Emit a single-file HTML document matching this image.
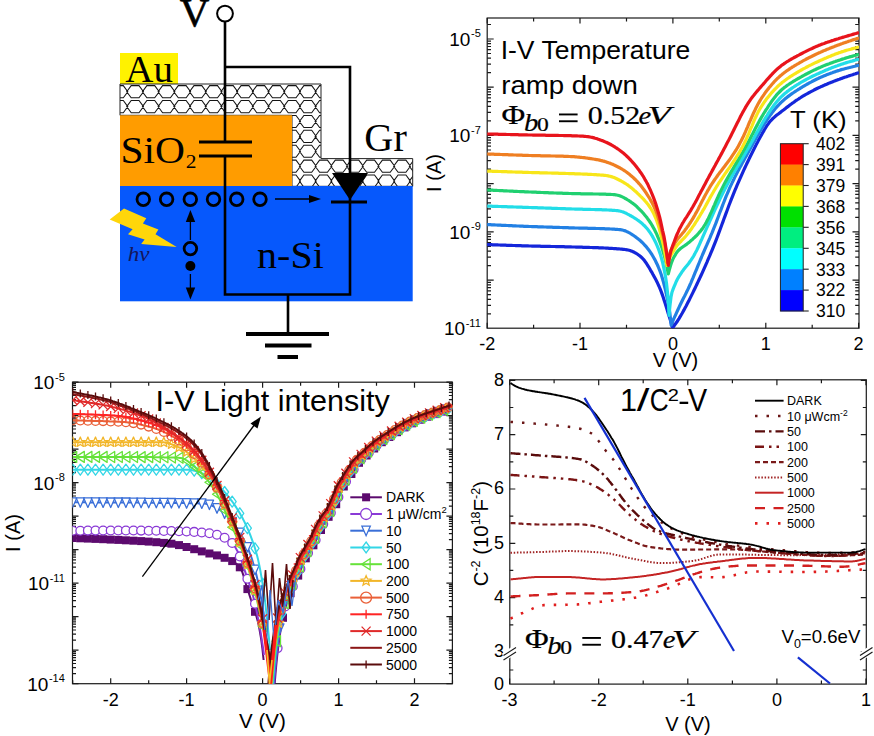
<!DOCTYPE html>
<html><head><meta charset="utf-8"><style>
html,body{margin:0;padding:0;background:#fff;}
svg{display:block;}
</style></head><body>
<svg width="874" height="736" viewBox="0 0 874 736">
<rect width="874" height="736" fill="#fff"/>
<rect x="120" y="53" width="58" height="31" fill="#fff200"/>
<text transform="translate(125.32,82.00) scale(0.9993,1)" font-family="Liberation Serif" font-size="38.93" fill="#000">Au</text>
<polygon points="120,84 321,84 321,158.6 412.7,158.6 412.7,186.3 292,186.3 292,115.3 120,115.3" fill="#fff"/>
<defs><clipPath id="gclip"><polygon points="120,84 321,84 321,158.6 412.7,158.6 412.7,186.3 292,186.3 292,115.3 120,115.3"/></clipPath></defs>
<path d="M115.5,85.6 L123.3,85.6 L127.8,91.7 L123.3,97.8 L115.5,97.8 L111.0,91.7 Z M131.2,85.6 L139.0,85.6 L143.5,91.7 L139.0,97.8 L131.2,97.8 L126.7,91.7 Z M146.9,85.6 L154.7,85.6 L159.2,91.7 L154.7,97.8 L146.9,97.8 L142.4,91.7 Z M162.6,85.6 L170.4,85.6 L174.9,91.7 L170.4,97.8 L162.6,97.8 L158.1,91.7 Z M178.3,85.6 L186.1,85.6 L190.6,91.7 L186.1,97.8 L178.3,97.8 L173.8,91.7 Z M194.0,85.6 L201.8,85.6 L206.3,91.7 L201.8,97.8 L194.0,97.8 L189.5,91.7 Z M209.7,85.6 L217.5,85.6 L222.0,91.7 L217.5,97.8 L209.7,97.8 L205.2,91.7 Z M225.4,85.6 L233.2,85.6 L237.7,91.7 L233.2,97.8 L225.4,97.8 L220.9,91.7 Z M241.1,85.6 L248.9,85.6 L253.4,91.7 L248.9,97.8 L241.1,97.8 L236.6,91.7 Z M256.8,85.6 L264.6,85.6 L269.1,91.7 L264.6,97.8 L256.8,97.8 L252.3,91.7 Z M272.5,85.6 L280.3,85.6 L284.8,91.7 L280.3,97.8 L272.5,97.8 L268.0,91.7 Z M288.2,85.6 L296.0,85.6 L300.5,91.7 L296.0,97.8 L288.2,97.8 L283.7,91.7 Z M303.9,85.6 L311.7,85.6 L316.2,91.7 L311.7,97.8 L303.9,97.8 L299.4,91.7 Z M319.6,85.6 L327.4,85.6 L331.9,91.7 L327.4,97.8 L319.6,97.8 L315.1,91.7 Z M335.3,85.6 L343.1,85.6 L347.6,91.7 L343.1,97.8 L335.3,97.8 L330.8,91.7 Z M351.0,85.6 L358.8,85.6 L363.3,91.7 L358.8,97.8 L351.0,97.8 L346.5,91.7 Z M366.7,85.6 L374.5,85.6 L379.0,91.7 L374.5,97.8 L366.7,97.8 L362.2,91.7 Z M382.4,85.6 L390.2,85.6 L394.7,91.7 L390.2,97.8 L382.4,97.8 L377.9,91.7 Z M398.1,85.6 L405.9,85.6 L410.4,91.7 L405.9,97.8 L398.1,97.8 L393.6,91.7 Z M413.8,85.6 L421.6,85.6 L426.1,91.7 L421.6,97.8 L413.8,97.8 L409.3,91.7 Z M115.5,100.5 L123.3,100.5 L127.8,106.6 L123.3,112.7 L115.5,112.7 L111.0,106.6 Z M131.2,100.5 L139.0,100.5 L143.5,106.6 L139.0,112.7 L131.2,112.7 L126.7,106.6 Z M146.9,100.5 L154.7,100.5 L159.2,106.6 L154.7,112.7 L146.9,112.7 L142.4,106.6 Z M162.6,100.5 L170.4,100.5 L174.9,106.6 L170.4,112.7 L162.6,112.7 L158.1,106.6 Z M178.3,100.5 L186.1,100.5 L190.6,106.6 L186.1,112.7 L178.3,112.7 L173.8,106.6 Z M194.0,100.5 L201.8,100.5 L206.3,106.6 L201.8,112.7 L194.0,112.7 L189.5,106.6 Z M209.7,100.5 L217.5,100.5 L222.0,106.6 L217.5,112.7 L209.7,112.7 L205.2,106.6 Z M225.4,100.5 L233.2,100.5 L237.7,106.6 L233.2,112.7 L225.4,112.7 L220.9,106.6 Z M241.1,100.5 L248.9,100.5 L253.4,106.6 L248.9,112.7 L241.1,112.7 L236.6,106.6 Z M256.8,100.5 L264.6,100.5 L269.1,106.6 L264.6,112.7 L256.8,112.7 L252.3,106.6 Z M272.5,100.5 L280.3,100.5 L284.8,106.6 L280.3,112.7 L272.5,112.7 L268.0,106.6 Z M288.2,100.5 L296.0,100.5 L300.5,106.6 L296.0,112.7 L288.2,112.7 L283.7,106.6 Z M303.9,100.5 L311.7,100.5 L316.2,106.6 L311.7,112.7 L303.9,112.7 L299.4,106.6 Z M319.6,100.5 L327.4,100.5 L331.9,106.6 L327.4,112.7 L319.6,112.7 L315.1,106.6 Z M335.3,100.5 L343.1,100.5 L347.6,106.6 L343.1,112.7 L335.3,112.7 L330.8,106.6 Z M351.0,100.5 L358.8,100.5 L363.3,106.6 L358.8,112.7 L351.0,112.7 L346.5,106.6 Z M366.7,100.5 L374.5,100.5 L379.0,106.6 L374.5,112.7 L366.7,112.7 L362.2,106.6 Z M382.4,100.5 L390.2,100.5 L394.7,106.6 L390.2,112.7 L382.4,112.7 L377.9,106.6 Z M398.1,100.5 L405.9,100.5 L410.4,106.6 L405.9,112.7 L398.1,112.7 L393.6,106.6 Z M413.8,100.5 L421.6,100.5 L426.1,106.6 L421.6,112.7 L413.8,112.7 L409.3,106.6 Z M115.5,115.4 L123.3,115.4 L127.8,121.5 L123.3,127.5 L115.5,127.5 L111.0,121.5 Z M131.2,115.4 L139.0,115.4 L143.5,121.5 L139.0,127.5 L131.2,127.5 L126.7,121.5 Z M146.9,115.4 L154.7,115.4 L159.2,121.5 L154.7,127.5 L146.9,127.5 L142.4,121.5 Z M162.6,115.4 L170.4,115.4 L174.9,121.5 L170.4,127.5 L162.6,127.5 L158.1,121.5 Z M178.3,115.4 L186.1,115.4 L190.6,121.5 L186.1,127.5 L178.3,127.5 L173.8,121.5 Z M194.0,115.4 L201.8,115.4 L206.3,121.5 L201.8,127.5 L194.0,127.5 L189.5,121.5 Z M209.7,115.4 L217.5,115.4 L222.0,121.5 L217.5,127.5 L209.7,127.5 L205.2,121.5 Z M225.4,115.4 L233.2,115.4 L237.7,121.5 L233.2,127.5 L225.4,127.5 L220.9,121.5 Z M241.1,115.4 L248.9,115.4 L253.4,121.5 L248.9,127.5 L241.1,127.5 L236.6,121.5 Z M256.8,115.4 L264.6,115.4 L269.1,121.5 L264.6,127.5 L256.8,127.5 L252.3,121.5 Z M272.5,115.4 L280.3,115.4 L284.8,121.5 L280.3,127.5 L272.5,127.5 L268.0,121.5 Z M288.2,115.4 L296.0,115.4 L300.5,121.5 L296.0,127.5 L288.2,127.5 L283.7,121.5 Z M303.9,115.4 L311.7,115.4 L316.2,121.5 L311.7,127.5 L303.9,127.5 L299.4,121.5 Z M319.6,115.4 L327.4,115.4 L331.9,121.5 L327.4,127.5 L319.6,127.5 L315.1,121.5 Z M335.3,115.4 L343.1,115.4 L347.6,121.5 L343.1,127.5 L335.3,127.5 L330.8,121.5 Z M351.0,115.4 L358.8,115.4 L363.3,121.5 L358.8,127.5 L351.0,127.5 L346.5,121.5 Z M366.7,115.4 L374.5,115.4 L379.0,121.5 L374.5,127.5 L366.7,127.5 L362.2,121.5 Z M382.4,115.4 L390.2,115.4 L394.7,121.5 L390.2,127.5 L382.4,127.5 L377.9,121.5 Z M398.1,115.4 L405.9,115.4 L410.4,121.5 L405.9,127.5 L398.1,127.5 L393.6,121.5 Z M413.8,115.4 L421.6,115.4 L426.1,121.5 L421.6,127.5 L413.8,127.5 L409.3,121.5 Z M115.5,130.3 L123.3,130.3 L127.8,136.4 L123.3,142.5 L115.5,142.5 L111.0,136.4 Z M131.2,130.3 L139.0,130.3 L143.5,136.4 L139.0,142.5 L131.2,142.5 L126.7,136.4 Z M146.9,130.3 L154.7,130.3 L159.2,136.4 L154.7,142.5 L146.9,142.5 L142.4,136.4 Z M162.6,130.3 L170.4,130.3 L174.9,136.4 L170.4,142.5 L162.6,142.5 L158.1,136.4 Z M178.3,130.3 L186.1,130.3 L190.6,136.4 L186.1,142.5 L178.3,142.5 L173.8,136.4 Z M194.0,130.3 L201.8,130.3 L206.3,136.4 L201.8,142.5 L194.0,142.5 L189.5,136.4 Z M209.7,130.3 L217.5,130.3 L222.0,136.4 L217.5,142.5 L209.7,142.5 L205.2,136.4 Z M225.4,130.3 L233.2,130.3 L237.7,136.4 L233.2,142.5 L225.4,142.5 L220.9,136.4 Z M241.1,130.3 L248.9,130.3 L253.4,136.4 L248.9,142.5 L241.1,142.5 L236.6,136.4 Z M256.8,130.3 L264.6,130.3 L269.1,136.4 L264.6,142.5 L256.8,142.5 L252.3,136.4 Z M272.5,130.3 L280.3,130.3 L284.8,136.4 L280.3,142.5 L272.5,142.5 L268.0,136.4 Z M288.2,130.3 L296.0,130.3 L300.5,136.4 L296.0,142.5 L288.2,142.5 L283.7,136.4 Z M303.9,130.3 L311.7,130.3 L316.2,136.4 L311.7,142.5 L303.9,142.5 L299.4,136.4 Z M319.6,130.3 L327.4,130.3 L331.9,136.4 L327.4,142.5 L319.6,142.5 L315.1,136.4 Z M335.3,130.3 L343.1,130.3 L347.6,136.4 L343.1,142.5 L335.3,142.5 L330.8,136.4 Z M351.0,130.3 L358.8,130.3 L363.3,136.4 L358.8,142.5 L351.0,142.5 L346.5,136.4 Z M366.7,130.3 L374.5,130.3 L379.0,136.4 L374.5,142.5 L366.7,142.5 L362.2,136.4 Z M382.4,130.3 L390.2,130.3 L394.7,136.4 L390.2,142.5 L382.4,142.5 L377.9,136.4 Z M398.1,130.3 L405.9,130.3 L410.4,136.4 L405.9,142.5 L398.1,142.5 L393.6,136.4 Z M413.8,130.3 L421.6,130.3 L426.1,136.4 L421.6,142.5 L413.8,142.5 L409.3,136.4 Z M115.5,145.2 L123.3,145.2 L127.8,151.2 L123.3,157.3 L115.5,157.3 L111.0,151.2 Z M131.2,145.2 L139.0,145.2 L143.5,151.2 L139.0,157.3 L131.2,157.3 L126.7,151.2 Z M146.9,145.2 L154.7,145.2 L159.2,151.2 L154.7,157.3 L146.9,157.3 L142.4,151.2 Z M162.6,145.2 L170.4,145.2 L174.9,151.2 L170.4,157.3 L162.6,157.3 L158.1,151.2 Z M178.3,145.2 L186.1,145.2 L190.6,151.2 L186.1,157.3 L178.3,157.3 L173.8,151.2 Z M194.0,145.2 L201.8,145.2 L206.3,151.2 L201.8,157.3 L194.0,157.3 L189.5,151.2 Z M209.7,145.2 L217.5,145.2 L222.0,151.2 L217.5,157.3 L209.7,157.3 L205.2,151.2 Z M225.4,145.2 L233.2,145.2 L237.7,151.2 L233.2,157.3 L225.4,157.3 L220.9,151.2 Z M241.1,145.2 L248.9,145.2 L253.4,151.2 L248.9,157.3 L241.1,157.3 L236.6,151.2 Z M256.8,145.2 L264.6,145.2 L269.1,151.2 L264.6,157.3 L256.8,157.3 L252.3,151.2 Z M272.5,145.2 L280.3,145.2 L284.8,151.2 L280.3,157.3 L272.5,157.3 L268.0,151.2 Z M288.2,145.2 L296.0,145.2 L300.5,151.2 L296.0,157.3 L288.2,157.3 L283.7,151.2 Z M303.9,145.2 L311.7,145.2 L316.2,151.2 L311.7,157.3 L303.9,157.3 L299.4,151.2 Z M319.6,145.2 L327.4,145.2 L331.9,151.2 L327.4,157.3 L319.6,157.3 L315.1,151.2 Z M335.3,145.2 L343.1,145.2 L347.6,151.2 L343.1,157.3 L335.3,157.3 L330.8,151.2 Z M351.0,145.2 L358.8,145.2 L363.3,151.2 L358.8,157.3 L351.0,157.3 L346.5,151.2 Z M366.7,145.2 L374.5,145.2 L379.0,151.2 L374.5,157.3 L366.7,157.3 L362.2,151.2 Z M382.4,145.2 L390.2,145.2 L394.7,151.2 L390.2,157.3 L382.4,157.3 L377.9,151.2 Z M398.1,145.2 L405.9,145.2 L410.4,151.2 L405.9,157.3 L398.1,157.3 L393.6,151.2 Z M413.8,145.2 L421.6,145.2 L426.1,151.2 L421.6,157.3 L413.8,157.3 L409.3,151.2 Z M115.5,160.1 L123.3,160.1 L127.8,166.2 L123.3,172.2 L115.5,172.2 L111.0,166.2 Z M131.2,160.1 L139.0,160.1 L143.5,166.2 L139.0,172.2 L131.2,172.2 L126.7,166.2 Z M146.9,160.1 L154.7,160.1 L159.2,166.2 L154.7,172.2 L146.9,172.2 L142.4,166.2 Z M162.6,160.1 L170.4,160.1 L174.9,166.2 L170.4,172.2 L162.6,172.2 L158.1,166.2 Z M178.3,160.1 L186.1,160.1 L190.6,166.2 L186.1,172.2 L178.3,172.2 L173.8,166.2 Z M194.0,160.1 L201.8,160.1 L206.3,166.2 L201.8,172.2 L194.0,172.2 L189.5,166.2 Z M209.7,160.1 L217.5,160.1 L222.0,166.2 L217.5,172.2 L209.7,172.2 L205.2,166.2 Z M225.4,160.1 L233.2,160.1 L237.7,166.2 L233.2,172.2 L225.4,172.2 L220.9,166.2 Z M241.1,160.1 L248.9,160.1 L253.4,166.2 L248.9,172.2 L241.1,172.2 L236.6,166.2 Z M256.8,160.1 L264.6,160.1 L269.1,166.2 L264.6,172.2 L256.8,172.2 L252.3,166.2 Z M272.5,160.1 L280.3,160.1 L284.8,166.2 L280.3,172.2 L272.5,172.2 L268.0,166.2 Z M288.2,160.1 L296.0,160.1 L300.5,166.2 L296.0,172.2 L288.2,172.2 L283.7,166.2 Z M303.9,160.1 L311.7,160.1 L316.2,166.2 L311.7,172.2 L303.9,172.2 L299.4,166.2 Z M319.6,160.1 L327.4,160.1 L331.9,166.2 L327.4,172.2 L319.6,172.2 L315.1,166.2 Z M335.3,160.1 L343.1,160.1 L347.6,166.2 L343.1,172.2 L335.3,172.2 L330.8,166.2 Z M351.0,160.1 L358.8,160.1 L363.3,166.2 L358.8,172.2 L351.0,172.2 L346.5,166.2 Z M366.7,160.1 L374.5,160.1 L379.0,166.2 L374.5,172.2 L366.7,172.2 L362.2,166.2 Z M382.4,160.1 L390.2,160.1 L394.7,166.2 L390.2,172.2 L382.4,172.2 L377.9,166.2 Z M398.1,160.1 L405.9,160.1 L410.4,166.2 L405.9,172.2 L398.1,172.2 L393.6,166.2 Z M413.8,160.1 L421.6,160.1 L426.1,166.2 L421.6,172.2 L413.8,172.2 L409.3,166.2 Z M115.5,175.0 L123.3,175.0 L127.8,181.1 L123.3,187.2 L115.5,187.2 L111.0,181.1 Z M131.2,175.0 L139.0,175.0 L143.5,181.1 L139.0,187.2 L131.2,187.2 L126.7,181.1 Z M146.9,175.0 L154.7,175.0 L159.2,181.1 L154.7,187.2 L146.9,187.2 L142.4,181.1 Z M162.6,175.0 L170.4,175.0 L174.9,181.1 L170.4,187.2 L162.6,187.2 L158.1,181.1 Z M178.3,175.0 L186.1,175.0 L190.6,181.1 L186.1,187.2 L178.3,187.2 L173.8,181.1 Z M194.0,175.0 L201.8,175.0 L206.3,181.1 L201.8,187.2 L194.0,187.2 L189.5,181.1 Z M209.7,175.0 L217.5,175.0 L222.0,181.1 L217.5,187.2 L209.7,187.2 L205.2,181.1 Z M225.4,175.0 L233.2,175.0 L237.7,181.1 L233.2,187.2 L225.4,187.2 L220.9,181.1 Z M241.1,175.0 L248.9,175.0 L253.4,181.1 L248.9,187.2 L241.1,187.2 L236.6,181.1 Z M256.8,175.0 L264.6,175.0 L269.1,181.1 L264.6,187.2 L256.8,187.2 L252.3,181.1 Z M272.5,175.0 L280.3,175.0 L284.8,181.1 L280.3,187.2 L272.5,187.2 L268.0,181.1 Z M288.2,175.0 L296.0,175.0 L300.5,181.1 L296.0,187.2 L288.2,187.2 L283.7,181.1 Z M303.9,175.0 L311.7,175.0 L316.2,181.1 L311.7,187.2 L303.9,187.2 L299.4,181.1 Z M319.6,175.0 L327.4,175.0 L331.9,181.1 L327.4,187.2 L319.6,187.2 L315.1,181.1 Z M335.3,175.0 L343.1,175.0 L347.6,181.1 L343.1,187.2 L335.3,187.2 L330.8,181.1 Z M351.0,175.0 L358.8,175.0 L363.3,181.1 L358.8,187.2 L351.0,187.2 L346.5,181.1 Z M366.7,175.0 L374.5,175.0 L379.0,181.1 L374.5,187.2 L366.7,187.2 L362.2,181.1 Z M382.4,175.0 L390.2,175.0 L394.7,181.1 L390.2,187.2 L382.4,187.2 L377.9,181.1 Z M398.1,175.0 L405.9,175.0 L410.4,181.1 L405.9,187.2 L398.1,187.2 L393.6,181.1 Z M413.8,175.0 L421.6,175.0 L426.1,181.1 L421.6,187.2 L413.8,187.2 L409.3,181.1 Z " fill="none" stroke="#151515" stroke-width="1.05" clip-path="url(#gclip)"/>
<polygon points="120,84 321,84 321,158.6 412.7,158.6 412.7,186.3 292,186.3 292,115.3 120,115.3" fill="none" stroke="#222" stroke-width="1"/>
<rect x="120" y="115.3" width="172" height="71" fill="#ff9c00"/>
<text transform="translate(120.43,162.70) scale(1.1048,1)" font-family="Liberation Serif" font-size="37.50" fill="#000">SiO</text>
<text transform="translate(185.86,167.60) scale(1.0843,1)" font-family="Liberation Serif" font-size="19.79" fill="#000">2</text>
<rect x="120" y="186" width="292.7" height="115.3" fill="#0658fc"/>
<text transform="translate(257.08,268.00) scale(1.0667,1)" font-family="Liberation Serif" font-size="37.50" fill="#000">n-Si</text>
<text transform="translate(364.35,151.00) scale(1.0027,1)" font-family="Liberation Serif" font-size="40.17" fill="#000">Gr</text>
<text transform="translate(179.84,26.40) scale(1.0251,1)" font-family="Liberation Serif" font-size="40.01" fill="#000" stroke="#000" stroke-width="0.6">V</text>
<circle cx="225" cy="13.6" r="7.9" fill="#fff" stroke="#000" stroke-width="2"/>
<g stroke="#000" stroke-width="2.6" fill="none">
<path d="M225,21 V142 M225,156 V294.5 H350 V67 H225"/>
<path d="M288,294.5 V334"/>
</g>
<rect x="199" y="140.5" width="53" height="3" fill="#000"/>
<rect x="199" y="154.5" width="53" height="3" fill="#000"/>
<polygon points="332,173 368,173 350,200" fill="#000"/>
<rect x="331" y="200.5" width="36" height="3" fill="#000"/>
<rect x="246" y="332" width="83" height="4" fill="#000"/>
<rect x="265" y="343.5" width="46.5" height="4" fill="#000"/>
<rect x="277.5" y="355" width="20.5" height="4" fill="#000"/>
<circle cx="143.3" cy="199.3" r="6.3" fill="none" stroke="#000" stroke-width="2.8"/>
<circle cx="166.6" cy="199.3" r="6.3" fill="none" stroke="#000" stroke-width="2.8"/>
<circle cx="190.3" cy="199.3" r="6.3" fill="none" stroke="#000" stroke-width="2.8"/>
<circle cx="213.5" cy="199.3" r="6.3" fill="none" stroke="#000" stroke-width="2.8"/>
<circle cx="236.7" cy="199.3" r="6.3" fill="none" stroke="#000" stroke-width="2.8"/>
<circle cx="260.0" cy="199.3" r="6.3" fill="none" stroke="#000" stroke-width="2.8"/>
<path d="M275,199 H313" stroke="#000" stroke-width="1.3"/>
<polygon points="321,199 309,195 309,203" fill="#000"/>
<path d="M190.4,220 V240 M190.4,274 V289" stroke="#000" stroke-width="1.3"/>
<polygon points="190.4,210 185.8,222 195.2,222" fill="#000"/>
<polygon points="190.4,299.5 185.8,287.5 195.2,287.5" fill="#000"/>
<circle cx="190.4" cy="248.6" r="6.3" fill="none" stroke="#000" stroke-width="2.8"/>
<circle cx="190.4" cy="266" r="5" fill="#000"/>
<polygon points="109.7,219.5 124,208.6 146.3,218.3 142.9,223.5 158.4,229.5 155.5,234.3 176.7,246.9 141.2,244 144.6,239.5 128,234.3 132.6,229.2" fill="#ffd60a"/>
<text transform="translate(127.77,260.60) scale(1.0942,1)" font-family="Liberation Serif" font-size="21.04" font-style="italic" fill="#15155a">hν</text>
<g stroke="#1a1a1a" stroke-width="1.2" fill="none">
<rect x="487.2" y="18.0" width="371.8" height="310.2"/>
<path d="M487.2,328.2 v-5.5 M487.2,18.0 v5.5 M533.6,328.2 v-3.5 M533.6,18.0 v3.5 M580.0,328.2 v-5.5 M580.0,18.0 v5.5 M626.5,328.2 v-3.5 M626.5,18.0 v3.5 M672.9,328.2 v-5.5 M672.9,18.0 v5.5 M719.3,328.2 v-3.5 M719.3,18.0 v3.5 M765.8,328.2 v-5.5 M765.8,18.0 v5.5 M812.2,328.2 v-3.5 M812.2,18.0 v3.5 M858.6,328.2 v-5.5 M858.6,18.0 v5.5 M487.2,313.8 h3.8 M859.0,313.8 h-3.8 M487.2,305.3 h3.8 M859.0,305.3 h-3.8 M487.2,299.3 h3.8 M859.0,299.3 h-3.8 M487.2,294.6 h3.8 M859.0,294.6 h-3.8 M487.2,290.8 h3.8 M859.0,290.8 h-3.8 M487.2,287.6 h3.8 M859.0,287.6 h-3.8 M487.2,284.8 h3.8 M859.0,284.8 h-3.8 M487.2,282.3 h3.8 M859.0,282.3 h-3.8 M487.2,280.1 h6.5 M859.0,280.1 h-6.5 M487.2,265.6 h3.8 M859.0,265.6 h-3.8 M487.2,257.1 h3.8 M859.0,257.1 h-3.8 M487.2,251.1 h3.8 M859.0,251.1 h-3.8 M487.2,246.4 h3.8 M859.0,246.4 h-3.8 M487.2,242.6 h3.8 M859.0,242.6 h-3.8 M487.2,239.3 h3.8 M859.0,239.3 h-3.8 M487.2,236.6 h3.8 M859.0,236.6 h-3.8 M487.2,234.1 h3.8 M859.0,234.1 h-3.8 M487.2,231.9 h6.5 M859.0,231.9 h-6.5 M487.2,217.4 h3.8 M859.0,217.4 h-3.8 M487.2,208.9 h3.8 M859.0,208.9 h-3.8 M487.2,202.8 h3.8 M859.0,202.8 h-3.8 M487.2,198.2 h3.8 M859.0,198.2 h-3.8 M487.2,194.4 h3.8 M859.0,194.4 h-3.8 M487.2,191.1 h3.8 M859.0,191.1 h-3.8 M487.2,188.3 h3.8 M859.0,188.3 h-3.8 M487.2,185.9 h3.8 M859.0,185.9 h-3.8 M487.2,183.7 h6.5 M859.0,183.7 h-6.5 M487.2,169.1 h3.8 M859.0,169.1 h-3.8 M487.2,160.7 h3.8 M859.0,160.7 h-3.8 M487.2,154.6 h3.8 M859.0,154.6 h-3.8 M487.2,150.0 h3.8 M859.0,150.0 h-3.8 M487.2,146.1 h3.8 M859.0,146.1 h-3.8 M487.2,142.9 h3.8 M859.0,142.9 h-3.8 M487.2,140.1 h3.8 M859.0,140.1 h-3.8 M487.2,137.6 h3.8 M859.0,137.6 h-3.8 M487.2,135.4 h6.5 M859.0,135.4 h-6.5 M487.2,120.9 h3.8 M859.0,120.9 h-3.8 M487.2,112.4 h3.8 M859.0,112.4 h-3.8 M487.2,106.4 h3.8 M859.0,106.4 h-3.8 M487.2,101.7 h3.8 M859.0,101.7 h-3.8 M487.2,97.9 h3.8 M859.0,97.9 h-3.8 M487.2,94.7 h3.8 M859.0,94.7 h-3.8 M487.2,91.9 h3.8 M859.0,91.9 h-3.8 M487.2,89.4 h3.8 M859.0,89.4 h-3.8 M487.2,87.2 h6.5 M859.0,87.2 h-6.5 M487.2,72.7 h3.8 M859.0,72.7 h-3.8 M487.2,64.2 h3.8 M859.0,64.2 h-3.8 M487.2,58.2 h3.8 M859.0,58.2 h-3.8 M487.2,53.5 h3.8 M859.0,53.5 h-3.8 M487.2,49.7 h3.8 M859.0,49.7 h-3.8 M487.2,46.5 h3.8 M859.0,46.5 h-3.8 M487.2,43.7 h3.8 M859.0,43.7 h-3.8 M487.2,41.2 h3.8 M859.0,41.2 h-3.8 M487.2,39.0 h6.5 M859.0,39.0 h-6.5 M487.2,24.5 h3.8 M859.0,24.5 h-3.8 "/>
</g>
<text x="487.2" y="349.5" font-family="Liberation Sans, sans-serif" font-size="18" text-anchor="middle" fill="#000">-2</text>
<text x="580.0" y="349.5" font-family="Liberation Sans, sans-serif" font-size="18" text-anchor="middle" fill="#000">-1</text>
<text x="672.9" y="349.5" font-family="Liberation Sans, sans-serif" font-size="18" text-anchor="middle" fill="#000">0</text>
<text x="765.8" y="349.5" font-family="Liberation Sans, sans-serif" font-size="18" text-anchor="middle" fill="#000">1</text>
<text x="858.6" y="349.5" font-family="Liberation Sans, sans-serif" font-size="18" text-anchor="middle" fill="#000">2</text>
<text x="675.5" y="366.5" font-family="Liberation Sans, sans-serif" font-size="20" text-anchor="middle" fill="#000">V (V)</text>
<text x="480.8" y="45.9" font-family="Liberation Sans, sans-serif" font-size="19" text-anchor="end" fill="#000">10<tspan font-size="11" dy="-8.6" dx="0.6">-5</tspan></text>
<text x="480.8" y="142.3" font-family="Liberation Sans, sans-serif" font-size="19" text-anchor="end" fill="#000">10<tspan font-size="11" dy="-8.6" dx="0.6">-7</tspan></text>
<text x="480.8" y="238.8" font-family="Liberation Sans, sans-serif" font-size="19" text-anchor="end" fill="#000">10<tspan font-size="11" dy="-8.6" dx="0.6">-9</tspan></text>
<text x="480.8" y="335.2" font-family="Liberation Sans, sans-serif" font-size="19" text-anchor="end" fill="#000">10<tspan font-size="11" dy="-8.6" dx="0.6">-11</tspan></text>
<text transform="translate(440.6,173) rotate(-90)" font-family="Liberation Sans, sans-serif" font-size="20" text-anchor="middle" fill="#000">I (A)</text>
<defs><clipPath id="aclip"><rect x="487.2" y="18.0" width="371.8" height="310.2"/></clipPath></defs>
<g fill="none" stroke-width="3.2" stroke-linejoin="round" stroke-linecap="round" clip-path="url(#aclip)">
<path d="M487.5,244.6 L488.5,244.6 L489.5,244.7 L490.5,244.7 L491.5,244.7 L492.6,244.8 L493.6,244.8 L494.6,244.8 L495.6,244.9 L496.6,244.9 L497.6,244.9 L498.6,245.0 L499.6,245.0 L500.7,245.1 L501.7,245.1 L502.7,245.1 L503.7,245.2 L504.7,245.2 L505.7,245.2 L506.7,245.3 L507.7,245.3 L508.8,245.3 L509.8,245.4 L510.8,245.4 L511.8,245.4 L512.8,245.5 L513.8,245.5 L514.8,245.5 L515.8,245.6 L516.8,245.6 L517.9,245.6 L518.9,245.7 L519.9,245.7 L520.9,245.7 L521.9,245.8 L522.9,245.8 L523.9,245.8 L524.9,245.9 L526.0,245.9 L527.0,245.9 L528.0,245.9 L529.0,246.0 L530.0,246.0 L531.0,246.0 L532.0,246.1 L533.0,246.1 L534.0,246.1 L535.0,246.1 L536.0,246.1 L537.0,246.2 L538.0,246.2 L539.0,246.2 L540.0,246.2 L541.0,246.3 L542.0,246.3 L543.0,246.3 L544.0,246.3 L545.0,246.3 L546.0,246.4 L547.0,246.4 L548.0,246.4 L549.0,246.4 L550.0,246.4 L551.0,246.5 L552.0,246.5 L553.0,246.5 L554.0,246.5 L555.0,246.5 L556.0,246.6 L557.0,246.6 L558.0,246.6 L559.0,246.6 L560.0,246.6 L561.0,246.7 L562.0,246.7 L563.0,246.7 L564.0,246.7 L565.0,246.8 L566.0,246.8 L567.0,246.8 L568.0,246.8 L569.0,246.9 L570.0,246.9 L571.0,246.9 L572.0,247.0 L573.0,247.0 L574.0,247.0 L575.0,247.0 L576.0,247.1 L577.0,247.1 L578.0,247.1 L579.0,247.2 L580.0,247.2 L581.0,247.2 L582.0,247.2 L583.0,247.3 L584.0,247.3 L585.0,247.3 L586.0,247.3 L587.0,247.4 L588.0,247.4 L589.0,247.4 L590.0,247.5 L591.0,247.5 L592.0,247.5 L593.0,247.6 L594.0,247.6 L595.0,247.6 L596.0,247.7 L597.0,247.7 L598.0,247.7 L599.0,247.8 L600.0,247.8 L601.0,247.9 L602.0,247.9 L603.0,247.9 L604.0,248.0 L605.0,248.0 L606.0,248.1 L607.0,248.1 L608.0,248.2 L609.0,248.3 L610.0,248.3 L611.0,248.4 L612.0,248.4 L613.0,248.5 L614.0,248.6 L615.0,248.6 L616.0,248.7 L617.0,248.8 L618.0,248.9 L619.0,248.9 L620.0,249.0 L621.0,249.1 L622.0,249.2 L623.0,249.3 L624.0,249.4 L625.0,249.5 L626.0,249.7 L627.0,249.8 L628.0,250.0 L629.0,250.2 L630.1,250.5 L631.1,250.9 L632.1,251.3 L633.1,251.7 L634.1,252.2 L635.2,252.8 L636.2,253.4 L637.2,254.0 L638.2,254.7 L639.3,255.5 L640.3,256.3 L641.3,257.2 L642.3,258.2 L643.4,259.3 L644.4,260.6 L645.4,261.9 L646.5,263.5 L647.5,265.1 L648.6,266.8 L649.6,268.5 L650.6,270.3 L651.7,272.1 L652.7,274.0 L653.8,275.9 L654.8,277.8 L655.9,279.8 L657.0,281.9 L658.0,284.1 L659.1,286.5 L660.1,288.9 L661.2,291.6 L662.2,294.4 L663.2,297.3 L664.2,300.4 L665.3,303.7 L666.3,307.0 L667.3,310.4 L668.3,313.7 L669.4,317.1 L670.5,320.5 L671.5,324.1 L672.6,328.1 L672.6,328.1 L673.7,326.4 L674.8,324.8 L675.9,323.3 L677.0,321.8 L678.0,320.2 L679.0,318.6 L680.0,316.9 L681.0,315.2 L682.0,313.5 L683.0,311.7 L684.0,309.9 L685.0,308.0 L686.0,306.2 L687.0,304.3 L688.0,302.3 L689.0,300.4 L690.0,298.4 L691.0,296.4 L692.0,294.4 L693.0,292.4 L694.0,290.3 L695.0,288.2 L696.0,286.1 L697.0,284.0 L698.0,281.9 L699.0,279.8 L700.0,277.6 L701.0,275.5 L702.0,273.3 L703.0,271.1 L704.0,268.9 L705.0,266.6 L706.0,264.3 L707.0,262.1 L708.0,259.7 L709.0,257.4 L710.0,255.1 L711.0,252.7 L712.0,250.3 L713.0,247.8 L714.0,245.3 L715.0,242.8 L716.0,240.3 L717.0,237.7 L718.0,235.1 L719.0,232.4 L720.0,229.7 L721.0,227.0 L722.0,224.3 L723.0,221.6 L724.0,218.8 L725.0,216.1 L726.0,213.4 L727.0,210.7 L728.0,208.0 L729.0,205.3 L730.0,202.7 L731.0,200.1 L732.0,197.6 L733.0,195.1 L734.0,192.6 L735.0,190.2 L736.0,187.8 L737.0,185.4 L738.0,183.1 L739.0,180.8 L740.0,178.6 L741.0,176.3 L742.0,174.1 L743.0,171.9 L744.0,169.7 L745.0,167.5 L746.0,165.4 L747.0,163.3 L748.0,161.2 L749.0,159.1 L750.0,157.0 L751.0,155.0 L752.0,153.0 L753.0,151.0 L754.0,149.0 L755.0,147.1 L756.0,145.1 L757.1,143.1 L758.1,141.1 L759.2,139.1 L760.3,137.1 L761.3,135.2 L762.4,133.2 L763.5,131.4 L764.5,129.5 L765.6,127.8 L766.6,126.1 L767.7,124.6 L768.8,123.1 L769.8,121.8 L770.9,120.5 L772.0,119.4 L773.0,118.3 L774.1,117.4 L775.1,116.5 L776.2,115.6 L777.2,114.8 L778.3,114.0 L779.3,113.2 L780.4,112.4 L781.4,111.6 L782.4,110.8 L783.5,110.0 L784.5,109.2 L785.5,108.4 L786.5,107.6 L787.5,106.9 L788.6,106.1 L789.6,105.3 L790.6,104.5 L791.6,103.8 L792.6,103.0 L793.7,102.3 L794.7,101.6 L795.7,100.8 L796.7,100.1 L797.7,99.5 L798.8,98.8 L799.8,98.1 L800.8,97.5 L801.8,96.8 L802.8,96.2 L803.8,95.6 L804.9,95.0 L805.9,94.4 L806.9,93.9 L807.9,93.3 L808.9,92.7 L809.9,92.2 L811.0,91.6 L812.0,91.1 L813.0,90.6 L814.0,90.0 L815.0,89.5 L816.0,89.0 L817.0,88.5 L818.1,88.0 L819.1,87.6 L820.1,87.1 L821.1,86.6 L822.1,86.2 L823.1,85.7 L824.2,85.3 L825.2,84.8 L826.2,84.4 L827.2,84.0 L828.2,83.5 L829.3,83.1 L830.3,82.7 L831.3,82.3 L832.3,81.9 L833.3,81.5 L834.4,81.1 L835.4,80.7 L836.4,80.3 L837.4,79.9 L838.4,79.5 L839.5,79.2 L840.5,78.8 L841.5,78.4 L842.5,78.1 L843.5,77.7 L844.6,77.3 L845.6,77.0 L846.6,76.7 L847.6,76.3 L848.6,76.0 L849.6,75.6 L850.7,75.3 L851.7,75.0 L852.7,74.7 L853.7,74.3 L854.7,74.0 L855.8,73.7 L856.8,73.3 L857.8,73.0" stroke="#1426da"/>
<path d="M487.5,224.6 L488.5,224.6 L489.5,224.7 L490.5,224.7 L491.5,224.8 L492.6,224.8 L493.6,224.9 L494.6,224.9 L495.6,225.0 L496.6,225.0 L497.6,225.1 L498.6,225.1 L499.6,225.2 L500.7,225.2 L501.7,225.3 L502.7,225.3 L503.7,225.4 L504.7,225.4 L505.7,225.4 L506.7,225.5 L507.7,225.5 L508.8,225.6 L509.8,225.6 L510.8,225.7 L511.8,225.7 L512.8,225.8 L513.8,225.8 L514.8,225.9 L515.8,225.9 L516.8,226.0 L517.9,226.0 L518.9,226.0 L519.9,226.1 L520.9,226.1 L521.9,226.2 L522.9,226.2 L523.9,226.3 L524.9,226.3 L526.0,226.3 L527.0,226.4 L528.0,226.4 L529.0,226.5 L530.0,226.5 L531.0,226.5 L532.0,226.6 L533.0,226.6 L534.0,226.6 L535.0,226.7 L536.0,226.7 L537.0,226.7 L538.0,226.8 L539.0,226.8 L540.0,226.8 L541.0,226.9 L542.0,226.9 L543.0,226.9 L544.0,227.0 L545.0,227.0 L546.0,227.0 L547.0,227.1 L548.0,227.1 L549.0,227.1 L550.0,227.2 L551.0,227.2 L552.0,227.2 L553.0,227.3 L554.0,227.3 L555.0,227.3 L556.0,227.3 L557.0,227.4 L558.0,227.4 L559.0,227.4 L560.0,227.5 L561.0,227.5 L562.0,227.5 L563.0,227.6 L564.0,227.6 L565.0,227.6 L566.0,227.7 L567.0,227.7 L568.0,227.7 L569.0,227.8 L570.0,227.8 L571.0,227.8 L572.0,227.9 L573.0,227.9 L574.0,227.9 L575.0,228.0 L576.0,228.0 L577.0,228.0 L578.0,228.0 L579.1,228.1 L580.1,228.1 L581.1,228.1 L582.1,228.1 L583.1,228.2 L584.1,228.2 L585.1,228.2 L586.1,228.2 L587.1,228.2 L588.1,228.3 L589.1,228.3 L590.1,228.3 L591.1,228.3 L592.1,228.4 L593.1,228.4 L594.1,228.4 L595.1,228.4 L596.2,228.5 L597.2,228.5 L598.2,228.5 L599.2,228.5 L600.2,228.6 L601.2,228.6 L602.2,228.6 L603.2,228.7 L604.2,228.7 L605.2,228.8 L606.2,228.8 L607.2,228.8 L608.2,228.9 L609.2,228.9 L610.2,229.0 L611.2,229.0 L612.2,229.1 L613.3,229.1 L614.3,229.2 L615.3,229.3 L616.3,229.3 L617.3,229.4 L618.3,229.5 L619.3,229.6 L620.3,229.7 L621.3,229.8 L622.3,230.0 L623.3,230.3 L624.4,230.6 L625.4,230.9 L626.4,231.4 L627.4,231.8 L628.5,232.4 L629.5,232.9 L630.5,233.5 L631.5,234.2 L632.5,234.8 L633.6,235.5 L634.6,236.2 L635.6,236.9 L636.6,237.7 L637.6,238.5 L638.6,239.3 L639.7,240.1 L640.7,241.0 L641.7,242.0 L642.7,242.9 L643.7,244.0 L644.7,245.1 L645.7,246.2 L646.8,247.4 L647.8,248.7 L648.8,250.0 L649.8,251.4 L650.8,252.9 L651.9,254.5 L652.9,256.2 L653.9,258.0 L655.0,259.9 L656.0,262.0 L657.1,264.2 L658.1,266.5 L659.1,269.0 L660.2,271.7 L661.2,274.6 L662.2,277.7 L663.2,281.2 L664.2,285.1 L665.3,289.4 L666.3,293.9 L667.3,298.6 L668.3,303.6 L669.8,312.6 L671.2,325.2 L671.2,325.2 L672.3,322.4 L673.4,319.7 L674.5,317.2 L675.6,314.8 L676.7,312.4 L677.8,310.0 L678.9,307.6 L680.0,305.3 L681.1,303.0 L682.2,300.7 L683.3,298.5 L684.5,296.3 L685.6,294.1 L686.7,291.8 L687.8,289.6 L688.9,287.3 L689.9,285.0 L691.0,282.6 L692.0,280.2 L693.1,277.7 L694.1,275.2 L695.1,272.7 L696.2,270.2 L697.2,267.6 L698.2,265.1 L699.3,262.5 L700.3,260.0 L701.4,257.5 L702.4,255.0 L703.5,252.5 L704.5,250.1 L705.6,247.6 L706.7,245.2 L707.7,242.8 L708.8,240.3 L709.9,237.9 L710.9,235.4 L712.0,232.9 L713.0,230.4 L714.0,227.8 L715.1,225.2 L716.1,222.6 L717.1,219.9 L718.1,217.2 L719.1,214.5 L720.1,211.8 L721.2,209.1 L722.2,206.4 L723.2,203.8 L724.2,201.2 L725.2,198.6 L726.2,196.1 L727.3,193.7 L728.3,191.3 L729.3,188.9 L730.3,186.6 L731.4,184.4 L732.4,182.2 L733.5,180.1 L734.5,177.9 L735.5,175.9 L736.6,173.8 L737.6,171.8 L738.7,169.8 L739.7,167.8 L740.8,165.9 L741.8,164.0 L742.8,162.1 L743.9,160.2 L744.9,158.3 L746.0,156.4 L747.0,154.5 L748.0,152.7 L749.1,150.8 L750.1,148.9 L751.2,147.0 L752.2,145.2 L753.2,143.3 L754.3,141.4 L755.3,139.5 L756.4,137.6 L757.4,135.8 L758.5,133.9 L759.5,132.1 L760.5,130.3 L761.6,128.5 L762.6,126.7 L763.7,125.0 L764.7,123.4 L765.8,121.8 L766.8,120.2 L767.8,118.6 L768.9,117.1 L769.9,115.6 L771.0,114.2 L772.0,112.8 L773.1,111.4 L774.1,110.1 L775.2,108.8 L776.2,107.6 L777.3,106.4 L778.3,105.3 L779.4,104.2 L780.4,103.1 L781.4,102.1 L782.4,101.2 L783.5,100.3 L784.5,99.4 L785.5,98.5 L786.5,97.7 L787.5,96.9 L788.6,96.1 L789.6,95.4 L790.6,94.6 L791.6,93.9 L792.6,93.2 L793.7,92.5 L794.7,91.8 L795.7,91.2 L796.7,90.5 L797.7,89.9 L798.8,89.2 L799.8,88.6 L800.8,87.9 L801.8,87.3 L802.8,86.7 L803.8,86.1 L804.9,85.5 L805.9,84.9 L806.9,84.3 L807.9,83.8 L808.9,83.2 L809.9,82.6 L811.0,82.1 L812.0,81.5 L813.0,81.0 L814.0,80.5 L815.0,80.0 L816.0,79.5 L817.0,79.0 L818.1,78.5 L819.1,78.0 L820.1,77.6 L821.1,77.1 L822.1,76.7 L823.1,76.3 L824.2,75.8 L825.2,75.4 L826.2,75.0 L827.2,74.6 L828.2,74.2 L829.3,73.8 L830.3,73.4 L831.3,73.0 L832.3,72.7 L833.3,72.3 L834.4,71.9 L835.4,71.6 L836.4,71.2 L837.4,70.9 L838.4,70.6 L839.5,70.3 L840.5,69.9 L841.5,69.6 L842.5,69.3 L843.5,69.1 L844.6,68.8 L845.6,68.5 L846.6,68.2 L847.6,68.0 L848.6,67.7 L849.6,67.5 L850.7,67.2 L851.7,67.0 L852.7,66.7 L853.7,66.5 L854.7,66.3 L855.8,66.0 L856.8,65.8 L857.8,65.5" stroke="#2280e4"/>
<path d="M487.5,206.1 L488.5,206.1 L489.5,206.2 L490.5,206.2 L491.5,206.2 L492.6,206.3 L493.6,206.3 L494.6,206.3 L495.6,206.4 L496.6,206.4 L497.6,206.4 L498.6,206.5 L499.6,206.5 L500.7,206.5 L501.7,206.6 L502.7,206.6 L503.7,206.6 L504.7,206.7 L505.7,206.7 L506.7,206.7 L507.7,206.8 L508.8,206.8 L509.8,206.8 L510.8,206.9 L511.8,206.9 L512.8,206.9 L513.8,207.0 L514.8,207.0 L515.8,207.0 L516.8,207.1 L517.9,207.1 L518.9,207.1 L519.9,207.2 L520.9,207.2 L521.9,207.2 L522.9,207.3 L523.9,207.3 L524.9,207.3 L526.0,207.4 L527.0,207.4 L528.0,207.4 L529.0,207.5 L530.0,207.5 L531.0,207.5 L532.0,207.6 L533.0,207.6 L534.0,207.6 L535.0,207.7 L536.0,207.7 L537.0,207.7 L538.0,207.8 L539.0,207.8 L540.0,207.8 L541.0,207.9 L542.0,207.9 L543.0,207.9 L544.0,208.0 L545.0,208.0 L546.0,208.1 L547.0,208.1 L548.0,208.1 L549.0,208.2 L550.0,208.2 L551.0,208.2 L552.0,208.3 L553.0,208.3 L554.0,208.3 L555.0,208.4 L556.0,208.4 L557.0,208.4 L558.0,208.5 L559.0,208.5 L560.0,208.5 L561.0,208.6 L562.0,208.6 L563.0,208.6 L564.0,208.7 L565.0,208.7 L566.0,208.8 L567.0,208.8 L568.0,208.8 L569.0,208.9 L570.0,208.9 L571.0,208.9 L572.0,209.0 L573.0,209.0 L574.0,209.0 L575.1,209.1 L576.1,209.1 L577.1,209.1 L578.1,209.1 L579.1,209.2 L580.1,209.2 L581.1,209.2 L582.1,209.2 L583.1,209.3 L584.1,209.3 L585.2,209.3 L586.2,209.3 L587.2,209.4 L588.2,209.4 L589.2,209.4 L590.2,209.4 L591.2,209.5 L592.2,209.5 L593.2,209.5 L594.2,209.5 L595.3,209.6 L596.3,209.6 L597.3,209.6 L598.3,209.6 L599.3,209.7 L600.3,209.7 L601.3,209.7 L602.3,209.8 L603.3,209.8 L604.4,209.9 L605.4,209.9 L606.4,209.9 L607.4,210.0 L608.4,210.0 L609.4,210.1 L610.4,210.2 L611.4,210.2 L612.4,210.3 L613.4,210.3 L614.5,210.4 L615.5,210.5 L616.5,210.6 L617.5,210.7 L618.5,210.8 L619.5,211.0 L620.5,211.2 L621.5,211.5 L622.6,211.8 L623.6,212.2 L624.6,212.6 L625.6,213.1 L626.6,213.5 L627.6,214.1 L628.6,214.6 L629.7,215.2 L630.7,215.7 L631.7,216.3 L632.7,216.9 L633.7,217.5 L634.7,218.2 L635.8,218.8 L636.8,219.5 L637.8,220.2 L638.8,220.9 L639.9,221.7 L640.9,222.5 L641.9,223.4 L642.9,224.3 L643.9,225.3 L645.0,226.3 L646.0,227.4 L647.0,228.6 L648.0,229.8 L649.1,231.2 L650.1,232.6 L651.1,234.2 L652.2,235.9 L653.2,237.7 L654.3,239.7 L655.3,241.7 L656.3,243.9 L657.4,246.3 L658.4,248.8 L659.4,251.6 L660.4,254.6 L661.4,258.0 L662.5,262.0 L663.5,266.6 L664.5,271.3 L665.5,276.4 L666.5,283.2 L667.6,293.5 L668.6,306.0 L669.0,315.3 L670.0,305.3 L671.0,297.0 L672.0,292.2 L673.1,289.1 L674.2,286.4 L675.3,283.8 L676.4,281.2 L677.5,279.0 L678.6,277.1 L679.7,275.4 L680.7,273.8 L681.7,272.3 L682.7,270.9 L683.7,269.6 L684.7,268.3 L685.7,267.0 L686.8,265.7 L687.8,264.5 L688.8,263.2 L689.8,261.8 L690.8,260.4 L691.8,258.9 L692.8,257.4 L693.8,255.7 L694.8,253.9 L695.8,251.9 L696.9,249.9 L697.9,247.8 L698.9,245.6 L699.9,243.3 L700.9,241.0 L702.0,238.7 L703.0,236.4 L704.0,234.2 L705.0,231.9 L706.0,229.6 L707.0,227.4 L708.0,225.2 L709.0,223.0 L710.0,220.7 L711.0,218.5 L712.0,216.3 L713.0,214.1 L714.0,211.9 L715.0,209.7 L716.0,207.5 L717.0,205.3 L718.0,203.2 L719.0,201.0 L720.0,198.9 L721.0,196.9 L722.0,194.8 L723.0,192.8 L724.0,190.8 L725.0,188.8 L726.0,186.9 L727.0,185.0 L728.0,183.2 L729.0,181.3 L730.0,179.5 L731.0,177.7 L732.0,175.9 L733.0,174.2 L734.0,172.5 L735.0,170.7 L736.0,169.0 L737.0,167.3 L738.0,165.6 L739.0,163.9 L740.0,162.2 L741.0,160.6 L742.0,158.9 L743.0,157.2 L744.0,155.5 L745.0,153.8 L746.0,152.1 L747.0,150.3 L748.0,148.6 L749.0,146.9 L750.0,145.1 L751.0,143.3 L752.0,141.5 L753.0,139.7 L754.0,137.8 L755.0,136.0 L756.0,134.1 L757.0,132.3 L758.1,130.5 L759.1,128.7 L760.1,126.9 L761.1,125.2 L762.1,123.5 L763.1,121.8 L764.1,120.1 L765.1,118.5 L766.1,116.9 L767.2,115.3 L768.2,113.7 L769.2,112.1 L770.2,110.6 L771.2,109.1 L772.2,107.7 L773.3,106.2 L774.3,104.8 L775.3,103.5 L776.3,102.2 L777.3,101.0 L778.4,99.8 L779.4,98.7 L780.4,97.6 L781.4,96.6 L782.4,95.7 L783.5,94.7 L784.5,93.8 L785.5,93.0 L786.5,92.2 L787.5,91.3 L788.6,90.6 L789.6,89.8 L790.6,89.1 L791.6,88.4 L792.6,87.7 L793.7,87.0 L794.7,86.3 L795.7,85.7 L796.7,85.0 L797.7,84.4 L798.8,83.8 L799.8,83.1 L800.8,82.5 L801.8,81.9 L802.8,81.4 L803.8,80.8 L804.9,80.2 L805.9,79.7 L806.9,79.1 L807.9,78.6 L808.9,78.1 L809.9,77.5 L811.0,77.0 L812.0,76.5 L813.0,76.0 L814.0,75.6 L815.0,75.1 L816.0,74.6 L817.0,74.1 L818.1,73.7 L819.1,73.2 L820.1,72.8 L821.1,72.3 L822.1,71.9 L823.1,71.4 L824.2,71.0 L825.2,70.5 L826.2,70.1 L827.2,69.7 L828.2,69.3 L829.3,68.8 L830.3,68.4 L831.3,68.0 L832.3,67.6 L833.3,67.2 L834.4,66.8 L835.4,66.4 L836.4,66.0 L837.4,65.7 L838.4,65.3 L839.5,64.9 L840.5,64.6 L841.5,64.2 L842.5,63.9 L843.5,63.6 L844.6,63.2 L845.6,62.9 L846.6,62.6 L847.6,62.3 L848.6,62.0 L849.6,61.7 L850.7,61.4 L851.7,61.2 L852.7,60.9 L853.7,60.6 L854.7,60.3 L855.8,60.0 L856.8,59.7 L857.8,59.4" stroke="#22dde8"/>
<path d="M487.5,190.0 L488.5,190.0 L489.5,190.1 L490.5,190.1 L491.5,190.2 L492.6,190.2 L493.6,190.3 L494.6,190.3 L495.6,190.4 L496.6,190.4 L497.6,190.5 L498.6,190.5 L499.6,190.6 L500.7,190.6 L501.7,190.7 L502.7,190.7 L503.7,190.8 L504.7,190.8 L505.7,190.9 L506.7,190.9 L507.7,191.0 L508.8,191.0 L509.8,191.1 L510.8,191.1 L511.8,191.2 L512.8,191.2 L513.8,191.3 L514.8,191.3 L515.8,191.4 L516.8,191.4 L517.9,191.5 L518.9,191.5 L519.9,191.6 L520.9,191.6 L521.9,191.6 L522.9,191.7 L523.9,191.7 L524.9,191.8 L526.0,191.8 L527.0,191.9 L528.0,191.9 L529.0,192.0 L530.0,192.0 L531.0,192.0 L532.0,192.1 L533.0,192.1 L534.0,192.2 L535.0,192.2 L536.0,192.2 L537.0,192.3 L538.0,192.3 L539.0,192.4 L540.0,192.4 L541.0,192.5 L542.0,192.5 L543.0,192.5 L544.0,192.6 L545.0,192.6 L546.0,192.6 L547.0,192.7 L548.0,192.7 L549.0,192.8 L550.0,192.8 L551.0,192.8 L552.0,192.9 L553.0,192.9 L554.0,193.0 L555.0,193.0 L556.0,193.0 L557.0,193.1 L558.0,193.1 L559.0,193.1 L560.0,193.2 L561.0,193.2 L562.0,193.2 L563.0,193.3 L564.0,193.3 L565.0,193.3 L566.0,193.4 L567.0,193.4 L568.0,193.4 L569.0,193.5 L570.0,193.5 L571.0,193.5 L572.0,193.6 L573.0,193.6 L574.1,193.6 L575.1,193.6 L576.1,193.7 L577.1,193.7 L578.1,193.7 L579.1,193.7 L580.1,193.7 L581.1,193.8 L582.2,193.8 L583.2,193.8 L584.2,193.8 L585.2,193.8 L586.2,193.8 L587.2,193.9 L588.2,193.9 L589.3,193.9 L590.3,193.9 L591.3,193.9 L592.3,193.9 L593.3,194.0 L594.3,194.0 L595.3,194.0 L596.3,194.0 L597.4,194.0 L598.4,194.0 L599.4,194.1 L600.4,194.1 L601.4,194.1 L602.4,194.1 L603.4,194.2 L604.5,194.2 L605.5,194.2 L606.5,194.3 L607.5,194.3 L608.5,194.4 L609.5,194.4 L610.5,194.4 L611.5,194.5 L612.6,194.5 L613.6,194.6 L614.6,194.7 L615.6,194.8 L616.6,195.0 L617.6,195.2 L618.7,195.5 L619.7,195.8 L620.7,196.2 L621.7,196.6 L622.8,197.1 L623.8,197.6 L624.8,198.2 L625.8,198.7 L626.8,199.3 L627.9,200.0 L628.9,200.6 L629.9,201.3 L630.9,201.9 L631.9,202.7 L632.9,203.4 L634.0,204.2 L635.0,205.0 L636.0,205.9 L637.0,206.8 L638.0,207.8 L639.0,208.8 L640.0,209.8 L641.1,210.9 L642.1,211.9 L643.1,213.1 L644.1,214.3 L645.1,215.5 L646.2,216.8 L647.2,218.1 L648.2,219.5 L649.3,221.0 L650.3,222.5 L651.4,224.2 L652.4,225.9 L653.4,227.7 L654.5,229.6 L655.5,231.7 L656.6,233.9 L657.6,236.3 L658.7,238.8 L659.8,241.6 L660.9,244.6 L662.0,247.9 L663.0,251.4 L664.1,254.9 L665.1,258.7 L666.2,263.1 L667.2,268.2 L668.3,273.9 L668.3,273.9 L669.4,269.7 L670.5,265.8 L671.6,262.3 L672.8,259.4 L673.9,257.1 L675.0,255.4 L676.0,253.5 L677.1,252.0 L678.1,250.7 L679.2,249.7 L680.2,248.8 L681.2,248.0 L682.3,247.2 L683.3,246.5 L684.4,245.8 L685.4,245.1 L686.5,244.4 L687.5,243.6 L688.5,242.8 L689.6,241.9 L690.6,241.0 L691.7,240.1 L692.7,239.2 L693.7,238.2 L694.8,237.3 L695.8,236.2 L696.9,235.2 L697.9,234.1 L698.9,232.9 L700.0,231.7 L701.0,230.4 L702.1,229.1 L703.1,227.6 L704.1,226.0 L705.2,224.3 L706.2,222.5 L707.2,220.6 L708.3,218.5 L709.3,216.4 L710.3,214.2 L711.4,211.9 L712.4,209.6 L713.4,207.2 L714.5,204.8 L715.5,202.4 L716.5,200.1 L717.6,197.8 L718.6,195.5 L719.6,193.3 L720.7,191.1 L721.7,189.1 L722.7,187.1 L723.7,185.1 L724.7,183.2 L725.7,181.4 L726.7,179.6 L727.7,177.8 L728.7,176.0 L729.7,174.3 L730.7,172.6 L731.7,170.9 L732.7,169.2 L733.7,167.5 L734.7,165.8 L735.7,164.1 L736.7,162.4 L737.7,160.7 L738.7,159.1 L739.7,157.4 L740.7,155.7 L741.7,153.9 L742.7,152.2 L743.7,150.5 L744.7,148.7 L745.7,146.9 L746.7,145.1 L747.7,143.2 L748.7,141.4 L749.7,139.5 L750.7,137.5 L751.7,135.6 L752.7,133.7 L753.7,131.7 L754.7,129.8 L755.7,127.8 L756.7,125.9 L757.7,124.1 L758.7,122.2 L759.7,120.4 L760.7,118.6 L761.7,116.9 L762.7,115.2 L763.7,113.5 L764.8,111.8 L765.8,110.2 L766.9,108.6 L767.9,107.0 L768.9,105.4 L770.0,103.8 L771.0,102.3 L772.1,100.8 L773.1,99.4 L774.2,98.0 L775.2,96.7 L776.2,95.4 L777.3,94.2 L778.3,93.1 L779.4,92.0 L780.4,91.0 L781.4,90.0 L782.4,89.1 L783.5,88.3 L784.5,87.4 L785.5,86.7 L786.5,85.9 L787.5,85.2 L788.6,84.5 L789.6,83.8 L790.6,83.1 L791.6,82.5 L792.6,81.9 L793.7,81.2 L794.7,80.6 L795.7,80.0 L796.7,79.4 L797.7,78.8 L798.8,78.3 L799.8,77.7 L800.8,77.1 L801.8,76.5 L802.8,76.0 L803.8,75.4 L804.9,74.8 L805.9,74.3 L806.9,73.8 L807.9,73.2 L808.9,72.7 L809.9,72.2 L811.0,71.6 L812.0,71.1 L813.0,70.6 L814.0,70.1 L815.0,69.7 L816.0,69.2 L817.0,68.7 L818.1,68.3 L819.1,67.8 L820.1,67.4 L821.1,66.9 L822.1,66.5 L823.1,66.1 L824.2,65.6 L825.2,65.2 L826.2,64.8 L827.2,64.4 L828.2,64.1 L829.3,63.7 L830.3,63.3 L831.3,62.9 L832.3,62.6 L833.3,62.2 L834.4,61.8 L835.4,61.5 L836.4,61.1 L837.4,60.8 L838.4,60.4 L839.5,60.1 L840.5,59.8 L841.5,59.4 L842.5,59.1 L843.5,58.8 L844.6,58.5 L845.6,58.1 L846.6,57.8 L847.6,57.5 L848.6,57.2 L849.6,56.9 L850.7,56.6 L851.7,56.4 L852.7,56.1 L853.7,55.8 L854.7,55.5 L855.8,55.2 L856.8,54.9 L857.8,54.6" stroke="#20d070"/>
<path d="M487.5,171.1 L488.5,171.1 L489.5,171.2 L490.5,171.2 L491.5,171.2 L492.6,171.3 L493.6,171.3 L494.6,171.3 L495.6,171.4 L496.6,171.4 L497.6,171.4 L498.6,171.5 L499.6,171.5 L500.7,171.5 L501.7,171.6 L502.7,171.6 L503.7,171.6 L504.7,171.7 L505.7,171.7 L506.7,171.7 L507.7,171.8 L508.8,171.8 L509.8,171.8 L510.8,171.9 L511.8,171.9 L512.8,172.0 L513.8,172.0 L514.8,172.0 L515.8,172.1 L516.8,172.1 L517.9,172.1 L518.9,172.2 L519.9,172.2 L520.9,172.2 L521.9,172.2 L522.9,172.3 L523.9,172.3 L524.9,172.3 L526.0,172.4 L527.0,172.4 L528.0,172.4 L529.0,172.5 L530.0,172.5 L531.0,172.5 L532.0,172.6 L533.0,172.6 L534.0,172.6 L535.0,172.6 L536.0,172.7 L537.0,172.7 L538.0,172.7 L539.0,172.7 L540.0,172.8 L541.0,172.8 L542.0,172.8 L543.0,172.8 L544.0,172.9 L545.0,172.9 L546.0,172.9 L547.0,172.9 L548.0,173.0 L549.0,173.0 L550.0,173.0 L551.0,173.0 L552.0,173.1 L553.0,173.1 L554.0,173.1 L555.0,173.1 L556.0,173.2 L557.0,173.2 L558.0,173.2 L559.0,173.3 L560.0,173.3 L561.0,173.3 L562.0,173.3 L563.0,173.4 L564.0,173.4 L565.0,173.4 L566.0,173.5 L567.0,173.5 L568.0,173.5 L569.0,173.6 L570.0,173.6 L571.0,173.6 L572.0,173.7 L573.0,173.7 L574.0,173.7 L575.0,173.8 L576.0,173.8 L577.0,173.8 L578.0,173.9 L579.0,173.9 L580.0,173.9 L581.0,174.0 L582.0,174.0 L583.0,174.1 L584.0,174.1 L585.0,174.1 L586.0,174.2 L587.0,174.2 L588.0,174.3 L589.1,174.3 L590.1,174.4 L591.1,174.4 L592.1,174.5 L593.1,174.5 L594.1,174.6 L595.1,174.6 L596.1,174.7 L597.1,174.8 L598.1,174.8 L599.1,174.9 L600.1,175.0 L601.1,175.1 L602.1,175.1 L603.1,175.2 L604.1,175.3 L605.1,175.4 L606.1,175.5 L607.1,175.7 L608.1,175.8 L609.1,176.1 L610.1,176.3 L611.1,176.6 L612.1,176.9 L613.1,177.2 L614.1,177.6 L615.1,178.0 L616.2,178.5 L617.2,179.0 L618.2,179.5 L619.2,180.0 L620.2,180.5 L621.2,181.0 L622.2,181.6 L623.2,182.2 L624.2,182.8 L625.2,183.4 L626.2,184.0 L627.2,184.7 L628.3,185.4 L629.3,186.2 L630.3,187.0 L631.3,187.8 L632.3,188.6 L633.3,189.5 L634.3,190.4 L635.4,191.3 L636.4,192.2 L637.4,193.2 L638.4,194.1 L639.4,195.1 L640.4,196.1 L641.5,197.1 L642.5,198.2 L643.5,199.2 L644.5,200.3 L645.5,201.5 L646.6,202.7 L647.6,203.9 L648.6,205.3 L649.6,206.7 L650.7,208.3 L651.7,210.0 L652.7,211.8 L653.8,213.8 L654.8,216.1 L655.9,218.6 L657.0,221.4 L658.0,224.5 L659.1,227.9 L660.1,231.8 L661.2,236.2 L662.3,240.5 L663.5,245.6 L664.6,251.4 L665.8,258.1 L666.9,265.4 L666.9,265.4 L668.0,262.4 L669.1,259.6 L670.1,257.1 L671.2,254.8 L672.3,252.9 L673.4,251.2 L674.4,249.4 L675.4,247.8 L676.4,246.4 L677.4,245.1 L678.4,243.9 L679.4,242.8 L680.5,241.8 L681.5,240.7 L682.5,239.7 L683.5,238.7 L684.5,237.6 L685.5,236.5 L686.5,235.3 L687.5,234.0 L688.5,232.7 L689.6,231.4 L690.6,229.9 L691.7,228.5 L692.7,226.9 L693.8,225.4 L694.8,223.8 L695.8,222.2 L696.9,220.6 L697.9,218.9 L699.0,217.2 L700.0,215.5 L701.0,213.8 L702.0,212.1 L703.0,210.3 L704.1,208.6 L705.1,206.8 L706.1,204.9 L707.1,203.1 L708.1,201.3 L709.1,199.5 L710.1,197.6 L711.1,195.8 L712.2,194.0 L713.2,192.3 L714.2,190.5 L715.2,188.9 L716.2,187.2 L717.2,185.6 L718.2,184.0 L719.2,182.4 L720.3,180.9 L721.3,179.4 L722.3,177.9 L723.3,176.4 L724.3,174.9 L725.3,173.4 L726.3,172.0 L727.3,170.5 L728.3,169.1 L729.4,167.6 L730.4,166.1 L731.4,164.7 L732.4,163.2 L733.4,161.7 L734.4,160.2 L735.4,158.6 L736.4,157.0 L737.4,155.4 L738.4,153.8 L739.5,152.1 L740.5,150.3 L741.5,148.5 L742.5,146.7 L743.5,144.7 L744.5,142.7 L745.6,140.5 L746.6,138.3 L747.6,136.0 L748.7,133.6 L749.7,131.2 L750.7,128.7 L751.8,126.3 L752.8,123.8 L753.8,121.4 L754.8,119.0 L755.9,116.8 L756.9,114.6 L757.9,112.6 L759.0,110.6 L760.0,108.8 L761.0,107.1 L762.0,105.5 L763.1,103.9 L764.1,102.4 L765.1,101.0 L766.1,99.6 L767.1,98.3 L768.2,96.9 L769.2,95.7 L770.2,94.4 L771.2,93.2 L772.2,92.1 L773.3,91.0 L774.3,89.9 L775.3,88.8 L776.3,87.8 L777.3,86.8 L778.4,85.8 L779.4,84.9 L780.4,84.0 L781.4,83.2 L782.4,82.3 L783.5,81.5 L784.5,80.7 L785.5,80.0 L786.5,79.2 L787.5,78.5 L788.6,77.8 L789.6,77.1 L790.6,76.4 L791.6,75.8 L792.6,75.2 L793.7,74.5 L794.7,73.9 L795.7,73.3 L796.7,72.7 L797.7,72.1 L798.8,71.5 L799.8,70.9 L800.8,70.3 L801.8,69.8 L802.8,69.2 L803.8,68.6 L804.9,68.1 L805.9,67.5 L806.9,67.0 L807.9,66.5 L808.9,65.9 L809.9,65.4 L811.0,64.9 L812.0,64.4 L813.0,63.9 L814.0,63.4 L815.0,62.9 L816.0,62.4 L817.0,62.0 L818.1,61.5 L819.1,61.0 L820.1,60.6 L821.1,60.1 L822.1,59.7 L823.1,59.2 L824.2,58.8 L825.2,58.3 L826.2,57.9 L827.2,57.4 L828.2,57.0 L829.3,56.6 L830.3,56.2 L831.3,55.7 L832.3,55.3 L833.3,54.9 L834.4,54.5 L835.4,54.1 L836.4,53.7 L837.4,53.4 L838.4,53.0 L839.5,52.6 L840.5,52.3 L841.5,51.9 L842.5,51.6 L843.5,51.3 L844.6,50.9 L845.6,50.6 L846.6,50.3 L847.6,50.0 L848.6,49.8 L849.6,49.5 L850.7,49.2 L851.7,48.9 L852.7,48.6 L853.7,48.3 L854.7,48.1 L855.8,47.8 L856.8,47.5 L857.8,47.2" stroke="#f8e61a"/>
<path d="M487.5,154.0 L488.5,154.0 L489.5,154.1 L490.5,154.1 L491.5,154.1 L492.6,154.2 L493.6,154.2 L494.6,154.3 L495.6,154.3 L496.6,154.3 L497.6,154.4 L498.6,154.4 L499.6,154.4 L500.7,154.5 L501.7,154.5 L502.7,154.6 L503.7,154.6 L504.7,154.6 L505.7,154.7 L506.7,154.7 L507.7,154.7 L508.8,154.8 L509.8,154.8 L510.8,154.9 L511.8,154.9 L512.8,154.9 L513.8,155.0 L514.8,155.0 L515.8,155.0 L516.8,155.1 L517.9,155.1 L518.9,155.1 L519.9,155.2 L520.9,155.2 L521.9,155.2 L522.9,155.3 L523.9,155.3 L524.9,155.3 L526.0,155.4 L527.0,155.4 L528.0,155.4 L529.0,155.5 L530.0,155.5 L531.0,155.5 L532.0,155.6 L533.0,155.6 L534.0,155.6 L535.0,155.6 L536.0,155.7 L537.0,155.7 L538.0,155.7 L539.0,155.7 L540.0,155.7 L541.0,155.8 L542.0,155.8 L543.0,155.8 L544.0,155.8 L545.0,155.8 L546.0,155.9 L547.0,155.9 L548.0,155.9 L549.0,155.9 L550.0,155.9 L551.0,156.0 L552.0,156.0 L553.0,156.0 L554.0,156.0 L555.0,156.0 L556.0,156.1 L557.0,156.1 L558.0,156.1 L559.0,156.1 L560.0,156.2 L561.0,156.2 L562.0,156.2 L563.0,156.2 L564.0,156.3 L565.0,156.3 L566.0,156.3 L567.0,156.4 L568.0,156.4 L569.0,156.5 L570.0,156.5 L571.0,156.6 L572.0,156.6 L573.1,156.7 L574.1,156.7 L575.1,156.8 L576.1,156.9 L577.1,157.0 L578.1,157.1 L579.2,157.2 L580.2,157.3 L581.2,157.4 L582.2,157.5 L583.2,157.6 L584.2,157.7 L585.3,157.8 L586.3,158.0 L587.3,158.1 L588.3,158.3 L589.3,158.4 L590.4,158.6 L591.4,158.7 L592.4,158.9 L593.4,159.0 L594.4,159.2 L595.4,159.4 L596.5,159.6 L597.5,159.7 L598.5,159.9 L599.5,160.1 L600.5,160.4 L601.5,160.6 L602.5,160.9 L603.5,161.1 L604.5,161.4 L605.5,161.7 L606.5,162.1 L607.6,162.4 L608.6,162.8 L609.6,163.1 L610.6,163.5 L611.6,163.9 L612.6,164.3 L613.6,164.8 L614.6,165.2 L615.6,165.7 L616.6,166.2 L617.6,166.7 L618.6,167.2 L619.6,167.7 L620.6,168.3 L621.6,168.9 L622.6,169.5 L623.6,170.1 L624.7,170.8 L625.7,171.5 L626.7,172.2 L627.7,173.0 L628.7,173.8 L629.7,174.6 L630.7,175.4 L631.7,176.2 L632.7,177.1 L633.7,178.0 L634.7,179.0 L635.8,180.0 L636.8,181.1 L637.8,182.2 L638.8,183.3 L639.9,184.5 L640.9,185.8 L641.9,187.1 L642.9,188.4 L643.9,189.8 L645.0,191.3 L646.0,192.7 L647.0,194.3 L648.0,195.9 L649.1,197.5 L650.1,199.3 L651.1,201.1 L652.2,203.0 L653.2,205.1 L654.3,207.3 L655.3,209.7 L656.3,212.3 L657.4,215.2 L658.4,218.4 L659.5,222.0 L660.7,226.2 L661.8,230.8 L663.0,235.5 L664.1,240.5 L665.3,246.5 L666.6,253.9 L667.8,262.5 L667.2,262.5 L668.4,257.9 L669.5,253.8 L670.7,250.6 L671.9,248.2 L672.9,246.4 L674.0,244.6 L675.0,242.8 L676.1,241.2 L677.1,239.7 L678.1,238.4 L679.2,237.2 L680.2,236.0 L681.3,234.8 L682.3,233.6 L683.4,232.3 L684.4,231.0 L685.4,229.6 L686.5,228.2 L687.5,226.7 L688.6,225.2 L689.6,223.6 L690.7,222.0 L691.7,220.4 L692.8,218.6 L693.8,216.9 L694.9,215.0 L695.9,213.1 L697.0,211.2 L698.1,209.2 L699.1,207.1 L700.2,205.0 L701.2,202.9 L702.3,200.8 L703.4,198.8 L704.4,196.7 L705.5,194.7 L706.6,192.8 L707.6,190.9 L708.7,189.1 L709.7,187.3 L710.7,185.7 L711.7,184.1 L712.8,182.5 L713.8,181.0 L714.8,179.5 L715.8,178.1 L716.8,176.7 L717.8,175.3 L718.8,173.9 L719.8,172.6 L720.9,171.2 L721.9,169.9 L722.9,168.6 L723.9,167.2 L724.9,165.9 L725.9,164.6 L726.9,163.2 L728.0,161.9 L729.0,160.5 L730.0,159.1 L731.0,157.7 L732.0,156.2 L733.0,154.7 L734.0,153.2 L735.0,151.6 L736.1,150.0 L737.1,148.3 L738.1,146.6 L739.1,144.7 L740.1,142.8 L741.2,140.8 L742.2,138.7 L743.3,136.5 L744.3,134.3 L745.4,131.9 L746.4,129.5 L747.5,127.1 L748.5,124.7 L749.5,122.2 L750.6,119.8 L751.6,117.4 L752.7,115.0 L753.7,112.7 L754.8,110.5 L755.8,108.3 L756.9,106.2 L757.9,104.3 L759.0,102.4 L760.0,100.6 L761.0,99.0 L762.0,97.4 L763.1,95.8 L764.1,94.4 L765.1,92.9 L766.1,91.5 L767.1,90.2 L768.2,88.9 L769.2,87.6 L770.2,86.4 L771.2,85.2 L772.2,84.0 L773.3,82.8 L774.3,81.7 L775.3,80.7 L776.3,79.6 L777.3,78.6 L778.4,77.7 L779.4,76.7 L780.4,75.8 L781.4,75.0 L782.4,74.1 L783.5,73.3 L784.5,72.5 L785.5,71.8 L786.5,71.0 L787.5,70.3 L788.6,69.6 L789.6,68.9 L790.6,68.2 L791.6,67.6 L792.6,66.9 L793.7,66.3 L794.7,65.7 L795.7,65.1 L796.7,64.5 L797.7,63.9 L798.8,63.3 L799.8,62.7 L800.8,62.1 L801.8,61.6 L802.8,61.0 L803.8,60.4 L804.9,59.9 L805.9,59.3 L806.9,58.8 L807.9,58.3 L808.9,57.7 L809.9,57.2 L811.0,56.7 L812.0,56.2 L813.0,55.7 L814.0,55.2 L815.0,54.7 L816.0,54.2 L817.0,53.8 L818.1,53.3 L819.1,52.8 L820.1,52.4 L821.1,51.9 L822.1,51.5 L823.1,51.0 L824.2,50.6 L825.2,50.2 L826.2,49.7 L827.2,49.3 L828.2,48.9 L829.3,48.5 L830.3,48.1 L831.3,47.7 L832.3,47.3 L833.3,46.9 L834.4,46.5 L835.4,46.1 L836.4,45.7 L837.4,45.3 L838.4,44.9 L839.5,44.6 L840.5,44.2 L841.5,43.8 L842.5,43.5 L843.5,43.1 L844.6,42.7 L845.6,42.4 L846.6,42.0 L847.6,41.7 L848.6,41.3 L849.6,41.0 L850.7,40.7 L851.7,40.3 L852.7,40.0 L853.7,39.7 L854.7,39.3 L855.8,39.0 L856.8,38.6 L857.8,38.3" stroke="#ef7f22"/>
<path d="M487.5,134.0 L488.5,134.0 L489.5,134.0 L490.5,134.1 L491.5,134.1 L492.6,134.1 L493.6,134.1 L494.6,134.2 L495.6,134.2 L496.6,134.2 L497.6,134.2 L498.6,134.3 L499.6,134.3 L500.7,134.3 L501.7,134.3 L502.7,134.4 L503.7,134.4 L504.7,134.4 L505.7,134.4 L506.7,134.5 L507.7,134.5 L508.8,134.5 L509.8,134.5 L510.8,134.6 L511.8,134.6 L512.8,134.6 L513.8,134.6 L514.8,134.7 L515.8,134.7 L516.8,134.7 L517.9,134.7 L518.9,134.8 L519.9,134.8 L520.9,134.8 L521.9,134.8 L522.9,134.9 L523.9,134.9 L524.9,134.9 L526.0,134.9 L527.0,134.9 L528.0,135.0 L529.0,135.0 L530.0,135.0 L531.0,135.0 L532.0,135.0 L533.0,135.1 L534.0,135.1 L535.0,135.1 L536.0,135.1 L537.0,135.1 L538.0,135.1 L539.0,135.2 L540.0,135.2 L541.0,135.2 L542.0,135.2 L543.0,135.2 L544.0,135.2 L545.0,135.2 L546.0,135.3 L547.0,135.3 L548.0,135.3 L549.0,135.3 L550.0,135.3 L551.0,135.3 L552.0,135.3 L553.0,135.4 L554.0,135.4 L555.0,135.4 L556.0,135.4 L557.0,135.4 L558.0,135.4 L559.0,135.5 L560.0,135.5 L561.0,135.5 L562.0,135.5 L563.0,135.5 L564.0,135.6 L565.0,135.6 L566.0,135.6 L567.0,135.6 L568.0,135.6 L569.0,135.7 L570.0,135.7 L571.0,135.7 L572.0,135.8 L573.0,135.8 L574.0,135.8 L575.0,135.9 L576.0,135.9 L577.0,135.9 L578.0,136.0 L579.1,136.0 L580.1,136.1 L581.1,136.1 L582.1,136.2 L583.1,136.2 L584.1,136.3 L585.1,136.4 L586.1,136.5 L587.1,136.6 L588.1,136.7 L589.1,136.8 L590.1,137.0 L591.1,137.2 L592.1,137.4 L593.1,137.6 L594.1,137.9 L595.1,138.2 L596.2,138.5 L597.2,138.8 L598.2,139.2 L599.2,139.5 L600.2,139.9 L601.2,140.3 L602.2,140.6 L603.2,141.0 L604.2,141.4 L605.2,141.9 L606.2,142.3 L607.2,142.8 L608.2,143.3 L609.2,143.8 L610.2,144.3 L611.2,144.8 L612.2,145.4 L613.3,146.0 L614.3,146.6 L615.3,147.3 L616.3,147.9 L617.3,148.6 L618.3,149.3 L619.3,150.0 L620.3,150.7 L621.3,151.5 L622.3,152.3 L623.3,153.1 L624.4,154.0 L625.4,154.9 L626.4,155.8 L627.4,156.8 L628.5,157.8 L629.5,158.8 L630.5,159.9 L631.5,161.0 L632.5,162.1 L633.6,163.3 L634.6,164.5 L635.6,165.7 L636.6,167.0 L637.7,168.4 L638.7,169.7 L639.7,171.2 L640.8,172.7 L641.8,174.2 L642.9,175.8 L643.9,177.5 L644.9,179.3 L646.0,181.1 L647.0,183.1 L648.1,185.1 L649.1,187.3 L650.2,189.6 L651.2,192.0 L652.3,194.6 L653.4,197.3 L654.4,200.1 L655.5,203.1 L656.5,206.2 L657.5,209.5 L658.5,213.0 L659.6,216.9 L660.6,221.2 L661.6,225.9 L662.6,230.6 L663.9,236.1 L665.1,242.8 L666.3,250.7 L667.6,259.7 L668.3,265.4 L669.6,256.8 L671.0,250.7 L672.0,247.7 L673.0,244.9 L674.0,242.2 L675.0,239.5 L676.1,236.7 L677.1,234.2 L678.2,231.9 L679.2,229.6 L680.3,227.6 L681.3,225.6 L682.3,223.7 L683.4,222.0 L684.4,220.3 L685.4,218.6 L686.5,217.1 L687.5,215.5 L688.5,213.9 L689.6,212.2 L690.6,210.6 L691.6,208.8 L692.7,207.0 L693.7,205.2 L694.8,203.3 L695.8,201.4 L696.9,199.4 L697.9,197.5 L698.9,195.5 L700.0,193.5 L701.0,191.5 L702.1,189.6 L703.1,187.7 L704.1,185.8 L705.1,183.9 L706.1,182.0 L707.1,180.1 L708.1,178.3 L709.1,176.4 L710.1,174.6 L711.1,172.8 L712.1,170.9 L713.1,169.1 L714.1,167.3 L715.1,165.5 L716.1,163.6 L717.1,161.8 L718.1,160.0 L719.1,158.1 L720.1,156.3 L721.1,154.4 L722.1,152.6 L723.1,150.7 L724.1,148.8 L725.1,146.9 L726.1,145.0 L727.1,143.1 L728.2,141.1 L729.2,139.1 L730.3,137.0 L731.3,135.0 L732.3,132.9 L733.4,130.8 L734.4,128.7 L735.5,126.6 L736.5,124.5 L737.5,122.5 L738.6,120.4 L739.6,118.4 L740.6,116.3 L741.7,114.4 L742.7,112.4 L743.8,110.5 L744.8,108.7 L745.8,106.9 L746.9,105.1 L747.9,103.5 L749.0,101.9 L750.0,100.4 L751.0,98.9 L752.0,97.5 L753.0,96.2 L754.0,95.0 L755.0,93.7 L756.0,92.5 L757.0,91.3 L758.0,90.2 L759.0,89.0 L760.0,87.8 L761.0,86.7 L762.0,85.5 L763.1,84.3 L764.1,83.2 L765.1,82.0 L766.1,80.8 L767.1,79.6 L768.2,78.5 L769.2,77.3 L770.2,76.2 L771.2,75.1 L772.2,74.0 L773.3,72.9 L774.3,71.9 L775.3,70.9 L776.3,69.9 L777.3,69.0 L778.4,68.1 L779.4,67.2 L780.4,66.4 L781.4,65.6 L782.4,64.8 L783.5,64.1 L784.5,63.4 L785.5,62.7 L786.5,62.0 L787.5,61.4 L788.6,60.8 L789.6,60.1 L790.6,59.5 L791.6,59.0 L792.6,58.4 L793.7,57.8 L794.7,57.3 L795.7,56.7 L796.7,56.2 L797.7,55.6 L798.8,55.1 L799.8,54.5 L800.8,54.0 L801.8,53.5 L802.8,53.0 L803.8,52.4 L804.9,51.9 L805.9,51.4 L806.9,50.9 L807.9,50.4 L808.9,49.9 L809.9,49.4 L811.0,48.9 L812.0,48.5 L813.0,48.0 L814.0,47.5 L815.0,47.1 L816.0,46.6 L817.0,46.2 L818.1,45.8 L819.1,45.3 L820.1,44.9 L821.1,44.5 L822.1,44.1 L823.1,43.8 L824.2,43.4 L825.2,43.0 L826.2,42.6 L827.2,42.3 L828.2,41.9 L829.3,41.6 L830.3,41.3 L831.3,40.9 L832.3,40.6 L833.3,40.3 L834.4,39.9 L835.4,39.6 L836.4,39.3 L837.4,39.0 L838.4,38.7 L839.5,38.3 L840.5,38.0 L841.5,37.7 L842.5,37.4 L843.5,37.1 L844.6,36.8 L845.6,36.5 L846.6,36.2 L847.6,35.9 L848.6,35.6 L849.6,35.3 L850.7,35.0 L851.7,34.7 L852.7,34.4 L853.7,34.1 L854.7,33.8 L855.8,33.5 L856.8,33.2 L857.8,32.9" stroke="#e8141c"/>
</g>
<text transform="translate(500.65,59.00) scale(1.0370,1)" font-family="Liberation Sans" font-size="25.58" fill="#000">I-V Temperature</text>
<text transform="translate(501.27,93.50) scale(1.0781,1)" font-family="Liberation Sans" font-size="25.60" fill="#000">ramp down</text>
<text transform="translate(501.62,124.30) scale(1.2251,1)" font-family="Liberation Serif" font-size="26.42" fill="#000" stroke="#000" stroke-width="0.2">Φ</text><text transform="translate(523.94,130.90) scale(1.1838,1)" font-family="Liberation Serif" font-size="24.21" font-style="italic" fill="#000" stroke="#000" stroke-width="0.2">b</text><text transform="translate(536.90,130.90) scale(1.1978,1)" font-family="Liberation Serif" font-size="19.70" fill="#000" stroke="#000" stroke-width="0.2">0</text><rect x="559.0" y="113.5" width="18.6" height="1.9" fill="#000"/><rect x="559.0" y="120.3" width="18.6" height="1.9" fill="#000"/><text transform="translate(587.76,124.30) scale(1.2215,1)" font-family="Liberation Serif" font-size="24.51" fill="#000" stroke="#000" stroke-width="0.2">0.52</text><text transform="translate(638.42,124.30) scale(1.1258,1)" font-family="Liberation Serif" font-size="25.47" font-style="italic" fill="#000" stroke="#000" stroke-width="0.2">e</text><text transform="translate(647.51,124.30) scale(1.5337,1)" font-family="Liberation Serif" font-size="24.89" font-style="italic" fill="#000" stroke="#000" stroke-width="0.2">V</text>
<rect x="780.4" y="143.70" width="22.8" height="21.21" fill="#ff0000"/>
<rect x="780.4" y="164.61" width="22.8" height="21.21" fill="#ff8000"/>
<rect x="780.4" y="185.52" width="22.8" height="21.21" fill="#ffff00"/>
<rect x="780.4" y="206.44" width="22.8" height="21.21" fill="#00e000"/>
<rect x="780.4" y="227.35" width="22.8" height="21.21" fill="#00ee80"/>
<rect x="780.4" y="248.26" width="22.8" height="21.21" fill="#00ffff"/>
<rect x="780.4" y="269.18" width="22.8" height="21.21" fill="#0080ff"/>
<rect x="780.4" y="290.09" width="22.8" height="21.21" fill="#0000ff"/>
<rect x="780.4" y="143.7" width="22.8" height="167.3" fill="none" stroke="#222" stroke-width="1"/>
<path d="M803.2,143.7 h5.5" stroke="#222" stroke-width="1.1"/>
<text x="816" y="150.0" font-family="Liberation Sans, sans-serif" font-size="17.5" fill="#000">402</text>
<path d="M803.2,164.6 h5.5" stroke="#222" stroke-width="1.1"/>
<text x="816" y="170.9" font-family="Liberation Sans, sans-serif" font-size="17.5" fill="#000">391</text>
<path d="M803.2,185.5 h5.5" stroke="#222" stroke-width="1.1"/>
<text x="816" y="191.8" font-family="Liberation Sans, sans-serif" font-size="17.5" fill="#000">379</text>
<path d="M803.2,206.4 h5.5" stroke="#222" stroke-width="1.1"/>
<text x="816" y="212.7" font-family="Liberation Sans, sans-serif" font-size="17.5" fill="#000">368</text>
<path d="M803.2,227.3 h5.5" stroke="#222" stroke-width="1.1"/>
<text x="816" y="233.7" font-family="Liberation Sans, sans-serif" font-size="17.5" fill="#000">356</text>
<path d="M803.2,248.3 h5.5" stroke="#222" stroke-width="1.1"/>
<text x="816" y="254.6" font-family="Liberation Sans, sans-serif" font-size="17.5" fill="#000">345</text>
<path d="M803.2,269.2 h5.5" stroke="#222" stroke-width="1.1"/>
<text x="816" y="275.5" font-family="Liberation Sans, sans-serif" font-size="17.5" fill="#000">333</text>
<path d="M803.2,290.1 h5.5" stroke="#222" stroke-width="1.1"/>
<text x="816" y="296.4" font-family="Liberation Sans, sans-serif" font-size="17.5" fill="#000">322</text>
<path d="M803.2,311.0 h5.5" stroke="#222" stroke-width="1.1"/>
<text x="816" y="317.3" font-family="Liberation Sans, sans-serif" font-size="17.5" fill="#000">310</text>
<text transform="translate(789.92,127.50) scale(1.0504,1)" font-family="Liberation Sans" font-size="24.50" fill="#000">T (K)</text>
<g stroke="#1a1a1a" stroke-width="1.2" fill="none">
<rect x="72.5" y="382.2" width="379.9" height="301.5"/>
<path d="M72.7,683.7 v-3.5 M72.7,382.2 v3.5 M110.7,683.7 v-5.5 M110.7,382.2 v5.5 M148.7,683.7 v-3.5 M148.7,382.2 v3.5 M186.6,683.7 v-5.5 M186.6,382.2 v5.5 M224.6,683.7 v-3.5 M224.6,382.2 v3.5 M262.6,683.7 v-5.5 M262.6,382.2 v5.5 M300.6,683.7 v-3.5 M300.6,382.2 v3.5 M338.6,683.7 v-5.5 M338.6,382.2 v5.5 M376.5,683.7 v-3.5 M376.5,382.2 v3.5 M414.5,683.7 v-5.5 M414.5,382.2 v5.5 M452.5,683.7 v-3.5 M452.5,382.2 v3.5 M72.5,683.7 h6.0 M452.4,683.7 h-6.0 M72.5,673.6 h3.5 M452.4,673.6 h-3.5 M72.5,667.7 h3.5 M452.4,667.7 h-3.5 M72.5,663.5 h3.5 M452.4,663.5 h-3.5 M72.5,660.3 h3.5 M452.4,660.3 h-3.5 M72.5,657.6 h3.5 M452.4,657.6 h-3.5 M72.5,655.4 h3.5 M452.4,655.4 h-3.5 M72.5,653.4 h3.5 M452.4,653.4 h-3.5 M72.5,651.7 h3.5 M452.4,651.7 h-3.5 M72.5,650.2 h6.0 M452.4,650.2 h-6.0 M72.5,640.1 h3.5 M452.4,640.1 h-3.5 M72.5,634.2 h3.5 M452.4,634.2 h-3.5 M72.5,630.0 h3.5 M452.4,630.0 h-3.5 M72.5,626.8 h3.5 M452.4,626.8 h-3.5 M72.5,624.1 h3.5 M452.4,624.1 h-3.5 M72.5,621.9 h3.5 M452.4,621.9 h-3.5 M72.5,619.9 h3.5 M452.4,619.9 h-3.5 M72.5,618.2 h3.5 M452.4,618.2 h-3.5 M72.5,616.7 h6.0 M452.4,616.7 h-6.0 M72.5,606.6 h3.5 M452.4,606.6 h-3.5 M72.5,600.7 h3.5 M452.4,600.7 h-3.5 M72.5,596.5 h3.5 M452.4,596.5 h-3.5 M72.5,593.3 h3.5 M452.4,593.3 h-3.5 M72.5,590.6 h3.5 M452.4,590.6 h-3.5 M72.5,588.4 h3.5 M452.4,588.4 h-3.5 M72.5,586.4 h3.5 M452.4,586.4 h-3.5 M72.5,584.7 h3.5 M452.4,584.7 h-3.5 M72.5,583.2 h6.0 M452.4,583.2 h-6.0 M72.5,573.1 h3.5 M452.4,573.1 h-3.5 M72.5,567.2 h3.5 M452.4,567.2 h-3.5 M72.5,563.0 h3.5 M452.4,563.0 h-3.5 M72.5,559.8 h3.5 M452.4,559.8 h-3.5 M72.5,557.1 h3.5 M452.4,557.1 h-3.5 M72.5,554.9 h3.5 M452.4,554.9 h-3.5 M72.5,552.9 h3.5 M452.4,552.9 h-3.5 M72.5,551.2 h3.5 M452.4,551.2 h-3.5 M72.5,549.7 h6.0 M452.4,549.7 h-6.0 M72.5,539.6 h3.5 M452.4,539.6 h-3.5 M72.5,533.7 h3.5 M452.4,533.7 h-3.5 M72.5,529.5 h3.5 M452.4,529.5 h-3.5 M72.5,526.3 h3.5 M452.4,526.3 h-3.5 M72.5,523.6 h3.5 M452.4,523.6 h-3.5 M72.5,521.4 h3.5 M452.4,521.4 h-3.5 M72.5,519.4 h3.5 M452.4,519.4 h-3.5 M72.5,517.7 h3.5 M452.4,517.7 h-3.5 M72.5,516.2 h6.0 M452.4,516.2 h-6.0 M72.5,506.1 h3.5 M452.4,506.1 h-3.5 M72.5,500.2 h3.5 M452.4,500.2 h-3.5 M72.5,496.0 h3.5 M452.4,496.0 h-3.5 M72.5,492.8 h3.5 M452.4,492.8 h-3.5 M72.5,490.1 h3.5 M452.4,490.1 h-3.5 M72.5,487.9 h3.5 M452.4,487.9 h-3.5 M72.5,485.9 h3.5 M452.4,485.9 h-3.5 M72.5,484.2 h3.5 M452.4,484.2 h-3.5 M72.5,482.7 h6.0 M452.4,482.7 h-6.0 M72.5,472.6 h3.5 M452.4,472.6 h-3.5 M72.5,466.7 h3.5 M452.4,466.7 h-3.5 M72.5,462.5 h3.5 M452.4,462.5 h-3.5 M72.5,459.3 h3.5 M452.4,459.3 h-3.5 M72.5,456.6 h3.5 M452.4,456.6 h-3.5 M72.5,454.4 h3.5 M452.4,454.4 h-3.5 M72.5,452.4 h3.5 M452.4,452.4 h-3.5 M72.5,450.7 h3.5 M452.4,450.7 h-3.5 M72.5,449.2 h6.0 M452.4,449.2 h-6.0 M72.5,439.1 h3.5 M452.4,439.1 h-3.5 M72.5,433.2 h3.5 M452.4,433.2 h-3.5 M72.5,429.0 h3.5 M452.4,429.0 h-3.5 M72.5,425.8 h3.5 M452.4,425.8 h-3.5 M72.5,423.1 h3.5 M452.4,423.1 h-3.5 M72.5,420.9 h3.5 M452.4,420.9 h-3.5 M72.5,418.9 h3.5 M452.4,418.9 h-3.5 M72.5,417.2 h3.5 M452.4,417.2 h-3.5 M72.5,415.7 h6.0 M452.4,415.7 h-6.0 M72.5,405.6 h3.5 M452.4,405.6 h-3.5 M72.5,399.7 h3.5 M452.4,399.7 h-3.5 M72.5,395.5 h3.5 M452.4,395.5 h-3.5 M72.5,392.3 h3.5 M452.4,392.3 h-3.5 M72.5,389.6 h3.5 M452.4,389.6 h-3.5 M72.5,387.4 h3.5 M452.4,387.4 h-3.5 M72.5,385.4 h3.5 M452.4,385.4 h-3.5 M72.5,383.7 h3.5 M452.4,383.7 h-3.5 M72.5,382.2 h6.0 M452.4,382.2 h-6.0 "/>
</g>
<text x="110.7" y="706" font-family="Liberation Sans, sans-serif" font-size="18" text-anchor="middle" fill="#000">-2</text>
<text x="186.6" y="706" font-family="Liberation Sans, sans-serif" font-size="18" text-anchor="middle" fill="#000">-1</text>
<text x="262.6" y="706" font-family="Liberation Sans, sans-serif" font-size="18" text-anchor="middle" fill="#000">0</text>
<text x="338.6" y="706" font-family="Liberation Sans, sans-serif" font-size="18" text-anchor="middle" fill="#000">1</text>
<text x="414.5" y="706" font-family="Liberation Sans, sans-serif" font-size="18" text-anchor="middle" fill="#000">2</text>
<text x="262.4" y="728.3" font-family="Liberation Sans, sans-serif" font-size="20.5" text-anchor="middle" fill="#000">V (V)</text>
<text x="64.8" y="389.4" font-family="Liberation Sans, sans-serif" font-size="19" text-anchor="end" fill="#000">10<tspan font-size="11" dy="-8.6" dx="0.6">-5</tspan></text>
<text x="64.8" y="489.9" font-family="Liberation Sans, sans-serif" font-size="19" text-anchor="end" fill="#000">10<tspan font-size="11" dy="-8.6" dx="0.6">-8</tspan></text>
<text x="64.8" y="590.4" font-family="Liberation Sans, sans-serif" font-size="19" text-anchor="end" fill="#000">10<tspan font-size="11" dy="-8.6" dx="0.6">-11</tspan></text>
<text x="64.8" y="690.9" font-family="Liberation Sans, sans-serif" font-size="19" text-anchor="end" fill="#000">10<tspan font-size="11" dy="-8.6" dx="0.6">-14</tspan></text>
<text transform="translate(19.5,533) rotate(-90)" font-family="Liberation Sans, sans-serif" font-size="20" text-anchor="middle" fill="#000">I (A)</text>
<defs><clipPath id="cclip"><rect x="72.5" y="382.2" width="379.9" height="301.5"/></clipPath></defs>
<g fill="none" stroke-linejoin="round" clip-path="url(#cclip)">
<path d="M72.7,538.0 L73.7,538.0 L74.7,538.1 L75.7,538.1 L76.7,538.2 L77.7,538.2 L78.7,538.2 L79.7,538.3 L80.8,538.3 L81.8,538.4 L82.8,538.4 L83.8,538.4 L84.8,538.5 L85.8,538.5 L86.8,538.6 L87.8,538.6 L88.8,538.6 L89.8,538.7 L90.8,538.7 L91.8,538.8 L92.8,538.8 L93.8,538.8 L94.8,538.9 L95.8,538.9 L96.9,539.0 L97.9,539.0 L98.9,539.0 L99.9,539.1 L100.9,539.1 L101.9,539.2 L102.9,539.2 L103.9,539.2 L104.9,539.3 L105.9,539.3 L106.9,539.4 L107.9,539.4 L108.9,539.5 L109.9,539.5 L110.9,539.6 L111.9,539.6 L113.0,539.6 L114.0,539.7 L115.0,539.7 L116.0,539.8 L117.0,539.8 L118.0,539.9 L119.0,539.9 L120.0,540.0 L121.0,540.1 L122.0,540.1 L123.0,540.2 L124.0,540.2 L125.0,540.3 L126.0,540.3 L127.0,540.4 L128.0,540.4 L129.0,540.5 L130.0,540.5 L131.0,540.6 L132.0,540.6 L133.0,540.7 L134.0,540.7 L135.0,540.8 L136.0,540.8 L137.0,540.9 L138.0,541.0 L139.0,541.0 L140.0,541.1 L141.0,541.1 L142.0,541.2 L143.0,541.2 L144.0,541.3 L145.0,541.4 L146.0,541.4 L147.0,541.5 L148.0,541.6 L149.0,541.6 L150.0,541.7 L151.0,541.8 L152.0,541.8 L153.0,541.9 L154.0,542.0 L155.0,542.1 L156.0,542.2 L157.0,542.2 L158.0,542.3 L159.0,542.4 L160.0,542.5 L161.0,542.6 L162.0,542.7 L163.0,542.8 L164.0,542.9 L165.0,543.0 L166.0,543.1 L167.0,543.2 L168.0,543.3 L169.0,543.4 L170.0,543.5 L171.0,543.6 L172.1,543.8 L173.1,543.9 L174.1,544.1 L175.1,544.3 L176.2,544.5 L177.2,544.7 L178.2,544.9 L179.2,545.1 L180.3,545.3 L181.3,545.6 L182.3,545.8 L183.4,546.1 L184.4,546.4 L185.4,546.6 L186.4,546.9 L187.5,547.2 L188.5,547.5 L189.5,547.8 L190.5,548.1 L191.6,548.4 L192.6,548.7 L193.6,549.0 L194.7,549.3 L195.7,549.6 L196.7,549.9 L197.7,550.2 L198.8,550.5 L199.8,550.8 L200.8,551.1 L201.8,551.4 L202.9,551.7 L203.9,552.0 L204.9,552.3 L205.9,552.5 L206.9,552.8 L207.9,553.1 L208.9,553.3 L209.9,553.6 L211.0,553.8 L212.0,554.1 L213.0,554.3 L214.0,554.6 L215.0,554.9 L216.0,555.1 L217.0,555.4 L218.0,555.7 L219.0,556.0 L220.0,556.3 L221.0,556.6 L222.0,556.9 L223.0,557.2 L224.0,557.6 L225.1,557.9 L226.1,558.3 L227.1,558.7 L228.1,559.1 L229.1,559.6 L230.1,560.0 L231.1,560.5 L232.1,561.1 L233.1,561.6 L234.2,562.2 L235.2,562.9 L236.2,563.7 L237.2,564.5 L238.2,565.5 L239.3,566.6 L240.3,568.0 L241.3,569.8 L242.3,572.1 L243.3,575.1 L244.4,578.6 L245.4,582.2 L246.4,585.8 L247.5,589.3 L248.7,592.8 L249.8,596.1 L250.9,599.5 L252.1,602.9 L253.2,606.3 L254.3,609.7 L255.5,613.2 L256.6,616.9 L257.7,621.1 L258.9,626.1 L260.0,632.4 L261.2,639.3 L262.4,648.6 L263.6,660.0" stroke="#5c0a6e" stroke-width="2.0"/>
<path d="M269.5,683.7 L270.5,671.2 L271.5,660.4 L272.5,650.9 L273.7,641.7 L274.8,633.4 L276.0,626.2 L277.1,619.9 L278.2,614.5 L279.4,609.8 L280.5,605.7 L281.6,602.0 L282.7,598.8 L283.8,595.9 L284.8,593.2 L285.9,590.6 L287.0,588.1 L288.0,585.7 L289.0,583.3 L290.0,581.0 L291.0,578.8 L292.0,576.5 L293.0,574.2 L294.0,572.0 L295.0,569.6 L296.0,567.3 L297.0,564.9 L298.0,562.6 L299.0,560.3 L300.0,558.2 L301.0,556.1 L302.1,554.1 L303.1,552.3 L304.2,550.5 L305.2,548.8 L306.3,547.1 L307.3,545.4 L308.4,543.6 L309.4,541.8 L310.5,539.8 L311.6,537.7 L312.6,535.5 L313.7,533.2 L314.8,530.9 L315.8,528.6 L316.9,526.3 L317.9,524.2 L319.0,522.2 L320.1,520.4 L321.1,518.7 L322.1,517.2 L323.2,515.7 L324.2,514.3 L325.3,512.8 L326.4,511.3 L327.4,509.7 L328.4,508.0 L329.5,506.0 L330.6,503.7 L331.6,501.3 L332.7,498.6 L333.8,495.9 L334.9,493.2 L335.9,490.6 L337.0,488.3 L338.0,486.2 L339.1,484.3 L340.1,482.5 L341.1,480.7 L342.2,479.1 L343.2,477.4 L344.2,475.8 L345.3,474.2 L346.3,472.5 L347.4,470.8 L348.5,469.0 L349.6,467.3 L350.7,465.6 L351.8,464.0 L352.9,462.6 L354.0,461.2 L355.0,460.0 L356.0,458.9 L357.1,457.9 L358.1,456.9 L359.1,456.0 L360.1,455.2 L361.2,454.3 L362.2,453.4 L363.2,452.4 L364.3,451.5 L365.3,450.5 L366.4,449.5 L367.5,448.5 L368.6,447.5 L369.6,446.6 L370.7,445.6 L371.8,444.7 L372.9,443.7 L373.9,442.9 L375.0,442.0 L376.0,441.2 L377.1,440.5 L378.1,439.7 L379.1,439.0 L380.2,438.3 L381.2,437.6 L382.2,437.0 L383.2,436.3 L384.3,435.6 L385.3,435.0 L386.3,434.3 L387.4,433.7 L388.4,433.0 L389.4,432.3 L390.5,431.7 L391.5,431.0 L392.6,430.3 L393.6,429.6 L394.7,429.0 L395.7,428.3 L396.7,427.7 L397.8,427.0 L398.8,426.4 L399.9,425.8 L400.9,425.2 L402.0,424.6 L403.0,424.0 L404.1,423.4 L405.1,422.9 L406.2,422.3 L407.3,421.8 L408.3,421.3 L409.4,420.8 L410.4,420.3 L411.5,419.8 L412.6,419.3 L413.6,418.8 L414.7,418.3 L415.8,417.9 L416.8,417.4 L417.9,417.0 L418.9,416.6 L419.9,416.2 L420.9,415.8 L421.9,415.5 L422.9,415.1 L423.9,414.7 L424.9,414.4 L425.9,414.0 L427.0,413.7 L428.0,413.4 L429.0,413.0 L430.0,412.7 L431.0,412.4 L432.0,412.0 L433.0,411.7 L434.0,411.3 L435.0,411.0 L436.0,410.6 L437.1,410.3 L438.1,409.9 L439.1,409.6 L440.2,409.3 L441.2,408.9 L442.3,408.6 L443.3,408.2 L444.3,407.9 L445.4,407.5 L446.4,407.2 L447.5,406.9 L448.5,406.5 L449.5,406.2 L450.6,405.8 L451.6,405.5" stroke="#5c0a6e" stroke-width="1.8" transform="translate(5.2,1.3)"/>
<rect x="68.7" y="534.0" width="8" height="8" fill="#5c0a6e"/><rect x="76.3" y="534.3" width="8" height="8" fill="#5c0a6e"/><rect x="83.9" y="534.6" width="8" height="8" fill="#5c0a6e"/><rect x="91.5" y="534.9" width="8" height="8" fill="#5c0a6e"/><rect x="99.1" y="535.2" width="8" height="8" fill="#5c0a6e"/><rect x="106.7" y="535.6" width="8" height="8" fill="#5c0a6e"/><rect x="114.3" y="535.9" width="8" height="8" fill="#5c0a6e"/><rect x="121.9" y="536.3" width="8" height="8" fill="#5c0a6e"/><rect x="129.5" y="536.7" width="8" height="8" fill="#5c0a6e"/><rect x="137.1" y="537.1" width="8" height="8" fill="#5c0a6e"/><rect x="144.7" y="537.6" width="8" height="8" fill="#5c0a6e"/><rect x="152.3" y="538.2" width="8" height="8" fill="#5c0a6e"/><rect x="159.9" y="538.9" width="8" height="8" fill="#5c0a6e"/><rect x="167.4" y="539.7" width="8" height="8" fill="#5c0a6e"/><rect x="175.0" y="541.1" width="8" height="8" fill="#5c0a6e"/><rect x="182.6" y="543.0" width="8" height="8" fill="#5c0a6e"/><rect x="190.2" y="545.2" width="8" height="8" fill="#5c0a6e"/><rect x="197.8" y="547.4" width="8" height="8" fill="#5c0a6e"/><rect x="205.4" y="549.5" width="8" height="8" fill="#5c0a6e"/><rect x="213.0" y="551.4" width="8" height="8" fill="#5c0a6e"/><rect x="220.6" y="553.8" width="8" height="8" fill="#5c0a6e"/><rect x="228.2" y="557.1" width="8" height="8" fill="#5c0a6e"/><rect x="235.8" y="563.3" width="8" height="8" fill="#5c0a6e"/><rect x="243.4" y="585.1" width="8" height="8" fill="#5c0a6e"/><rect x="251.0" y="607.8" width="8" height="8" fill="#5c0a6e"/><rect x="279.0" y="613.8" width="8" height="8" fill="#5c0a6e"/><rect x="286.6" y="589.2" width="8" height="8" fill="#5c0a6e"/><rect x="294.2" y="571.6" width="8" height="8" fill="#5c0a6e"/><rect x="301.8" y="554.3" width="8" height="8" fill="#5c0a6e"/><rect x="309.4" y="541.3" width="8" height="8" fill="#5c0a6e"/><rect x="317.0" y="526.0" width="8" height="8" fill="#5c0a6e"/><rect x="324.6" y="512.8" width="8" height="8" fill="#5c0a6e"/><rect x="332.2" y="500.2" width="8" height="8" fill="#5c0a6e"/><rect x="339.8" y="482.5" width="8" height="8" fill="#5c0a6e"/><rect x="347.4" y="470.0" width="8" height="8" fill="#5c0a6e"/><rect x="355.0" y="458.8" width="8" height="8" fill="#5c0a6e"/><rect x="362.6" y="451.5" width="8" height="8" fill="#5c0a6e"/><rect x="370.2" y="444.5" width="8" height="8" fill="#5c0a6e"/><rect x="377.8" y="438.2" width="8" height="8" fill="#5c0a6e"/><rect x="385.4" y="433.0" width="8" height="8" fill="#5c0a6e"/><rect x="393.0" y="428.2" width="8" height="8" fill="#5c0a6e"/><rect x="400.6" y="423.4" width="8" height="8" fill="#5c0a6e"/><rect x="408.2" y="419.3" width="8" height="8" fill="#5c0a6e"/><rect x="415.8" y="415.7" width="8" height="8" fill="#5c0a6e"/><rect x="423.4" y="412.7" width="8" height="8" fill="#5c0a6e"/><rect x="431.0" y="410.1" width="8" height="8" fill="#5c0a6e"/><rect x="438.6" y="407.5" width="8" height="8" fill="#5c0a6e"/>
<path d="M72.7,530.7 L73.7,530.7 L74.7,530.7 L75.7,530.7 L76.7,530.7 L77.7,530.7 L78.7,530.7 L79.7,530.7 L80.8,530.7 L81.8,530.7 L82.8,530.7 L83.8,530.6 L84.8,530.6 L85.8,530.6 L86.8,530.6 L87.8,530.6 L88.8,530.6 L89.8,530.6 L90.8,530.6 L91.8,530.6 L92.8,530.6 L93.8,530.6 L94.8,530.6 L95.8,530.6 L96.9,530.6 L97.9,530.6 L98.9,530.6 L99.9,530.6 L100.9,530.6 L101.9,530.5 L102.9,530.5 L103.9,530.5 L104.9,530.5 L105.9,530.5 L106.9,530.5 L107.9,530.5 L108.9,530.5 L109.9,530.5 L110.9,530.5 L111.9,530.5 L113.0,530.5 L114.0,530.5 L115.0,530.5 L116.0,530.5 L117.0,530.5 L118.0,530.5 L119.0,530.5 L120.0,530.5 L121.0,530.5 L122.0,530.5 L123.0,530.5 L124.0,530.5 L125.0,530.5 L126.0,530.5 L127.0,530.5 L128.0,530.5 L129.0,530.5 L130.0,530.5 L131.0,530.5 L132.0,530.5 L133.0,530.5 L134.0,530.5 L135.0,530.6 L136.0,530.6 L137.0,530.6 L138.0,530.6 L139.0,530.6 L140.0,530.6 L141.0,530.6 L142.0,530.6 L143.0,530.6 L144.0,530.6 L145.0,530.6 L146.0,530.7 L147.0,530.7 L148.0,530.7 L149.0,530.7 L150.0,530.7 L151.0,530.7 L152.0,530.7 L153.0,530.7 L154.0,530.8 L155.0,530.8 L156.0,530.8 L157.0,530.8 L158.0,530.8 L159.0,530.8 L160.0,530.8 L161.0,530.9 L162.0,530.9 L163.0,530.9 L164.0,530.9 L165.0,530.9 L166.0,530.9 L167.0,530.9 L168.0,531.0 L169.0,531.0 L170.0,531.0 L171.0,531.0 L172.0,531.0 L173.1,531.1 L174.1,531.1 L175.1,531.1 L176.1,531.1 L177.1,531.2 L178.1,531.2 L179.2,531.2 L180.2,531.3 L181.2,531.3 L182.2,531.3 L183.2,531.4 L184.2,531.4 L185.3,531.4 L186.3,531.5 L187.3,531.5 L188.3,531.6 L189.3,531.6 L190.3,531.7 L191.4,531.7 L192.4,531.8 L193.4,531.9 L194.4,531.9 L195.4,532.0 L196.5,532.1 L197.5,532.1 L198.5,532.2 L199.5,532.3 L200.5,532.4 L201.5,532.4 L202.6,532.5 L203.6,532.6 L204.6,532.7 L205.6,532.8 L206.6,532.9 L207.6,533.0 L208.7,533.1 L209.7,533.2 L210.7,533.3 L211.7,533.5 L212.7,533.6 L213.8,533.8 L214.8,534.0 L215.8,534.3 L216.8,534.6 L217.8,534.9 L218.9,535.2 L219.9,535.6 L220.9,536.0 L221.9,536.5 L222.9,536.9 L224.0,537.4 L225.0,538.0 L226.0,538.5 L227.0,539.1 L228.0,539.8 L229.1,540.4 L230.1,541.2 L231.1,542.0 L232.2,543.0 L233.2,544.2 L234.3,545.6 L235.3,547.3 L236.4,549.2 L237.5,551.2 L238.5,553.4 L239.6,555.8 L240.7,558.6 L241.9,561.7 L243.0,565.1 L244.1,568.6 L245.3,572.1 L246.4,575.6 L247.5,579.0 L248.7,582.2 L249.8,585.5 L250.9,589.0 L252.1,592.6 L253.2,596.6 L254.3,601.0 L255.5,605.8 L256.6,611.0 L257.7,616.6 L258.9,622.4 L260.0,628.5 L261.0,634.8 L262.0,641.1 L263.0,647.7 L264.0,655.0" stroke="#8a3ad6" stroke-width="2.0"/>
<path d="M269.5,683.7 L270.5,671.2 L271.5,660.4 L272.5,650.9 L273.7,641.7 L274.8,633.4 L276.0,626.2 L277.1,619.9 L278.2,614.5 L279.4,609.8 L280.5,605.7 L281.6,602.0 L282.7,598.8 L283.8,595.9 L284.8,593.2 L285.9,590.6 L287.0,588.1 L288.0,585.7 L289.0,583.3 L290.0,581.0 L291.0,578.8 L292.0,576.5 L293.0,574.2 L294.0,572.0 L295.0,569.6 L296.0,567.3 L297.0,564.9 L298.0,562.6 L299.0,560.3 L300.0,558.2 L301.0,556.1 L302.1,554.1 L303.1,552.3 L304.2,550.5 L305.2,548.8 L306.3,547.1 L307.3,545.4 L308.4,543.6 L309.4,541.8 L310.5,539.8 L311.6,537.7 L312.6,535.5 L313.7,533.2 L314.8,530.9 L315.8,528.6 L316.9,526.3 L317.9,524.2 L319.0,522.2 L320.1,520.4 L321.1,518.7 L322.1,517.2 L323.2,515.7 L324.2,514.3 L325.3,512.8 L326.4,511.3 L327.4,509.7 L328.4,508.0 L329.5,506.0 L330.6,503.7 L331.6,501.3 L332.7,498.6 L333.8,495.9 L334.9,493.2 L335.9,490.6 L337.0,488.3 L338.0,486.2 L339.1,484.3 L340.1,482.5 L341.1,480.7 L342.2,479.1 L343.2,477.4 L344.2,475.8 L345.3,474.2 L346.3,472.5 L347.4,470.8 L348.5,469.0 L349.6,467.3 L350.7,465.6 L351.8,464.0 L352.9,462.6 L354.0,461.2 L355.0,460.0 L356.0,458.9 L357.1,457.9 L358.1,456.9 L359.1,456.0 L360.1,455.2 L361.2,454.3 L362.2,453.4 L363.2,452.4 L364.3,451.5 L365.3,450.5 L366.4,449.5 L367.5,448.5 L368.6,447.5 L369.6,446.6 L370.7,445.6 L371.8,444.7 L372.9,443.7 L373.9,442.9 L375.0,442.0 L376.0,441.2 L377.1,440.5 L378.1,439.7 L379.1,439.0 L380.2,438.3 L381.2,437.6 L382.2,437.0 L383.2,436.3 L384.3,435.6 L385.3,435.0 L386.3,434.3 L387.4,433.7 L388.4,433.0 L389.4,432.3 L390.5,431.7 L391.5,431.0 L392.6,430.3 L393.6,429.6 L394.7,429.0 L395.7,428.3 L396.7,427.7 L397.8,427.0 L398.8,426.4 L399.9,425.8 L400.9,425.2 L402.0,424.6 L403.0,424.0 L404.1,423.4 L405.1,422.9 L406.2,422.3 L407.3,421.8 L408.3,421.3 L409.4,420.8 L410.4,420.3 L411.5,419.8 L412.6,419.3 L413.6,418.8 L414.7,418.3 L415.8,417.9 L416.8,417.4 L417.9,417.0 L418.9,416.6 L419.9,416.2 L420.9,415.8 L421.9,415.5 L422.9,415.1 L423.9,414.7 L424.9,414.4 L425.9,414.0 L427.0,413.7 L428.0,413.4 L429.0,413.0 L430.0,412.7 L431.0,412.4 L432.0,412.0 L433.0,411.7 L434.0,411.3 L435.0,411.0 L436.0,410.6 L437.1,410.3 L438.1,409.9 L439.1,409.6 L440.2,409.3 L441.2,408.9 L442.3,408.6 L443.3,408.2 L444.3,407.9 L445.4,407.5 L446.4,407.2 L447.5,406.9 L448.5,406.5 L449.5,406.2 L450.6,405.8 L451.6,405.5" stroke="#8a3ad6" stroke-width="1.8" transform="translate(4.6,1.1)"/>
<circle cx="72.7" cy="530.7" r="4.4" fill="#fff" stroke="#8a3ad6" stroke-width="1.3"/><circle cx="80.3" cy="530.7" r="4.4" fill="#fff" stroke="#8a3ad6" stroke-width="1.3"/><circle cx="87.9" cy="530.6" r="4.4" fill="#fff" stroke="#8a3ad6" stroke-width="1.3"/><circle cx="95.5" cy="530.6" r="4.4" fill="#fff" stroke="#8a3ad6" stroke-width="1.3"/><circle cx="103.1" cy="530.5" r="4.4" fill="#fff" stroke="#8a3ad6" stroke-width="1.3"/><circle cx="110.7" cy="530.5" r="4.4" fill="#fff" stroke="#8a3ad6" stroke-width="1.3"/><circle cx="118.3" cy="530.5" r="4.4" fill="#fff" stroke="#8a3ad6" stroke-width="1.3"/><circle cx="125.9" cy="530.5" r="4.4" fill="#fff" stroke="#8a3ad6" stroke-width="1.3"/><circle cx="133.5" cy="530.5" r="4.4" fill="#fff" stroke="#8a3ad6" stroke-width="1.3"/><circle cx="141.1" cy="530.6" r="4.4" fill="#fff" stroke="#8a3ad6" stroke-width="1.3"/><circle cx="148.7" cy="530.7" r="4.4" fill="#fff" stroke="#8a3ad6" stroke-width="1.3"/><circle cx="156.3" cy="530.8" r="4.4" fill="#fff" stroke="#8a3ad6" stroke-width="1.3"/><circle cx="163.9" cy="530.9" r="4.4" fill="#fff" stroke="#8a3ad6" stroke-width="1.3"/><circle cx="171.4" cy="531.0" r="4.4" fill="#fff" stroke="#8a3ad6" stroke-width="1.3"/><circle cx="179.0" cy="531.2" r="4.4" fill="#fff" stroke="#8a3ad6" stroke-width="1.3"/><circle cx="186.6" cy="531.5" r="4.4" fill="#fff" stroke="#8a3ad6" stroke-width="1.3"/><circle cx="194.2" cy="531.9" r="4.4" fill="#fff" stroke="#8a3ad6" stroke-width="1.3"/><circle cx="201.8" cy="532.5" r="4.4" fill="#fff" stroke="#8a3ad6" stroke-width="1.3"/><circle cx="209.4" cy="533.2" r="4.4" fill="#fff" stroke="#8a3ad6" stroke-width="1.3"/><circle cx="217.0" cy="534.7" r="4.4" fill="#fff" stroke="#8a3ad6" stroke-width="1.3"/><circle cx="224.6" cy="537.8" r="4.4" fill="#fff" stroke="#8a3ad6" stroke-width="1.3"/><circle cx="232.2" cy="543.0" r="4.4" fill="#fff" stroke="#8a3ad6" stroke-width="1.3"/><circle cx="239.8" cy="556.4" r="4.4" fill="#fff" stroke="#8a3ad6" stroke-width="1.3"/><circle cx="247.4" cy="578.7" r="4.4" fill="#fff" stroke="#8a3ad6" stroke-width="1.3"/><circle cx="255.0" cy="603.8" r="4.4" fill="#fff" stroke="#8a3ad6" stroke-width="1.3"/><circle cx="277.6" cy="648.1" r="4.4" fill="none" stroke="#8a3ad6" stroke-width="1.3"/><circle cx="285.2" cy="606.5" r="4.4" fill="none" stroke="#8a3ad6" stroke-width="1.3"/><circle cx="292.8" cy="586.4" r="4.4" fill="none" stroke="#8a3ad6" stroke-width="1.3"/><circle cx="300.4" cy="568.9" r="4.4" fill="none" stroke="#8a3ad6" stroke-width="1.3"/><circle cx="308.0" cy="552.9" r="4.4" fill="none" stroke="#8a3ad6" stroke-width="1.3"/><circle cx="315.6" cy="540.0" r="4.4" fill="none" stroke="#8a3ad6" stroke-width="1.3"/><circle cx="323.2" cy="524.1" r="4.4" fill="none" stroke="#8a3ad6" stroke-width="1.3"/><circle cx="330.8" cy="512.8" r="4.4" fill="none" stroke="#8a3ad6" stroke-width="1.3"/><circle cx="338.4" cy="497.1" r="4.4" fill="none" stroke="#8a3ad6" stroke-width="1.3"/><circle cx="346.0" cy="481.5" r="4.4" fill="none" stroke="#8a3ad6" stroke-width="1.3"/><circle cx="353.6" cy="469.5" r="4.4" fill="none" stroke="#8a3ad6" stroke-width="1.3"/><circle cx="361.2" cy="459.5" r="4.4" fill="none" stroke="#8a3ad6" stroke-width="1.3"/><circle cx="368.8" cy="452.8" r="4.4" fill="none" stroke="#8a3ad6" stroke-width="1.3"/><circle cx="376.4" cy="445.8" r="4.4" fill="none" stroke="#8a3ad6" stroke-width="1.3"/><circle cx="384.0" cy="440.0" r="4.4" fill="none" stroke="#8a3ad6" stroke-width="1.3"/><circle cx="391.5" cy="435.1" r="4.4" fill="none" stroke="#8a3ad6" stroke-width="1.3"/><circle cx="399.1" cy="430.2" r="4.4" fill="none" stroke="#8a3ad6" stroke-width="1.3"/><circle cx="406.7" cy="425.7" r="4.4" fill="none" stroke="#8a3ad6" stroke-width="1.3"/><circle cx="414.3" cy="421.8" r="4.4" fill="none" stroke="#8a3ad6" stroke-width="1.3"/><circle cx="421.9" cy="418.4" r="4.4" fill="none" stroke="#8a3ad6" stroke-width="1.3"/><circle cx="429.5" cy="415.5" r="4.4" fill="none" stroke="#8a3ad6" stroke-width="1.3"/><circle cx="437.1" cy="413.0" r="4.4" fill="none" stroke="#8a3ad6" stroke-width="1.3"/><circle cx="444.7" cy="410.4" r="4.4" fill="none" stroke="#8a3ad6" stroke-width="1.3"/>
<path d="M72.7,502.3 L73.7,502.3 L74.7,502.3 L75.7,502.3 L76.7,502.3 L77.7,502.3 L78.7,502.3 L79.7,502.3 L80.8,502.3 L81.8,502.3 L82.8,502.3 L83.8,502.3 L84.8,502.3 L85.8,502.4 L86.8,502.4 L87.8,502.4 L88.8,502.4 L89.8,502.4 L90.8,502.4 L91.8,502.4 L92.8,502.4 L93.8,502.4 L94.8,502.4 L95.8,502.4 L96.9,502.4 L97.9,502.4 L98.9,502.4 L99.9,502.4 L100.9,502.4 L101.9,502.4 L102.9,502.4 L103.9,502.4 L104.9,502.4 L105.9,502.4 L106.9,502.4 L107.9,502.4 L108.9,502.4 L109.9,502.4 L110.9,502.5 L111.9,502.5 L113.0,502.5 L114.0,502.5 L115.0,502.5 L116.0,502.5 L117.0,502.5 L118.0,502.5 L119.0,502.5 L120.0,502.5 L121.0,502.5 L122.0,502.5 L123.0,502.5 L124.0,502.5 L125.0,502.5 L126.0,502.5 L127.0,502.5 L128.0,502.6 L129.0,502.6 L130.0,502.6 L131.0,502.6 L132.0,502.6 L133.0,502.6 L134.0,502.6 L135.0,502.6 L136.0,502.6 L137.0,502.6 L138.0,502.6 L139.0,502.7 L140.0,502.7 L141.0,502.7 L142.0,502.7 L143.0,502.7 L144.0,502.7 L145.0,502.7 L146.0,502.7 L147.0,502.7 L148.0,502.7 L149.0,502.8 L150.0,502.8 L151.0,502.8 L152.0,502.8 L153.0,502.8 L154.0,502.8 L155.0,502.8 L156.0,502.8 L157.0,502.8 L158.0,502.9 L159.0,502.9 L160.0,502.9 L161.0,502.9 L162.0,502.9 L163.0,502.9 L164.0,502.9 L165.0,502.9 L166.0,503.0 L167.0,503.0 L168.0,503.0 L169.0,503.0 L170.0,503.0 L171.0,503.0 L172.1,503.0 L173.1,503.0 L174.1,503.0 L175.1,503.1 L176.2,503.1 L177.2,503.1 L178.2,503.1 L179.2,503.1 L180.3,503.1 L181.3,503.1 L182.3,503.1 L183.4,503.1 L184.4,503.1 L185.4,503.2 L186.4,503.2 L187.5,503.2 L188.5,503.2 L189.5,503.2 L190.5,503.2 L191.6,503.2 L192.6,503.2 L193.6,503.3 L194.7,503.3 L195.7,503.3 L196.7,503.3 L197.7,503.3 L198.8,503.4 L199.8,503.4 L200.8,503.4 L201.8,503.4 L202.9,503.5 L203.9,503.5 L204.9,503.6 L205.9,503.8 L206.9,503.9 L207.9,504.2 L208.9,504.5 L209.9,504.8 L210.9,505.2 L211.9,505.6 L212.9,506.1 L213.9,506.5 L214.9,507.0 L215.9,507.6 L216.9,508.1 L217.9,508.7 L218.9,509.3 L219.9,509.9 L220.9,510.6 L221.9,511.3 L223.0,512.1 L224.0,512.9 L225.1,513.9 L226.1,514.9 L227.2,516.0 L228.2,517.1 L229.3,518.3 L230.3,519.6 L231.4,520.9 L232.4,522.2 L233.5,523.5 L234.5,524.9 L235.5,526.4 L236.6,527.8 L237.6,529.3 L238.7,530.9 L239.7,532.6 L240.8,534.3 L241.8,536.0 L242.9,537.9 L243.9,539.9 L245.0,541.9 L246.0,544.1 L247.1,546.4 L248.1,548.7 L249.1,551.3 L250.1,554.0 L251.2,556.8 L252.2,559.9 L253.2,563.2 L254.2,566.7 L255.2,570.4 L256.3,574.4 L257.3,578.7 L258.3,583.4 L259.4,588.8 L260.5,594.9 L261.6,601.5 L262.7,608.4 L263.8,615.4 L264.9,622.5 L266.0,630.0" stroke="#3a6fd8" stroke-width="2.0"/>
<path d="M269.5,683.7 L270.5,671.2 L271.5,660.4 L272.5,650.9 L273.7,641.7 L274.8,633.4 L276.0,626.2 L277.1,619.9 L278.2,614.5 L279.4,609.8 L280.5,605.7 L281.6,602.0 L282.7,598.8 L283.8,595.9 L284.8,593.2 L285.9,590.6 L287.0,588.1 L288.0,585.7 L289.0,583.3 L290.0,581.0 L291.0,578.8 L292.0,576.5 L293.0,574.2 L294.0,572.0 L295.0,569.6 L296.0,567.3 L297.0,564.9 L298.0,562.6 L299.0,560.3 L300.0,558.2 L301.0,556.1 L302.1,554.1 L303.1,552.3 L304.2,550.5 L305.2,548.8 L306.3,547.1 L307.3,545.4 L308.4,543.6 L309.4,541.8 L310.5,539.8 L311.6,537.7 L312.6,535.5 L313.7,533.2 L314.8,530.9 L315.8,528.6 L316.9,526.3 L317.9,524.2 L319.0,522.2 L320.1,520.4 L321.1,518.7 L322.1,517.2 L323.2,515.7 L324.2,514.3 L325.3,512.8 L326.4,511.3 L327.4,509.7 L328.4,508.0 L329.5,506.0 L330.6,503.7 L331.6,501.3 L332.7,498.6 L333.8,495.9 L334.9,493.2 L335.9,490.6 L337.0,488.3 L338.0,486.2 L339.1,484.3 L340.1,482.5 L341.1,480.7 L342.2,479.1 L343.2,477.4 L344.2,475.8 L345.3,474.2 L346.3,472.5 L347.4,470.8 L348.5,469.0 L349.6,467.3 L350.7,465.6 L351.8,464.0 L352.9,462.6 L354.0,461.2 L355.0,460.0 L356.0,458.9 L357.1,457.9 L358.1,456.9 L359.1,456.0 L360.1,455.2 L361.2,454.3 L362.2,453.4 L363.2,452.4 L364.3,451.5 L365.3,450.5 L366.4,449.5 L367.5,448.5 L368.6,447.5 L369.6,446.6 L370.7,445.6 L371.8,444.7 L372.9,443.7 L373.9,442.9 L375.0,442.0 L376.0,441.2 L377.1,440.5 L378.1,439.7 L379.1,439.0 L380.2,438.3 L381.2,437.6 L382.2,437.0 L383.2,436.3 L384.3,435.6 L385.3,435.0 L386.3,434.3 L387.4,433.7 L388.4,433.0 L389.4,432.3 L390.5,431.7 L391.5,431.0 L392.6,430.3 L393.6,429.6 L394.7,429.0 L395.7,428.3 L396.7,427.7 L397.8,427.0 L398.8,426.4 L399.9,425.8 L400.9,425.2 L402.0,424.6 L403.0,424.0 L404.1,423.4 L405.1,422.9 L406.2,422.3 L407.3,421.8 L408.3,421.3 L409.4,420.8 L410.4,420.3 L411.5,419.8 L412.6,419.3 L413.6,418.8 L414.7,418.3 L415.8,417.9 L416.8,417.4 L417.9,417.0 L418.9,416.6 L419.9,416.2 L420.9,415.8 L421.9,415.5 L422.9,415.1 L423.9,414.7 L424.9,414.4 L425.9,414.0 L427.0,413.7 L428.0,413.4 L429.0,413.0 L430.0,412.7 L431.0,412.4 L432.0,412.0 L433.0,411.7 L434.0,411.3 L435.0,411.0 L436.0,410.6 L437.1,410.3 L438.1,409.9 L439.1,409.6 L440.2,409.3 L441.2,408.9 L442.3,408.6 L443.3,408.2 L444.3,407.9 L445.4,407.5 L446.4,407.2 L447.5,406.9 L448.5,406.5 L449.5,406.2 L450.6,405.8 L451.6,405.5" stroke="#3a6fd8" stroke-width="1.8" transform="translate(4.0,1.0)"/>
<polygon points="68.5,497.8 76.9,497.8 72.7,507.3" fill="#fff" stroke="#3a6fd8" stroke-width="1.3"/><polygon points="76.1,497.8 84.5,497.8 80.3,507.3" fill="#fff" stroke="#3a6fd8" stroke-width="1.3"/><polygon points="83.7,497.9 92.1,497.9 87.9,507.4" fill="#fff" stroke="#3a6fd8" stroke-width="1.3"/><polygon points="91.3,497.9 99.7,497.9 95.5,507.4" fill="#fff" stroke="#3a6fd8" stroke-width="1.3"/><polygon points="98.9,497.9 107.3,497.9 103.1,507.4" fill="#fff" stroke="#3a6fd8" stroke-width="1.3"/><polygon points="106.5,498.0 114.9,498.0 110.7,507.5" fill="#fff" stroke="#3a6fd8" stroke-width="1.3"/><polygon points="114.1,498.0 122.5,498.0 118.3,507.5" fill="#fff" stroke="#3a6fd8" stroke-width="1.3"/><polygon points="121.7,498.0 130.1,498.0 125.9,507.5" fill="#fff" stroke="#3a6fd8" stroke-width="1.3"/><polygon points="129.3,498.1 137.7,498.1 133.5,507.6" fill="#fff" stroke="#3a6fd8" stroke-width="1.3"/><polygon points="136.9,498.2 145.3,498.2 141.1,507.7" fill="#fff" stroke="#3a6fd8" stroke-width="1.3"/><polygon points="144.5,498.3 152.9,498.3 148.7,507.8" fill="#fff" stroke="#3a6fd8" stroke-width="1.3"/><polygon points="152.1,498.3 160.5,498.3 156.3,507.8" fill="#fff" stroke="#3a6fd8" stroke-width="1.3"/><polygon points="159.7,498.4 168.1,498.4 163.9,507.9" fill="#fff" stroke="#3a6fd8" stroke-width="1.3"/><polygon points="167.2,498.5 175.6,498.5 171.4,508.0" fill="#fff" stroke="#3a6fd8" stroke-width="1.3"/><polygon points="174.8,498.6 183.2,498.6 179.0,508.1" fill="#fff" stroke="#3a6fd8" stroke-width="1.3"/><polygon points="182.4,498.7 190.8,498.7 186.6,508.2" fill="#fff" stroke="#3a6fd8" stroke-width="1.3"/><polygon points="190.0,498.8 198.4,498.8 194.2,508.3" fill="#fff" stroke="#3a6fd8" stroke-width="1.3"/><polygon points="197.6,498.9 206.0,498.9 201.8,508.4" fill="#fff" stroke="#3a6fd8" stroke-width="1.3"/><polygon points="205.2,500.1 213.6,500.1 209.4,509.6" fill="#fff" stroke="#3a6fd8" stroke-width="1.3"/><polygon points="212.8,503.7 221.2,503.7 217.0,513.2" fill="#fff" stroke="#3a6fd8" stroke-width="1.3"/><polygon points="220.4,509.0 228.8,509.0 224.6,518.5" fill="#fff" stroke="#3a6fd8" stroke-width="1.3"/><polygon points="228.0,517.4 236.4,517.4 232.2,526.9" fill="#fff" stroke="#3a6fd8" stroke-width="1.3"/><polygon points="235.6,528.2 244.0,528.2 239.8,537.7" fill="#fff" stroke="#3a6fd8" stroke-width="1.3"/><polygon points="243.2,542.6 251.6,542.6 247.4,552.1" fill="#fff" stroke="#3a6fd8" stroke-width="1.3"/><polygon points="250.8,565.2 259.2,565.2 255.0,574.7" fill="#fff" stroke="#3a6fd8" stroke-width="1.3"/><polygon points="275.6,623.8 284.0,623.8 279.8,633.3" fill="none" stroke="#3a6fd8" stroke-width="1.3"/><polygon points="283.2,593.5 291.6,593.5 287.4,603.0" fill="none" stroke="#3a6fd8" stroke-width="1.3"/><polygon points="290.8,575.2 299.2,575.2 295.0,584.7" fill="none" stroke="#3a6fd8" stroke-width="1.3"/><polygon points="298.4,557.7 306.8,557.7 302.6,567.2" fill="none" stroke="#3a6fd8" stroke-width="1.3"/><polygon points="306.0,543.7 314.4,543.7 310.2,553.2" fill="none" stroke="#3a6fd8" stroke-width="1.3"/><polygon points="313.5,529.5 321.9,529.5 317.7,539.0" fill="none" stroke="#3a6fd8" stroke-width="1.3"/><polygon points="321.1,514.8 329.5,514.8 325.3,524.3" fill="none" stroke="#3a6fd8" stroke-width="1.3"/><polygon points="328.7,503.4 337.1,503.4 332.9,512.9" fill="none" stroke="#3a6fd8" stroke-width="1.3"/><polygon points="336.3,485.7 344.7,485.7 340.5,495.2" fill="none" stroke="#3a6fd8" stroke-width="1.3"/><polygon points="343.9,472.3 352.3,472.3 348.1,481.8" fill="none" stroke="#3a6fd8" stroke-width="1.3"/><polygon points="351.5,460.6 359.9,460.6 355.7,470.1" fill="none" stroke="#3a6fd8" stroke-width="1.3"/><polygon points="359.1,452.3 367.5,452.3 363.3,461.8" fill="none" stroke="#3a6fd8" stroke-width="1.3"/><polygon points="366.7,445.5 375.1,445.5 370.9,455.0" fill="none" stroke="#3a6fd8" stroke-width="1.3"/><polygon points="374.3,438.9 382.7,438.9 378.5,448.4" fill="none" stroke="#3a6fd8" stroke-width="1.3"/><polygon points="381.9,433.5 390.3,433.5 386.1,443.0" fill="none" stroke="#3a6fd8" stroke-width="1.3"/><polygon points="389.5,428.6 397.9,428.6 393.7,438.1" fill="none" stroke="#3a6fd8" stroke-width="1.3"/><polygon points="397.1,423.8 405.5,423.8 401.3,433.3" fill="none" stroke="#3a6fd8" stroke-width="1.3"/><polygon points="404.7,419.5 413.1,419.5 408.9,429.0" fill="none" stroke="#3a6fd8" stroke-width="1.3"/><polygon points="412.3,415.8 420.7,415.8 416.5,425.3" fill="none" stroke="#3a6fd8" stroke-width="1.3"/><polygon points="419.9,412.6 428.3,412.6 424.1,422.1" fill="none" stroke="#3a6fd8" stroke-width="1.3"/><polygon points="427.5,409.9 435.9,409.9 431.7,419.4" fill="none" stroke="#3a6fd8" stroke-width="1.3"/><polygon points="435.1,407.3 443.5,407.3 439.3,416.8" fill="none" stroke="#3a6fd8" stroke-width="1.3"/><polygon points="442.7,404.8 451.1,404.8 446.9,414.3" fill="none" stroke="#3a6fd8" stroke-width="1.3"/>
<path d="M72.7,469.7 L73.7,469.7 L74.7,469.7 L75.7,469.7 L76.7,469.7 L77.7,469.7 L78.7,469.7 L79.7,469.7 L80.7,469.7 L81.7,469.7 L82.8,469.7 L83.8,469.7 L84.8,469.7 L85.8,469.7 L86.8,469.7 L87.8,469.7 L88.8,469.7 L89.8,469.7 L90.8,469.7 L91.8,469.7 L92.8,469.7 L93.8,469.7 L94.8,469.7 L95.8,469.7 L96.8,469.7 L97.8,469.7 L98.8,469.7 L99.8,469.7 L100.8,469.7 L101.9,469.7 L102.9,469.7 L103.9,469.7 L104.9,469.7 L105.9,469.7 L106.9,469.7 L107.9,469.7 L108.9,469.7 L109.9,469.7 L110.9,469.7 L111.9,469.7 L112.9,469.7 L113.9,469.7 L114.9,469.7 L115.9,469.7 L116.9,469.7 L117.9,469.7 L118.9,469.7 L119.9,469.7 L121.0,469.7 L122.0,469.7 L123.0,469.7 L124.0,469.7 L125.0,469.7 L126.0,469.7 L127.0,469.7 L128.0,469.7 L129.0,469.7 L130.0,469.7 L131.0,469.7 L132.0,469.7 L133.0,469.7 L134.0,469.7 L135.0,469.7 L136.0,469.7 L137.0,469.7 L138.0,469.7 L139.0,469.7 L140.0,469.7 L141.0,469.7 L142.0,469.7 L143.0,469.7 L144.0,469.7 L145.1,469.7 L146.1,469.7 L147.1,469.7 L148.1,469.7 L149.1,469.7 L150.1,469.7 L151.1,469.7 L152.1,469.7 L153.1,469.7 L154.1,469.7 L155.1,469.7 L156.1,469.7 L157.1,469.7 L158.1,469.7 L159.1,469.7 L160.1,469.7 L161.1,469.7 L162.1,469.7 L163.1,469.7 L164.1,469.7 L165.1,469.7 L166.1,469.7 L167.1,469.7 L168.1,469.7 L169.1,469.7 L170.1,469.7 L171.1,469.7 L172.1,469.7 L173.2,469.7 L174.2,469.7 L175.2,469.7 L176.2,469.7 L177.2,469.7 L178.2,469.7 L179.2,469.7 L180.2,469.7 L181.2,469.7 L182.2,469.7 L183.2,469.7 L184.2,469.7 L185.2,469.7 L186.2,469.7 L187.2,469.7 L188.2,469.8 L189.3,469.8 L190.3,470.0 L191.4,470.1 L192.4,470.3 L193.5,470.5 L194.5,470.8 L195.6,471.0 L196.6,471.3 L197.6,471.7 L198.7,472.0 L199.7,472.4 L200.8,472.8 L201.8,473.2 L202.9,473.6 L203.9,474.0 L204.9,474.5 L205.9,475.0 L206.9,475.6 L207.9,476.2 L208.9,476.9 L209.9,477.7 L210.9,478.5 L211.9,479.3 L212.9,480.2 L213.9,481.1 L214.9,482.0 L215.9,483.0 L216.9,484.0 L217.9,485.0 L218.9,486.0 L219.9,487.0 L220.9,488.0 L221.9,489.1 L222.9,490.1 L223.9,491.2 L224.9,492.3 L225.9,493.5 L226.9,494.6 L227.9,495.9 L228.9,497.1 L229.9,498.4 L230.9,499.8 L231.9,501.1 L232.9,502.5 L233.9,504.0 L234.9,505.4 L235.9,506.9 L236.9,508.5 L237.9,510.1 L238.9,511.8 L240.0,513.6 L241.0,515.4 L242.1,517.3 L243.1,519.3 L244.2,521.4 L245.2,523.5 L246.3,525.7 L247.3,528.0 L248.4,530.4 L249.4,532.9 L250.5,535.5 L251.5,538.3 L252.6,541.3 L253.8,544.5 L254.9,548.0 L256.0,551.8 L257.2,556.0 L258.3,560.6 L259.4,565.8 L260.5,571.5 L261.6,577.9 L262.8,584.9 L263.9,592.4 L265.0,600.6 L266.0,609.4 L267.0,618.9 L268.0,628.6 L269.0,638.8 L270.0,650.0" stroke="#33d6e6" stroke-width="2.0"/>
<path d="M269.5,683.7 L270.5,671.2 L271.5,660.4 L272.5,650.9 L273.7,641.7 L274.8,633.4 L276.0,626.2 L277.1,619.9 L278.2,614.5 L279.4,609.8 L280.5,605.7 L281.6,602.0 L282.7,598.8 L283.8,595.9 L284.8,593.2 L285.9,590.6 L287.0,588.1 L288.0,585.7 L289.0,583.3 L290.0,581.0 L291.0,578.8 L292.0,576.5 L293.0,574.2 L294.0,572.0 L295.0,569.6 L296.0,567.3 L297.0,564.9 L298.0,562.6 L299.0,560.3 L300.0,558.2 L301.0,556.1 L302.1,554.1 L303.1,552.3 L304.2,550.5 L305.2,548.8 L306.3,547.1 L307.3,545.4 L308.4,543.6 L309.4,541.8 L310.5,539.8 L311.6,537.7 L312.6,535.5 L313.7,533.2 L314.8,530.9 L315.8,528.6 L316.9,526.3 L317.9,524.2 L319.0,522.2 L320.1,520.4 L321.1,518.7 L322.1,517.2 L323.2,515.7 L324.2,514.3 L325.3,512.8 L326.4,511.3 L327.4,509.7 L328.4,508.0 L329.5,506.0 L330.6,503.7 L331.6,501.3 L332.7,498.6 L333.8,495.9 L334.9,493.2 L335.9,490.6 L337.0,488.3 L338.0,486.2 L339.1,484.3 L340.1,482.5 L341.1,480.7 L342.2,479.1 L343.2,477.4 L344.2,475.8 L345.3,474.2 L346.3,472.5 L347.4,470.8 L348.5,469.0 L349.6,467.3 L350.7,465.6 L351.8,464.0 L352.9,462.6 L354.0,461.2 L355.0,460.0 L356.0,458.9 L357.1,457.9 L358.1,456.9 L359.1,456.0 L360.1,455.2 L361.2,454.3 L362.2,453.4 L363.2,452.4 L364.3,451.5 L365.3,450.5 L366.4,449.5 L367.5,448.5 L368.6,447.5 L369.6,446.6 L370.7,445.6 L371.8,444.7 L372.9,443.7 L373.9,442.9 L375.0,442.0 L376.0,441.2 L377.1,440.5 L378.1,439.7 L379.1,439.0 L380.2,438.3 L381.2,437.6 L382.2,437.0 L383.2,436.3 L384.3,435.6 L385.3,435.0 L386.3,434.3 L387.4,433.7 L388.4,433.0 L389.4,432.3 L390.5,431.7 L391.5,431.0 L392.6,430.3 L393.6,429.6 L394.7,429.0 L395.7,428.3 L396.7,427.7 L397.8,427.0 L398.8,426.4 L399.9,425.8 L400.9,425.2 L402.0,424.6 L403.0,424.0 L404.1,423.4 L405.1,422.9 L406.2,422.3 L407.3,421.8 L408.3,421.3 L409.4,420.8 L410.4,420.3 L411.5,419.8 L412.6,419.3 L413.6,418.8 L414.7,418.3 L415.8,417.9 L416.8,417.4 L417.9,417.0 L418.9,416.6 L419.9,416.2 L420.9,415.8 L421.9,415.5 L422.9,415.1 L423.9,414.7 L424.9,414.4 L425.9,414.0 L427.0,413.7 L428.0,413.4 L429.0,413.0 L430.0,412.7 L431.0,412.4 L432.0,412.0 L433.0,411.7 L434.0,411.3 L435.0,411.0 L436.0,410.6 L437.1,410.3 L438.1,409.9 L439.1,409.6 L440.2,409.3 L441.2,408.9 L442.3,408.6 L443.3,408.2 L444.3,407.9 L445.4,407.5 L446.4,407.2 L447.5,406.9 L448.5,406.5 L449.5,406.2 L450.6,405.8 L451.6,405.5" stroke="#33d6e6" stroke-width="1.8" transform="translate(3.3,0.8)"/>
<polygon points="72.7,464.2 76.7,469.7 72.7,475.2 68.7,469.7" fill="none" stroke="#33d6e6" stroke-width="1.3"/><polygon points="80.3,464.2 84.3,469.7 80.3,475.2 76.3,469.7" fill="none" stroke="#33d6e6" stroke-width="1.3"/><polygon points="87.9,464.2 91.9,469.7 87.9,475.2 83.9,469.7" fill="none" stroke="#33d6e6" stroke-width="1.3"/><polygon points="95.5,464.2 99.5,469.7 95.5,475.2 91.5,469.7" fill="none" stroke="#33d6e6" stroke-width="1.3"/><polygon points="103.1,464.2 107.1,469.7 103.1,475.2 99.1,469.7" fill="none" stroke="#33d6e6" stroke-width="1.3"/><polygon points="110.7,464.2 114.7,469.7 110.7,475.2 106.7,469.7" fill="none" stroke="#33d6e6" stroke-width="1.3"/><polygon points="118.3,464.2 122.3,469.7 118.3,475.2 114.3,469.7" fill="none" stroke="#33d6e6" stroke-width="1.3"/><polygon points="125.9,464.2 129.9,469.7 125.9,475.2 121.9,469.7" fill="none" stroke="#33d6e6" stroke-width="1.3"/><polygon points="133.5,464.2 137.5,469.7 133.5,475.2 129.5,469.7" fill="none" stroke="#33d6e6" stroke-width="1.3"/><polygon points="141.1,464.2 145.1,469.7 141.1,475.2 137.1,469.7" fill="none" stroke="#33d6e6" stroke-width="1.3"/><polygon points="148.7,464.2 152.7,469.7 148.7,475.2 144.7,469.7" fill="none" stroke="#33d6e6" stroke-width="1.3"/><polygon points="156.3,464.2 160.3,469.7 156.3,475.2 152.3,469.7" fill="none" stroke="#33d6e6" stroke-width="1.3"/><polygon points="163.9,464.2 167.9,469.7 163.9,475.2 159.9,469.7" fill="none" stroke="#33d6e6" stroke-width="1.3"/><polygon points="171.4,464.2 175.4,469.7 171.4,475.2 167.4,469.7" fill="none" stroke="#33d6e6" stroke-width="1.3"/><polygon points="179.0,464.2 183.0,469.7 179.0,475.2 175.0,469.7" fill="none" stroke="#33d6e6" stroke-width="1.3"/><polygon points="186.6,464.2 190.6,469.7 186.6,475.2 182.6,469.7" fill="none" stroke="#33d6e6" stroke-width="1.3"/><polygon points="194.2,465.2 198.2,470.7 194.2,476.2 190.2,470.7" fill="none" stroke="#33d6e6" stroke-width="1.3"/><polygon points="201.8,467.7 205.8,473.2 201.8,478.7 197.8,473.2" fill="none" stroke="#33d6e6" stroke-width="1.3"/><polygon points="209.4,471.8 213.4,477.3 209.4,482.8 205.4,477.3" fill="none" stroke="#33d6e6" stroke-width="1.3"/><polygon points="217.0,478.6 221.0,484.1 217.0,489.6 213.0,484.1" fill="none" stroke="#33d6e6" stroke-width="1.3"/><polygon points="224.6,486.5 228.6,492.0 224.6,497.5 220.6,492.0" fill="none" stroke="#33d6e6" stroke-width="1.3"/><polygon points="232.2,496.1 236.2,501.6 232.2,507.1 228.2,501.6" fill="none" stroke="#33d6e6" stroke-width="1.3"/><polygon points="239.8,507.8 243.8,513.3 239.8,518.8 235.8,513.3" fill="none" stroke="#33d6e6" stroke-width="1.3"/><polygon points="247.4,522.7 251.4,528.2 247.4,533.7 243.4,528.2" fill="none" stroke="#33d6e6" stroke-width="1.3"/><polygon points="255.0,542.8 259.0,548.3 255.0,553.8 251.0,548.3" fill="none" stroke="#33d6e6" stroke-width="1.3"/><polygon points="262.6,578.2 266.6,583.7 262.6,589.2 258.6,583.7" fill="none" stroke="#33d6e6" stroke-width="1.3"/><polygon points="281.9,608.2 285.9,613.7 281.9,619.2 277.9,613.7" fill="none" stroke="#33d6e6" stroke-width="1.3"/><polygon points="289.5,585.2 293.5,590.7 289.5,596.2 285.5,590.7" fill="none" stroke="#33d6e6" stroke-width="1.3"/><polygon points="297.1,567.7 301.1,573.2 297.1,578.7 293.1,573.2" fill="none" stroke="#33d6e6" stroke-width="1.3"/><polygon points="304.7,550.7 308.7,556.2 304.7,561.7 300.7,556.2" fill="none" stroke="#33d6e6" stroke-width="1.3"/><polygon points="312.3,537.8 316.3,543.3 312.3,548.8 308.3,543.3" fill="none" stroke="#33d6e6" stroke-width="1.3"/><polygon points="319.9,522.3 323.9,527.8 319.9,533.3 315.9,527.8" fill="none" stroke="#33d6e6" stroke-width="1.3"/><polygon points="327.5,509.6 331.5,515.1 327.5,520.6 323.5,515.1" fill="none" stroke="#33d6e6" stroke-width="1.3"/><polygon points="335.1,496.1 339.1,501.6 335.1,507.1 331.1,501.6" fill="none" stroke="#33d6e6" stroke-width="1.3"/><polygon points="342.7,479.1 346.7,484.6 342.7,490.1 338.7,484.6" fill="none" stroke="#33d6e6" stroke-width="1.3"/><polygon points="350.3,466.7 354.3,472.2 350.3,477.7 346.3,472.2" fill="none" stroke="#33d6e6" stroke-width="1.3"/><polygon points="357.9,455.8 361.9,461.3 357.9,466.8 353.9,461.3" fill="none" stroke="#33d6e6" stroke-width="1.3"/><polygon points="365.5,448.7 369.5,454.2 365.5,459.7 361.5,454.2" fill="none" stroke="#33d6e6" stroke-width="1.3"/><polygon points="373.1,441.7 377.1,447.2 373.1,452.7 369.1,447.2" fill="none" stroke="#33d6e6" stroke-width="1.3"/><polygon points="380.7,435.6 384.7,441.1 380.7,446.6 376.7,441.1" fill="none" stroke="#33d6e6" stroke-width="1.3"/><polygon points="388.3,430.5 392.3,436.0 388.3,441.5 384.3,436.0" fill="none" stroke="#33d6e6" stroke-width="1.3"/><polygon points="395.9,425.7 399.9,431.2 395.9,436.7 391.9,431.2" fill="none" stroke="#33d6e6" stroke-width="1.3"/><polygon points="403.5,421.0 407.5,426.5 403.5,432.0 399.5,426.5" fill="none" stroke="#33d6e6" stroke-width="1.3"/><polygon points="411.1,416.9 415.1,422.4 411.1,427.9 407.1,422.4" fill="none" stroke="#33d6e6" stroke-width="1.3"/><polygon points="418.7,413.4 422.7,418.9 418.7,424.4 414.7,418.9" fill="none" stroke="#33d6e6" stroke-width="1.3"/><polygon points="426.3,410.4 430.3,415.9 426.3,421.4 422.3,415.9" fill="none" stroke="#33d6e6" stroke-width="1.3"/><polygon points="433.8,407.8 437.8,413.3 433.8,418.8 429.8,413.3" fill="none" stroke="#33d6e6" stroke-width="1.3"/><polygon points="441.4,405.2 445.4,410.7 441.4,416.2 437.4,410.7" fill="none" stroke="#33d6e6" stroke-width="1.3"/><polygon points="449.0,402.7 453.0,408.2 449.0,413.7 445.0,408.2" fill="none" stroke="#33d6e6" stroke-width="1.3"/>
<path d="M72.7,456.9 L73.7,456.9 L74.7,456.9 L75.7,456.9 L76.7,456.9 L77.7,456.9 L78.7,456.9 L79.7,456.9 L80.7,456.9 L81.7,456.9 L82.8,456.9 L83.8,456.9 L84.8,456.9 L85.8,456.9 L86.8,456.9 L87.8,456.9 L88.8,456.9 L89.8,456.9 L90.8,456.9 L91.8,456.9 L92.8,456.9 L93.8,456.9 L94.8,456.9 L95.8,456.9 L96.8,456.9 L97.8,456.9 L98.8,456.9 L99.8,456.9 L100.8,456.9 L101.9,456.9 L102.9,456.9 L103.9,456.9 L104.9,456.9 L105.9,456.9 L106.9,456.9 L107.9,456.9 L108.9,457.0 L109.9,457.0 L110.9,457.0 L111.9,457.0 L112.9,457.0 L113.9,457.0 L114.9,457.0 L115.9,457.0 L116.9,457.0 L117.9,457.0 L118.9,457.0 L119.9,457.0 L121.0,457.0 L122.0,457.0 L123.0,457.0 L124.0,457.0 L125.0,457.0 L126.0,457.0 L127.0,457.0 L128.0,457.0 L129.0,457.0 L130.0,457.0 L131.0,457.0 L132.0,457.0 L133.0,457.0 L134.1,457.0 L135.1,457.0 L136.1,457.0 L137.1,457.0 L138.1,457.0 L139.1,457.0 L140.2,457.0 L141.2,457.1 L142.2,457.1 L143.2,457.1 L144.2,457.1 L145.2,457.1 L146.3,457.1 L147.3,457.1 L148.3,457.1 L149.3,457.1 L150.3,457.1 L151.3,457.1 L152.4,457.2 L153.4,457.2 L154.4,457.2 L155.4,457.2 L156.4,457.2 L157.4,457.2 L158.5,457.2 L159.5,457.3 L160.5,457.3 L161.5,457.3 L162.5,457.3 L163.5,457.3 L164.6,457.4 L165.6,457.4 L166.6,457.4 L167.6,457.4 L168.6,457.5 L169.6,457.5 L170.7,457.5 L171.7,457.5 L172.7,457.6 L173.7,457.6 L174.7,457.6 L175.7,457.7 L176.8,457.7 L177.8,457.7 L178.8,457.8 L179.8,457.9 L180.8,458.0 L181.8,458.2 L182.9,458.5 L183.9,458.9 L184.9,459.4 L185.9,460.0 L186.9,460.6 L187.9,461.3 L188.9,462.1 L190.0,462.9 L191.0,463.7 L192.0,464.6 L193.0,465.5 L194.0,466.4 L195.1,467.3 L196.1,468.2 L197.1,469.1 L198.1,470.0 L199.2,471.0 L200.2,471.9 L201.2,472.9 L202.3,474.0 L203.3,475.1 L204.4,476.2 L205.4,477.4 L206.5,478.7 L207.6,479.9 L208.6,481.3 L209.7,482.6 L210.7,484.1 L211.8,485.5 L212.8,487.1 L213.8,488.6 L214.8,490.3 L215.8,492.1 L216.9,493.9 L217.9,495.9 L218.9,497.9 L219.9,499.9 L220.9,502.1 L221.9,504.2 L222.9,506.4 L223.9,508.7 L224.9,510.9 L226.0,513.2 L227.0,515.5 L228.0,517.7 L229.0,520.0 L230.0,522.3 L231.1,524.6 L232.1,526.9 L233.1,529.2 L234.2,531.5 L235.2,533.9 L236.2,536.2 L237.2,538.7 L238.3,541.1 L239.3,543.7 L240.3,546.2 L241.4,548.9 L242.4,551.6 L243.4,554.3 L244.5,557.2 L245.5,560.2 L246.6,563.2 L247.6,566.4 L248.7,569.7 L249.7,573.2 L250.8,576.7 L251.8,580.4 L252.8,584.1 L253.9,588.0 L254.9,592.0 L256.0,596.1 L257.0,600.3 L258.0,604.7 L259.0,609.2 L260.0,613.9 L261.0,618.6 L262.0,623.3 L263.0,627.9 L264.0,632.6 L265.0,637.1 L266.0,641.7 L267.0,646.2 L268.0,650.7 L269.0,655.1 L270.0,660.0" stroke="#66e23a" stroke-width="2.0"/>
<path d="M269.5,683.7 L270.5,671.2 L271.5,660.4 L272.5,650.9 L273.7,641.7 L274.8,633.4 L276.0,626.2 L277.1,619.9 L278.2,614.5 L279.4,609.8 L280.5,605.7 L281.6,602.0 L282.7,598.8 L283.8,595.9 L284.8,593.2 L285.9,590.6 L287.0,588.1 L288.0,585.7 L289.0,583.3 L290.0,581.0 L291.0,578.8 L292.0,576.5 L293.0,574.2 L294.0,572.0 L295.0,569.6 L296.0,567.3 L297.0,564.9 L298.0,562.6 L299.0,560.3 L300.0,558.2 L301.0,556.1 L302.1,554.1 L303.1,552.3 L304.2,550.5 L305.2,548.8 L306.3,547.1 L307.3,545.4 L308.4,543.6 L309.4,541.8 L310.5,539.8 L311.6,537.7 L312.6,535.5 L313.7,533.2 L314.8,530.9 L315.8,528.6 L316.9,526.3 L317.9,524.2 L319.0,522.2 L320.1,520.4 L321.1,518.7 L322.1,517.2 L323.2,515.7 L324.2,514.3 L325.3,512.8 L326.4,511.3 L327.4,509.7 L328.4,508.0 L329.5,506.0 L330.6,503.7 L331.6,501.3 L332.7,498.6 L333.8,495.9 L334.9,493.2 L335.9,490.6 L337.0,488.3 L338.0,486.2 L339.1,484.3 L340.1,482.5 L341.1,480.7 L342.2,479.1 L343.2,477.4 L344.2,475.8 L345.3,474.2 L346.3,472.5 L347.4,470.8 L348.5,469.0 L349.6,467.3 L350.7,465.6 L351.8,464.0 L352.9,462.6 L354.0,461.2 L355.0,460.0 L356.0,458.9 L357.1,457.9 L358.1,456.9 L359.1,456.0 L360.1,455.2 L361.2,454.3 L362.2,453.4 L363.2,452.4 L364.3,451.5 L365.3,450.5 L366.4,449.5 L367.5,448.5 L368.6,447.5 L369.6,446.6 L370.7,445.6 L371.8,444.7 L372.9,443.7 L373.9,442.9 L375.0,442.0 L376.0,441.2 L377.1,440.5 L378.1,439.7 L379.1,439.0 L380.2,438.3 L381.2,437.6 L382.2,437.0 L383.2,436.3 L384.3,435.6 L385.3,435.0 L386.3,434.3 L387.4,433.7 L388.4,433.0 L389.4,432.3 L390.5,431.7 L391.5,431.0 L392.6,430.3 L393.6,429.6 L394.7,429.0 L395.7,428.3 L396.7,427.7 L397.8,427.0 L398.8,426.4 L399.9,425.8 L400.9,425.2 L402.0,424.6 L403.0,424.0 L404.1,423.4 L405.1,422.9 L406.2,422.3 L407.3,421.8 L408.3,421.3 L409.4,420.8 L410.4,420.3 L411.5,419.8 L412.6,419.3 L413.6,418.8 L414.7,418.3 L415.8,417.9 L416.8,417.4 L417.9,417.0 L418.9,416.6 L419.9,416.2 L420.9,415.8 L421.9,415.5 L422.9,415.1 L423.9,414.7 L424.9,414.4 L425.9,414.0 L427.0,413.7 L428.0,413.4 L429.0,413.0 L430.0,412.7 L431.0,412.4 L432.0,412.0 L433.0,411.7 L434.0,411.3 L435.0,411.0 L436.0,410.6 L437.1,410.3 L438.1,409.9 L439.1,409.6 L440.2,409.3 L441.2,408.9 L442.3,408.6 L443.3,408.2 L444.3,407.9 L445.4,407.5 L446.4,407.2 L447.5,406.9 L448.5,406.5 L449.5,406.2 L450.6,405.8 L451.6,405.5" stroke="#66e23a" stroke-width="1.8" transform="translate(2.6,0.7)"/>
<polygon points="68.2,456.9 76.7,451.4 76.7,462.4" fill="none" stroke="#66e23a" stroke-width="1.3"/><polygon points="75.8,456.9 84.3,451.4 84.3,462.4" fill="none" stroke="#66e23a" stroke-width="1.3"/><polygon points="83.4,456.9 91.9,451.4 91.9,462.4" fill="none" stroke="#66e23a" stroke-width="1.3"/><polygon points="91.0,456.9 99.5,451.4 99.5,462.4" fill="none" stroke="#66e23a" stroke-width="1.3"/><polygon points="98.6,456.9 107.1,451.4 107.1,462.4" fill="none" stroke="#66e23a" stroke-width="1.3"/><polygon points="106.2,457.0 114.7,451.5 114.7,462.5" fill="none" stroke="#66e23a" stroke-width="1.3"/><polygon points="113.8,457.0 122.3,451.5 122.3,462.5" fill="none" stroke="#66e23a" stroke-width="1.3"/><polygon points="121.4,457.0 129.9,451.5 129.9,462.5" fill="none" stroke="#66e23a" stroke-width="1.3"/><polygon points="129.0,457.0 137.5,451.5 137.5,462.5" fill="none" stroke="#66e23a" stroke-width="1.3"/><polygon points="136.6,457.1 145.1,451.6 145.1,462.6" fill="none" stroke="#66e23a" stroke-width="1.3"/><polygon points="144.2,457.1 152.7,451.6 152.7,462.6" fill="none" stroke="#66e23a" stroke-width="1.3"/><polygon points="151.8,457.2 160.3,451.7 160.3,462.7" fill="none" stroke="#66e23a" stroke-width="1.3"/><polygon points="159.4,457.3 167.9,451.8 167.9,462.8" fill="none" stroke="#66e23a" stroke-width="1.3"/><polygon points="166.9,457.5 175.4,452.0 175.4,463.0" fill="none" stroke="#66e23a" stroke-width="1.3"/><polygon points="174.5,457.8 183.0,452.3 183.0,463.3" fill="none" stroke="#66e23a" stroke-width="1.3"/><polygon points="182.1,460.5 190.6,455.0 190.6,466.0" fill="none" stroke="#66e23a" stroke-width="1.3"/><polygon points="189.7,466.6 198.2,461.1 198.2,472.1" fill="none" stroke="#66e23a" stroke-width="1.3"/><polygon points="197.3,473.5 205.8,468.0 205.8,479.0" fill="none" stroke="#66e23a" stroke-width="1.3"/><polygon points="204.9,482.3 213.4,476.8 213.4,487.8" fill="none" stroke="#66e23a" stroke-width="1.3"/><polygon points="212.5,494.2 221.0,488.7 221.0,499.7" fill="none" stroke="#66e23a" stroke-width="1.3"/><polygon points="220.1,510.3 228.6,504.8 228.6,515.8" fill="none" stroke="#66e23a" stroke-width="1.3"/><polygon points="227.7,527.2 236.2,521.7 236.2,532.7" fill="none" stroke="#66e23a" stroke-width="1.3"/><polygon points="235.3,545.0 243.8,539.5 243.8,550.5" fill="none" stroke="#66e23a" stroke-width="1.3"/><polygon points="242.9,565.8 251.4,560.3 251.4,571.3" fill="none" stroke="#66e23a" stroke-width="1.3"/><polygon points="250.5,592.4 259.0,586.9 259.0,597.9" fill="none" stroke="#66e23a" stroke-width="1.3"/><polygon points="258.1,626.1 266.6,620.6 266.6,631.6" fill="none" stroke="#66e23a" stroke-width="1.3"/><polygon points="272.0,641.2 280.5,635.7 280.5,646.7" fill="none" stroke="#66e23a" stroke-width="1.3"/><polygon points="279.6,603.2 288.1,597.7 288.1,608.7" fill="none" stroke="#66e23a" stroke-width="1.3"/><polygon points="287.2,583.9 295.7,578.4 295.7,589.4" fill="none" stroke="#66e23a" stroke-width="1.3"/><polygon points="294.8,566.5 303.3,561.0 303.3,572.0" fill="none" stroke="#66e23a" stroke-width="1.3"/><polygon points="302.4,551.1 310.9,545.6 310.9,556.6" fill="none" stroke="#66e23a" stroke-width="1.3"/><polygon points="310.0,537.9 318.5,532.4 318.5,543.4" fill="none" stroke="#66e23a" stroke-width="1.3"/><polygon points="317.6,522.2 326.1,516.7 326.1,527.7" fill="none" stroke="#66e23a" stroke-width="1.3"/><polygon points="325.2,511.0 333.7,505.5 333.7,516.5" fill="none" stroke="#66e23a" stroke-width="1.3"/><polygon points="332.8,494.5 341.3,489.0 341.3,500.0" fill="none" stroke="#66e23a" stroke-width="1.3"/><polygon points="340.4,479.7 348.9,474.2 348.9,485.2" fill="none" stroke="#66e23a" stroke-width="1.3"/><polygon points="348.0,467.7 356.5,462.2 356.5,473.2" fill="none" stroke="#66e23a" stroke-width="1.3"/><polygon points="355.5,458.3 364.0,452.8 364.0,463.8" fill="none" stroke="#66e23a" stroke-width="1.3"/><polygon points="363.1,451.5 371.6,446.0 371.6,457.0" fill="none" stroke="#66e23a" stroke-width="1.3"/><polygon points="370.7,444.7 379.2,439.2 379.2,450.2" fill="none" stroke="#66e23a" stroke-width="1.3"/><polygon points="378.3,439.0 386.8,433.5 386.8,444.5" fill="none" stroke="#66e23a" stroke-width="1.3"/><polygon points="385.9,434.1 394.4,428.6 394.4,439.6" fill="none" stroke="#66e23a" stroke-width="1.3"/><polygon points="393.5,429.2 402.0,423.7 402.0,434.7" fill="none" stroke="#66e23a" stroke-width="1.3"/><polygon points="401.1,424.7 409.6,419.2 409.6,430.2" fill="none" stroke="#66e23a" stroke-width="1.3"/><polygon points="408.7,420.9 417.2,415.4 417.2,426.4" fill="none" stroke="#66e23a" stroke-width="1.3"/><polygon points="416.3,417.6 424.8,412.1 424.8,423.1" fill="none" stroke="#66e23a" stroke-width="1.3"/><polygon points="423.9,414.7 432.4,409.2 432.4,420.2" fill="none" stroke="#66e23a" stroke-width="1.3"/><polygon points="431.5,412.2 440.0,406.7 440.0,417.7" fill="none" stroke="#66e23a" stroke-width="1.3"/><polygon points="439.1,409.7 447.6,404.2 447.6,415.2" fill="none" stroke="#66e23a" stroke-width="1.3"/>
<path d="M72.7,442.2 L73.7,442.2 L74.7,442.2 L75.7,442.2 L76.7,442.2 L77.7,442.2 L78.7,442.2 L79.7,442.2 L80.8,442.2 L81.8,442.2 L82.8,442.2 L83.8,442.2 L84.8,442.2 L85.8,442.2 L86.8,442.2 L87.8,442.2 L88.8,442.2 L89.8,442.2 L90.8,442.2 L91.8,442.2 L92.8,442.2 L93.8,442.2 L94.8,442.2 L95.8,442.2 L96.9,442.2 L97.9,442.2 L98.9,442.2 L99.9,442.2 L100.9,442.2 L101.9,442.2 L102.9,442.2 L103.9,442.2 L104.9,442.2 L105.9,442.2 L106.9,442.2 L107.9,442.2 L108.9,442.2 L109.9,442.2 L110.9,442.2 L111.9,442.2 L113.0,442.2 L114.0,442.2 L115.0,442.2 L116.0,442.2 L117.0,442.2 L118.0,442.2 L119.0,442.2 L120.0,442.2 L121.0,442.2 L122.0,442.2 L123.0,442.2 L124.0,442.2 L125.1,442.2 L126.1,442.2 L127.1,442.2 L128.1,442.2 L129.1,442.2 L130.1,442.2 L131.1,442.2 L132.1,442.2 L133.2,442.2 L134.2,442.2 L135.2,442.2 L136.2,442.2 L137.2,442.2 L138.2,442.2 L139.2,442.2 L140.2,442.2 L141.3,442.2 L142.3,442.2 L143.3,442.2 L144.3,442.2 L145.3,442.2 L146.3,442.2 L147.3,442.2 L148.3,442.2 L149.4,442.2 L150.4,442.2 L151.4,442.2 L152.4,442.2 L153.4,442.2 L154.4,442.2 L155.4,442.2 L156.4,442.2 L157.5,442.2 L158.5,442.2 L159.5,442.2 L160.5,442.2 L161.5,442.2 L162.5,442.3 L163.5,442.3 L164.6,442.5 L165.6,442.6 L166.6,442.8 L167.6,443.1 L168.6,443.3 L169.6,443.6 L170.7,444.0 L171.7,444.3 L172.7,444.7 L173.7,445.1 L174.7,445.5 L175.7,445.9 L176.8,446.4 L177.8,446.8 L178.8,447.3 L179.8,447.7 L180.8,448.2 L181.8,448.8 L182.9,449.4 L183.9,450.0 L184.9,450.7 L185.9,451.4 L186.9,452.2 L187.9,453.0 L188.9,453.9 L190.0,454.7 L191.0,455.6 L192.0,456.6 L193.0,457.5 L194.0,458.5 L195.1,459.4 L196.1,460.4 L197.1,461.4 L198.1,462.4 L199.2,463.4 L200.2,464.5 L201.2,465.6 L202.3,466.7 L203.3,467.8 L204.4,469.0 L205.4,470.2 L206.5,471.4 L207.6,472.7 L208.6,474.1 L209.7,475.5 L210.7,476.9 L211.8,478.5 L212.8,480.1 L213.8,481.7 L214.8,483.5 L215.8,485.3 L216.8,487.3 L217.9,489.4 L218.9,491.5 L219.9,493.7 L220.9,496.0 L221.9,498.4 L222.9,500.8 L223.9,503.2 L224.9,505.6 L226.0,508.1 L227.0,510.6 L228.0,513.1 L229.0,515.5 L230.0,518.0 L231.0,520.4 L232.0,522.8 L233.0,525.3 L234.0,527.7 L235.0,530.2 L236.0,532.7 L237.0,535.3 L238.0,537.8 L239.0,540.5 L240.0,543.1 L241.0,545.8 L242.0,548.6 L243.0,551.3 L244.0,554.2 L245.0,557.1 L246.0,560.1 L247.0,563.1 L248.0,566.2 L249.0,569.4 L250.0,572.7 L251.0,576.0 L252.0,579.4 L253.0,582.9 L254.0,586.6 L255.0,590.3 L256.0,594.1 L257.0,598.1 L258.0,602.2 L259.0,606.5 L260.0,610.9 L261.0,615.5 L262.0,620.4 L263.0,625.6 L264.1,631.2 L265.1,637.2 L266.2,643.5 L267.3,650.0 L268.4,656.5 L269.4,663.0 L270.5,670.0" stroke="#f2b62a" stroke-width="2.0"/>
<path d="M269.5,683.7 L270.5,671.2 L271.5,660.4 L272.5,650.9 L273.7,641.7 L274.8,633.4 L276.0,626.2 L277.1,619.9 L278.2,614.5 L279.4,609.8 L280.5,605.7 L281.6,602.0 L282.7,598.8 L283.8,595.9 L284.8,593.2 L285.9,590.6 L287.0,588.1 L288.0,585.7 L289.0,583.3 L290.0,581.0 L291.0,578.8 L292.0,576.5 L293.0,574.2 L294.0,572.0 L295.0,569.6 L296.0,567.3 L297.0,564.9 L298.0,562.6 L299.0,560.3 L300.0,558.2 L301.0,556.1 L302.1,554.1 L303.1,552.3 L304.2,550.5 L305.2,548.8 L306.3,547.1 L307.3,545.4 L308.4,543.6 L309.4,541.8 L310.5,539.8 L311.6,537.7 L312.6,535.5 L313.7,533.2 L314.8,530.9 L315.8,528.6 L316.9,526.3 L317.9,524.2 L319.0,522.2 L320.1,520.4 L321.1,518.7 L322.1,517.2 L323.2,515.7 L324.2,514.3 L325.3,512.8 L326.4,511.3 L327.4,509.7 L328.4,508.0 L329.5,506.0 L330.6,503.7 L331.6,501.3 L332.7,498.6 L333.8,495.9 L334.9,493.2 L335.9,490.6 L337.0,488.3 L338.0,486.2 L339.1,484.3 L340.1,482.5 L341.1,480.7 L342.2,479.1 L343.2,477.4 L344.2,475.8 L345.3,474.2 L346.3,472.5 L347.4,470.8 L348.5,469.0 L349.6,467.3 L350.7,465.6 L351.8,464.0 L352.9,462.6 L354.0,461.2 L355.0,460.0 L356.0,458.9 L357.1,457.9 L358.1,456.9 L359.1,456.0 L360.1,455.2 L361.2,454.3 L362.2,453.4 L363.2,452.4 L364.3,451.5 L365.3,450.5 L366.4,449.5 L367.5,448.5 L368.6,447.5 L369.6,446.6 L370.7,445.6 L371.8,444.7 L372.9,443.7 L373.9,442.9 L375.0,442.0 L376.0,441.2 L377.1,440.5 L378.1,439.7 L379.1,439.0 L380.2,438.3 L381.2,437.6 L382.2,437.0 L383.2,436.3 L384.3,435.6 L385.3,435.0 L386.3,434.3 L387.4,433.7 L388.4,433.0 L389.4,432.3 L390.5,431.7 L391.5,431.0 L392.6,430.3 L393.6,429.6 L394.7,429.0 L395.7,428.3 L396.7,427.7 L397.8,427.0 L398.8,426.4 L399.9,425.8 L400.9,425.2 L402.0,424.6 L403.0,424.0 L404.1,423.4 L405.1,422.9 L406.2,422.3 L407.3,421.8 L408.3,421.3 L409.4,420.8 L410.4,420.3 L411.5,419.8 L412.6,419.3 L413.6,418.8 L414.7,418.3 L415.8,417.9 L416.8,417.4 L417.9,417.0 L418.9,416.6 L419.9,416.2 L420.9,415.8 L421.9,415.5 L422.9,415.1 L423.9,414.7 L424.9,414.4 L425.9,414.0 L427.0,413.7 L428.0,413.4 L429.0,413.0 L430.0,412.7 L431.0,412.4 L432.0,412.0 L433.0,411.7 L434.0,411.3 L435.0,411.0 L436.0,410.6 L437.1,410.3 L438.1,409.9 L439.1,409.6 L440.2,409.3 L441.2,408.9 L442.3,408.6 L443.3,408.2 L444.3,407.9 L445.4,407.5 L446.4,407.2 L447.5,406.9 L448.5,406.5 L449.5,406.2 L450.6,405.8 L451.6,405.5" stroke="#f2b62a" stroke-width="1.8" transform="translate(2.0,0.5)"/>
<polygon points="72.7,437.0 71.3,440.3 67.8,440.6 70.5,442.9 69.6,446.4 72.7,444.5 75.8,446.4 74.9,442.9 77.6,440.6 74.1,440.3" fill="none" stroke="#f2b62a" stroke-width="1.3"/><polygon points="80.3,437.0 78.9,440.3 75.4,440.6 78.1,442.9 77.2,446.4 80.3,444.5 83.4,446.4 82.5,442.9 85.2,440.6 81.6,440.3" fill="none" stroke="#f2b62a" stroke-width="1.3"/><polygon points="87.9,437.0 86.5,440.3 82.9,440.6 85.7,442.9 84.8,446.4 87.9,444.5 90.9,446.4 90.1,442.9 92.8,440.6 89.2,440.3" fill="none" stroke="#f2b62a" stroke-width="1.3"/><polygon points="95.5,437.0 94.1,440.3 90.5,440.6 93.3,442.9 92.4,446.4 95.5,444.5 98.5,446.4 97.7,442.9 100.4,440.6 96.8,440.3" fill="none" stroke="#f2b62a" stroke-width="1.3"/><polygon points="103.1,437.0 101.7,440.3 98.1,440.6 100.9,442.9 100.0,446.4 103.1,444.5 106.1,446.4 105.3,442.9 108.0,440.6 104.4,440.3" fill="none" stroke="#f2b62a" stroke-width="1.3"/><polygon points="110.7,437.0 109.3,440.3 105.7,440.6 108.5,442.9 107.6,446.4 110.7,444.5 113.7,446.4 112.9,442.9 115.6,440.6 112.0,440.3" fill="none" stroke="#f2b62a" stroke-width="1.3"/><polygon points="118.3,437.0 116.9,440.3 113.3,440.6 116.1,442.9 115.2,446.4 118.3,444.5 121.3,446.4 120.5,442.9 123.2,440.6 119.6,440.3" fill="none" stroke="#f2b62a" stroke-width="1.3"/><polygon points="125.9,437.0 124.5,440.3 120.9,440.6 123.7,442.9 122.8,446.4 125.9,444.5 128.9,446.4 128.1,442.9 130.8,440.6 127.2,440.3" fill="none" stroke="#f2b62a" stroke-width="1.3"/><polygon points="133.5,437.0 132.1,440.3 128.5,440.6 131.3,442.9 130.4,446.4 133.5,444.5 136.5,446.4 135.7,442.9 138.4,440.6 134.8,440.3" fill="none" stroke="#f2b62a" stroke-width="1.3"/><polygon points="141.1,437.0 139.7,440.3 136.1,440.6 138.9,442.9 138.0,446.4 141.1,444.5 144.1,446.4 143.3,442.9 146.0,440.6 142.4,440.3" fill="none" stroke="#f2b62a" stroke-width="1.3"/><polygon points="148.7,437.0 147.3,440.3 143.7,440.6 146.5,442.9 145.6,446.4 148.7,444.5 151.7,446.4 150.8,442.9 153.6,440.6 150.0,440.3" fill="none" stroke="#f2b62a" stroke-width="1.3"/><polygon points="156.3,437.0 154.9,440.3 151.3,440.6 154.1,442.9 153.2,446.4 156.3,444.5 159.3,446.4 158.4,442.9 161.2,440.6 157.6,440.3" fill="none" stroke="#f2b62a" stroke-width="1.3"/><polygon points="163.9,437.2 162.5,440.5 158.9,440.8 161.7,443.1 160.8,446.6 163.9,444.7 166.9,446.6 166.0,443.1 168.8,440.8 165.2,440.5" fill="none" stroke="#f2b62a" stroke-width="1.3"/><polygon points="171.4,439.0 170.1,442.4 166.5,442.6 169.3,444.9 168.4,448.4 171.4,446.5 174.5,448.4 173.6,444.9 176.4,442.6 172.8,442.4" fill="none" stroke="#f2b62a" stroke-width="1.3"/><polygon points="179.0,442.2 177.7,445.5 174.1,445.8 176.9,448.1 176.0,451.6 179.0,449.7 182.1,451.6 181.2,448.1 184.0,445.8 180.4,445.5" fill="none" stroke="#f2b62a" stroke-width="1.3"/><polygon points="186.6,446.8 185.3,450.2 181.7,450.4 184.5,452.7 183.6,456.2 186.6,454.3 189.7,456.2 188.8,452.7 191.6,450.4 188.0,450.2" fill="none" stroke="#f2b62a" stroke-width="1.3"/><polygon points="194.2,453.5 192.9,456.8 189.3,457.1 192.0,459.4 191.2,462.9 194.2,461.0 197.3,462.9 196.4,459.4 199.2,457.1 195.6,456.8" fill="none" stroke="#f2b62a" stroke-width="1.3"/><polygon points="201.8,461.0 200.5,464.3 196.9,464.6 199.6,466.9 198.8,470.4 201.8,468.5 204.9,470.4 204.0,466.9 206.8,464.6 203.2,464.3" fill="none" stroke="#f2b62a" stroke-width="1.3"/><polygon points="209.4,469.9 208.1,473.3 204.5,473.5 207.2,475.8 206.4,479.3 209.4,477.4 212.5,479.3 211.6,475.8 214.4,473.5 210.8,473.3" fill="none" stroke="#f2b62a" stroke-width="1.3"/><polygon points="217.0,482.5 215.7,485.9 212.1,486.1 214.8,488.4 214.0,491.9 217.0,490.0 220.1,491.9 219.2,488.4 222.0,486.1 218.4,485.9" fill="none" stroke="#f2b62a" stroke-width="1.3"/><polygon points="224.6,499.8 223.3,503.1 219.7,503.3 222.4,505.7 221.6,509.2 224.6,507.3 227.7,509.2 226.8,505.7 229.6,503.3 226.0,503.1" fill="none" stroke="#f2b62a" stroke-width="1.3"/><polygon points="232.2,518.2 230.9,521.5 227.3,521.8 230.0,524.1 229.2,527.6 232.2,525.7 235.3,527.6 234.4,524.1 237.2,521.8 233.6,521.5" fill="none" stroke="#f2b62a" stroke-width="1.3"/><polygon points="239.8,537.4 238.5,540.8 234.9,541.0 237.6,543.3 236.8,546.8 239.8,544.9 242.9,546.8 242.0,543.3 244.8,541.0 241.2,540.8" fill="none" stroke="#f2b62a" stroke-width="1.3"/><polygon points="247.4,559.2 246.1,562.5 242.5,562.8 245.2,565.1 244.4,568.6 247.4,566.7 250.5,568.6 249.6,565.1 252.4,562.8 248.8,562.5" fill="none" stroke="#f2b62a" stroke-width="1.3"/><polygon points="255.0,585.1 253.7,588.5 250.1,588.7 252.8,591.0 251.9,594.5 255.0,592.6 258.1,594.5 257.2,591.0 259.9,588.7 256.4,588.5" fill="none" stroke="#f2b62a" stroke-width="1.3"/><polygon points="262.6,618.3 261.2,621.6 257.7,621.9 260.4,624.2 259.5,627.7 262.6,625.8 265.7,627.7 264.8,624.2 267.5,621.9 264.0,621.6" fill="none" stroke="#f2b62a" stroke-width="1.3"/><polygon points="278.7,617.8 277.3,621.1 273.7,621.4 276.5,623.7 275.6,627.2 278.7,625.3 281.7,627.2 280.8,623.7 283.6,621.4 280.0,621.1" fill="none" stroke="#f2b62a" stroke-width="1.3"/><polygon points="286.2,590.0 284.9,593.4 281.3,593.6 284.1,595.9 283.2,599.4 286.2,597.5 289.3,599.4 288.4,595.9 291.2,593.6 287.6,593.4" fill="none" stroke="#f2b62a" stroke-width="1.3"/><polygon points="293.8,572.1 292.5,575.5 288.9,575.7 291.7,578.1 290.8,581.6 293.8,579.6 296.9,581.6 296.0,578.1 298.8,575.7 295.2,575.5" fill="none" stroke="#f2b62a" stroke-width="1.3"/><polygon points="301.4,554.7 300.1,558.0 296.5,558.3 299.3,560.6 298.4,564.1 301.4,562.2 304.5,564.1 303.6,560.6 306.4,558.3 302.8,558.0" fill="none" stroke="#f2b62a" stroke-width="1.3"/><polygon points="309.0,541.1 307.7,544.4 304.1,544.7 306.8,547.0 306.0,550.5 309.0,548.6 312.1,550.5 311.2,547.0 314.0,544.7 310.4,544.4" fill="none" stroke="#f2b62a" stroke-width="1.3"/><polygon points="316.6,526.6 315.3,529.9 311.7,530.2 314.4,532.5 313.6,536.0 316.6,534.1 319.7,536.0 318.8,532.5 321.6,530.2 318.0,529.9" fill="none" stroke="#f2b62a" stroke-width="1.3"/><polygon points="324.2,512.3 322.9,515.7 319.3,515.9 322.0,518.2 321.2,521.7 324.2,519.8 327.3,521.7 326.4,518.2 329.2,515.9 325.6,515.7" fill="none" stroke="#f2b62a" stroke-width="1.3"/><polygon points="331.8,500.6 330.5,504.0 326.9,504.2 329.6,506.5 328.8,510.0 331.8,508.1 334.9,510.0 334.0,506.5 336.8,504.2 333.2,504.0" fill="none" stroke="#f2b62a" stroke-width="1.3"/><polygon points="339.4,482.7 338.1,486.0 334.5,486.3 337.2,488.6 336.4,492.1 339.4,490.2 342.5,492.1 341.6,488.6 344.4,486.3 340.8,486.0" fill="none" stroke="#f2b62a" stroke-width="1.3"/><polygon points="347.0,469.9 345.7,473.2 342.1,473.5 344.8,475.8 344.0,479.3 347.0,477.4 350.1,479.3 349.2,475.8 352.0,473.5 348.4,473.2" fill="none" stroke="#f2b62a" stroke-width="1.3"/><polygon points="354.6,458.2 353.3,461.6 349.7,461.8 352.4,464.1 351.6,467.6 354.6,465.7 357.7,467.6 356.8,464.1 359.6,461.8 356.0,461.6" fill="none" stroke="#f2b62a" stroke-width="1.3"/><polygon points="362.2,450.4 360.9,453.7 357.3,454.0 360.0,456.3 359.2,459.8 362.2,457.9 365.3,459.8 364.4,456.3 367.2,454.0 363.6,453.7" fill="none" stroke="#f2b62a" stroke-width="1.3"/><polygon points="369.8,443.5 368.5,446.9 364.9,447.1 367.6,449.5 366.7,453.0 369.8,451.0 372.9,453.0 372.0,449.5 374.8,447.1 371.2,446.9" fill="none" stroke="#f2b62a" stroke-width="1.3"/><polygon points="377.4,437.0 376.0,440.4 372.5,440.6 375.2,442.9 374.3,446.4 377.4,444.5 380.5,446.4 379.6,442.9 382.3,440.6 378.8,440.4" fill="none" stroke="#f2b62a" stroke-width="1.3"/><polygon points="385.0,431.7 383.6,435.1 380.1,435.3 382.8,437.6 381.9,441.1 385.0,439.2 388.1,441.1 387.2,437.6 389.9,435.3 386.3,435.1" fill="none" stroke="#f2b62a" stroke-width="1.3"/><polygon points="392.6,426.9 391.2,430.2 387.6,430.5 390.4,432.8 389.5,436.3 392.6,434.4 395.6,436.3 394.8,432.8 397.5,430.5 393.9,430.2" fill="none" stroke="#f2b62a" stroke-width="1.3"/><polygon points="400.2,422.1 398.8,425.4 395.2,425.7 398.0,428.0 397.1,431.5 400.2,429.6 403.2,431.5 402.4,428.0 405.1,425.7 401.5,425.4" fill="none" stroke="#f2b62a" stroke-width="1.3"/><polygon points="407.8,417.8 406.4,421.2 402.8,421.4 405.6,423.8 404.7,427.3 407.8,425.3 410.8,427.3 410.0,423.8 412.7,421.4 409.1,421.2" fill="none" stroke="#f2b62a" stroke-width="1.3"/><polygon points="415.4,414.2 414.0,417.6 410.4,417.8 413.2,420.1 412.3,423.6 415.4,421.7 418.4,423.6 417.6,420.1 420.3,417.8 416.7,417.6" fill="none" stroke="#f2b62a" stroke-width="1.3"/><polygon points="423.0,411.1 421.6,414.4 418.0,414.7 420.8,417.0 419.9,420.5 423.0,418.6 426.0,420.5 425.2,417.0 427.9,414.7 424.3,414.4" fill="none" stroke="#f2b62a" stroke-width="1.3"/><polygon points="430.6,408.5 429.2,411.8 425.6,412.1 428.4,414.4 427.5,417.9 430.6,416.0 433.6,417.9 432.8,414.4 435.5,412.1 431.9,411.8" fill="none" stroke="#f2b62a" stroke-width="1.3"/><polygon points="438.2,405.9 436.8,409.2 433.2,409.5 436.0,411.8 435.1,415.3 438.2,413.4 441.2,415.3 440.4,411.8 443.1,409.5 439.5,409.2" fill="none" stroke="#f2b62a" stroke-width="1.3"/><polygon points="445.8,403.4 444.4,406.7 440.8,407.0 443.6,409.3 442.7,412.8 445.8,410.9 448.8,412.8 448.0,409.3 450.7,407.0 447.1,406.7" fill="none" stroke="#f2b62a" stroke-width="1.3"/>
<path d="M72.7,420.3 L73.7,420.3 L74.7,420.4 L75.7,420.4 L76.7,420.4 L77.7,420.5 L78.7,420.5 L79.7,420.5 L80.7,420.5 L81.7,420.6 L82.7,420.6 L83.7,420.6 L84.7,420.7 L85.8,420.7 L86.8,420.7 L87.8,420.7 L88.8,420.8 L89.8,420.8 L90.8,420.8 L91.8,420.8 L92.8,420.9 L93.8,420.9 L94.8,420.9 L95.8,420.9 L96.8,421.0 L97.8,421.0 L98.8,421.0 L99.8,421.0 L100.8,421.1 L101.8,421.1 L102.8,421.1 L103.8,421.2 L104.8,421.2 L105.8,421.2 L106.8,421.3 L107.8,421.3 L108.8,421.3 L109.8,421.4 L110.8,421.4 L111.9,421.4 L112.9,421.5 L113.9,421.5 L114.9,421.6 L115.9,421.6 L116.9,421.7 L117.9,421.7 L118.9,421.8 L119.9,421.8 L120.9,421.9 L121.9,421.9 L122.9,422.0 L123.9,422.0 L124.9,422.1 L125.9,422.2 L126.9,422.3 L128.0,422.4 L129.0,422.5 L130.0,422.6 L131.0,422.7 L132.0,422.9 L133.0,423.0 L134.1,423.2 L135.1,423.4 L136.1,423.6 L137.1,423.8 L138.1,424.0 L139.2,424.2 L140.2,424.4 L141.2,424.7 L142.2,424.9 L143.2,425.2 L144.3,425.4 L145.3,425.7 L146.3,425.9 L147.3,426.2 L148.3,426.5 L149.3,426.8 L150.4,427.0 L151.4,427.3 L152.4,427.6 L153.4,427.9 L154.5,428.2 L155.5,428.6 L156.5,428.9 L157.6,429.3 L158.6,429.7 L159.6,430.1 L160.7,430.5 L161.7,431.0 L162.7,431.4 L163.8,431.9 L164.8,432.4 L165.9,432.9 L166.9,433.4 L167.9,433.9 L169.0,434.5 L170.0,435.0 L171.0,435.6 L172.1,436.2 L173.1,436.8 L174.1,437.4 L175.2,438.0 L176.2,438.6 L177.2,439.3 L178.3,439.9 L179.3,440.6 L180.4,441.4 L181.4,442.2 L182.4,443.0 L183.5,443.8 L184.5,444.6 L185.5,445.5 L186.6,446.4 L187.6,447.4 L188.7,448.3 L189.7,449.3 L190.7,450.3 L191.8,451.4 L192.8,452.4 L193.8,453.5 L194.9,454.6 L195.9,455.7 L197.0,456.9 L198.0,458.0 L199.0,459.2 L200.0,460.5 L201.0,461.7 L202.0,463.1 L203.0,464.4 L204.0,465.9 L205.0,467.4 L206.0,468.9 L207.0,470.5 L208.0,472.1 L209.0,473.7 L210.0,475.3 L211.0,477.0 L212.0,478.7 L213.0,480.5 L214.0,482.2 L215.0,484.0 L216.0,485.9 L217.0,487.7 L218.0,489.6 L219.0,491.6 L220.0,493.6 L221.0,495.6 L222.0,497.7 L223.0,499.9 L224.0,502.0 L225.0,504.2 L226.0,506.5 L227.0,508.7 L228.0,511.0 L229.0,513.3 L230.0,515.7 L231.0,518.1 L232.0,520.5 L233.1,523.1 L234.1,525.6 L235.1,528.3 L236.2,530.9 L237.2,533.6 L238.2,536.4 L239.3,539.2 L240.3,542.0 L241.3,544.9 L242.4,547.9 L243.4,550.8 L244.4,553.9 L245.5,556.9 L246.5,560.0 L247.5,563.1 L248.5,566.2 L249.5,569.4 L250.5,572.6 L251.5,575.9 L252.5,579.3 L253.5,582.8 L254.5,586.5 L255.5,590.3 L256.5,594.4 L257.6,598.8 L258.7,603.6 L259.8,608.6 L260.8,613.9 L261.9,619.5 L263.0,625.5 L264.1,631.8 L265.1,638.5 L266.2,645.5 L267.3,652.7 L268.4,659.9 L269.4,667.2 L270.5,675.0" stroke="#ea6038" stroke-width="2.0"/>
<path d="M269.5,683.7 L270.5,671.2 L271.5,660.4 L272.5,650.9 L273.7,641.7 L274.8,633.4 L276.0,626.2 L277.1,619.9 L278.2,614.5 L279.4,609.8 L280.5,605.7 L281.6,602.0 L282.7,598.8 L283.8,595.9 L284.8,593.2 L285.9,590.6 L287.0,588.1 L288.0,585.7 L289.0,583.3 L290.0,581.0 L291.0,578.8 L292.0,576.5 L293.0,574.2 L294.0,572.0 L295.0,569.6 L296.0,567.3 L297.0,564.9 L298.0,562.6 L299.0,560.3 L300.0,558.2 L301.0,556.1 L302.1,554.1 L303.1,552.3 L304.2,550.5 L305.2,548.8 L306.3,547.1 L307.3,545.4 L308.4,543.6 L309.4,541.8 L310.5,539.8 L311.6,537.7 L312.6,535.5 L313.7,533.2 L314.8,530.9 L315.8,528.6 L316.9,526.3 L317.9,524.2 L319.0,522.2 L320.1,520.4 L321.1,518.7 L322.1,517.2 L323.2,515.7 L324.2,514.3 L325.3,512.8 L326.4,511.3 L327.4,509.7 L328.4,508.0 L329.5,506.0 L330.6,503.7 L331.6,501.3 L332.7,498.6 L333.8,495.9 L334.9,493.2 L335.9,490.6 L337.0,488.3 L338.0,486.2 L339.1,484.3 L340.1,482.5 L341.1,480.7 L342.2,479.1 L343.2,477.4 L344.2,475.8 L345.3,474.2 L346.3,472.5 L347.4,470.8 L348.5,469.0 L349.6,467.3 L350.7,465.6 L351.8,464.0 L352.9,462.6 L354.0,461.2 L355.0,460.0 L356.0,458.9 L357.1,457.9 L358.1,456.9 L359.1,456.0 L360.1,455.2 L361.2,454.3 L362.2,453.4 L363.2,452.4 L364.3,451.5 L365.3,450.5 L366.4,449.5 L367.5,448.5 L368.6,447.5 L369.6,446.6 L370.7,445.6 L371.8,444.7 L372.9,443.7 L373.9,442.9 L375.0,442.0 L376.0,441.2 L377.1,440.5 L378.1,439.7 L379.1,439.0 L380.2,438.3 L381.2,437.6 L382.2,437.0 L383.2,436.3 L384.3,435.6 L385.3,435.0 L386.3,434.3 L387.4,433.7 L388.4,433.0 L389.4,432.3 L390.5,431.7 L391.5,431.0 L392.6,430.3 L393.6,429.6 L394.7,429.0 L395.7,428.3 L396.7,427.7 L397.8,427.0 L398.8,426.4 L399.9,425.8 L400.9,425.2 L402.0,424.6 L403.0,424.0 L404.1,423.4 L405.1,422.9 L406.2,422.3 L407.3,421.8 L408.3,421.3 L409.4,420.8 L410.4,420.3 L411.5,419.8 L412.6,419.3 L413.6,418.8 L414.7,418.3 L415.8,417.9 L416.8,417.4 L417.9,417.0 L418.9,416.6 L419.9,416.2 L420.9,415.8 L421.9,415.5 L422.9,415.1 L423.9,414.7 L424.9,414.4 L425.9,414.0 L427.0,413.7 L428.0,413.4 L429.0,413.0 L430.0,412.7 L431.0,412.4 L432.0,412.0 L433.0,411.7 L434.0,411.3 L435.0,411.0 L436.0,410.6 L437.1,410.3 L438.1,409.9 L439.1,409.6 L440.2,409.3 L441.2,408.9 L442.3,408.6 L443.3,408.2 L444.3,407.9 L445.4,407.5 L446.4,407.2 L447.5,406.9 L448.5,406.5 L449.5,406.2 L450.6,405.8 L451.6,405.5" stroke="#ea6038" stroke-width="2.4" transform="translate(1.4,0.3)"/>
<circle cx="72.7" cy="420.3" r="4.4" fill="none" stroke="#ea6038" stroke-width="1.3"/><circle cx="80.3" cy="420.5" r="4.4" fill="none" stroke="#ea6038" stroke-width="1.3"/><circle cx="87.9" cy="420.7" r="4.4" fill="none" stroke="#ea6038" stroke-width="1.3"/><circle cx="95.5" cy="420.9" r="4.4" fill="none" stroke="#ea6038" stroke-width="1.3"/><circle cx="103.1" cy="421.1" r="4.4" fill="none" stroke="#ea6038" stroke-width="1.3"/><circle cx="110.7" cy="421.4" r="4.4" fill="none" stroke="#ea6038" stroke-width="1.3"/><circle cx="118.3" cy="421.7" r="4.4" fill="none" stroke="#ea6038" stroke-width="1.3"/><circle cx="125.9" cy="422.2" r="4.4" fill="none" stroke="#ea6038" stroke-width="1.3"/><circle cx="133.5" cy="423.1" r="4.4" fill="none" stroke="#ea6038" stroke-width="1.3"/><circle cx="141.1" cy="424.6" r="4.4" fill="none" stroke="#ea6038" stroke-width="1.3"/><circle cx="148.7" cy="426.6" r="4.4" fill="none" stroke="#ea6038" stroke-width="1.3"/><circle cx="156.3" cy="428.9" r="4.4" fill="none" stroke="#ea6038" stroke-width="1.3"/><circle cx="163.9" cy="431.9" r="4.4" fill="none" stroke="#ea6038" stroke-width="1.3"/><circle cx="171.4" cy="435.9" r="4.4" fill="none" stroke="#ea6038" stroke-width="1.3"/><circle cx="179.0" cy="440.5" r="4.4" fill="none" stroke="#ea6038" stroke-width="1.3"/><circle cx="186.6" cy="446.5" r="4.4" fill="none" stroke="#ea6038" stroke-width="1.3"/><circle cx="194.2" cy="453.9" r="4.4" fill="none" stroke="#ea6038" stroke-width="1.3"/><circle cx="201.8" cy="462.8" r="4.4" fill="none" stroke="#ea6038" stroke-width="1.3"/><circle cx="209.4" cy="474.4" r="4.4" fill="none" stroke="#ea6038" stroke-width="1.3"/><circle cx="217.0" cy="487.8" r="4.4" fill="none" stroke="#ea6038" stroke-width="1.3"/><circle cx="224.6" cy="503.4" r="4.4" fill="none" stroke="#ea6038" stroke-width="1.3"/><circle cx="232.2" cy="521.0" r="4.4" fill="none" stroke="#ea6038" stroke-width="1.3"/><circle cx="239.8" cy="540.6" r="4.4" fill="none" stroke="#ea6038" stroke-width="1.3"/><circle cx="247.4" cy="562.8" r="4.4" fill="none" stroke="#ea6038" stroke-width="1.3"/><circle cx="255.0" cy="588.4" r="4.4" fill="none" stroke="#ea6038" stroke-width="1.3"/><circle cx="262.6" cy="623.3" r="4.4" fill="none" stroke="#ea6038" stroke-width="1.3"/><circle cx="280.8" cy="609.9" r="4.4" fill="none" stroke="#ea6038" stroke-width="1.3"/><circle cx="288.4" cy="588.3" r="4.4" fill="none" stroke="#ea6038" stroke-width="1.3"/><circle cx="296.0" cy="570.8" r="4.4" fill="none" stroke="#ea6038" stroke-width="1.3"/><circle cx="303.6" cy="554.2" r="4.4" fill="none" stroke="#ea6038" stroke-width="1.3"/><circle cx="311.2" cy="541.3" r="4.4" fill="none" stroke="#ea6038" stroke-width="1.3"/><circle cx="318.8" cy="525.5" r="4.4" fill="none" stroke="#ea6038" stroke-width="1.3"/><circle cx="326.4" cy="513.5" r="4.4" fill="none" stroke="#ea6038" stroke-width="1.3"/><circle cx="334.0" cy="499.1" r="4.4" fill="none" stroke="#ea6038" stroke-width="1.3"/><circle cx="341.6" cy="482.6" r="4.4" fill="none" stroke="#ea6038" stroke-width="1.3"/><circle cx="349.2" cy="470.4" r="4.4" fill="none" stroke="#ea6038" stroke-width="1.3"/><circle cx="356.8" cy="459.9" r="4.4" fill="none" stroke="#ea6038" stroke-width="1.3"/><circle cx="364.4" cy="452.9" r="4.4" fill="none" stroke="#ea6038" stroke-width="1.3"/><circle cx="372.0" cy="446.0" r="4.4" fill="none" stroke="#ea6038" stroke-width="1.3"/><circle cx="379.6" cy="440.0" r="4.4" fill="none" stroke="#ea6038" stroke-width="1.3"/><circle cx="387.2" cy="435.0" r="4.4" fill="none" stroke="#ea6038" stroke-width="1.3"/><circle cx="394.8" cy="430.1" r="4.4" fill="none" stroke="#ea6038" stroke-width="1.3"/><circle cx="402.3" cy="425.5" r="4.4" fill="none" stroke="#ea6038" stroke-width="1.3"/><circle cx="409.9" cy="421.5" r="4.4" fill="none" stroke="#ea6038" stroke-width="1.3"/><circle cx="417.5" cy="418.0" r="4.4" fill="none" stroke="#ea6038" stroke-width="1.3"/><circle cx="425.1" cy="415.1" r="4.4" fill="none" stroke="#ea6038" stroke-width="1.3"/><circle cx="432.7" cy="412.6" r="4.4" fill="none" stroke="#ea6038" stroke-width="1.3"/><circle cx="440.3" cy="410.0" r="4.4" fill="none" stroke="#ea6038" stroke-width="1.3"/><circle cx="447.9" cy="407.5" r="4.4" fill="none" stroke="#ea6038" stroke-width="1.3"/>
<path d="M72.7,413.9 L73.7,413.9 L74.7,414.0 L75.7,414.0 L76.7,414.1 L77.7,414.1 L78.7,414.1 L79.7,414.2 L80.7,414.2 L81.7,414.2 L82.7,414.3 L83.7,414.3 L84.7,414.3 L85.7,414.4 L86.7,414.4 L87.7,414.4 L88.7,414.5 L89.7,414.5 L90.7,414.5 L91.7,414.6 L92.7,414.6 L93.7,414.6 L94.8,414.7 L95.8,414.7 L96.8,414.7 L97.8,414.8 L98.8,414.8 L99.8,414.8 L100.8,414.9 L101.8,414.9 L102.8,415.0 L103.8,415.0 L104.8,415.1 L105.8,415.1 L106.8,415.2 L107.8,415.2 L108.8,415.3 L109.8,415.3 L110.8,415.4 L111.8,415.4 L112.8,415.5 L113.8,415.6 L114.8,415.6 L115.8,415.7 L116.8,415.8 L117.8,415.9 L118.8,416.0 L119.9,416.1 L120.9,416.2 L121.9,416.3 L122.9,416.5 L123.9,416.6 L125.0,416.8 L126.0,417.0 L127.0,417.2 L128.0,417.3 L129.0,417.5 L130.0,417.7 L131.1,418.0 L132.1,418.2 L133.1,418.4 L134.1,418.7 L135.1,418.9 L136.1,419.1 L137.2,419.4 L138.2,419.7 L139.2,419.9 L140.2,420.2 L141.2,420.5 L142.2,420.8 L143.2,421.1 L144.3,421.4 L145.3,421.7 L146.3,422.0 L147.3,422.3 L148.3,422.6 L149.3,422.9 L150.4,423.2 L151.4,423.6 L152.4,423.9 L153.4,424.3 L154.4,424.6 L155.4,425.0 L156.5,425.4 L157.5,425.8 L158.5,426.2 L159.5,426.7 L160.5,427.1 L161.5,427.6 L162.5,428.1 L163.6,428.6 L164.6,429.1 L165.6,429.7 L166.6,430.2 L167.6,430.8 L168.6,431.4 L169.7,432.0 L170.7,432.6 L171.7,433.2 L172.7,433.9 L173.7,434.5 L174.7,435.2 L175.7,435.8 L176.8,436.5 L177.8,437.2 L178.8,437.9 L179.8,438.6 L180.8,439.3 L181.8,440.1 L182.8,440.9 L183.8,441.7 L184.9,442.5 L185.9,443.3 L186.9,444.2 L187.9,445.1 L188.9,446.1 L189.9,447.0 L190.9,448.0 L191.9,449.0 L192.9,450.1 L193.9,451.1 L194.9,452.2 L196.0,453.3 L197.0,454.5 L198.0,455.6 L199.0,456.8 L200.0,458.0 L201.0,459.3 L202.0,460.6 L203.0,461.9 L204.0,463.3 L205.0,464.7 L206.0,466.2 L207.0,467.8 L208.0,469.3 L209.0,470.9 L210.0,472.6 L211.0,474.2 L212.0,475.9 L213.0,477.7 L214.0,479.4 L215.0,481.2 L216.0,483.1 L217.0,484.9 L218.0,486.8 L219.0,488.8 L220.0,490.8 L221.0,492.8 L222.0,494.9 L223.0,497.1 L224.0,499.3 L225.0,501.5 L226.0,503.8 L227.0,506.1 L228.0,508.4 L229.0,510.8 L230.0,513.2 L231.0,515.6 L232.0,518.0 L233.0,520.5 L234.0,523.1 L235.0,525.6 L236.0,528.3 L237.0,530.9 L238.0,533.7 L239.0,536.4 L240.0,539.3 L241.0,542.1 L242.0,545.0 L243.0,548.0 L244.0,550.9 L245.0,553.9 L246.0,557.0 L247.0,560.0 L248.0,563.1 L249.0,566.3 L250.0,569.4 L251.0,572.7 L252.0,576.0 L253.0,579.4 L254.0,582.9 L255.0,586.5 L256.0,590.3 L257.0,594.2 L258.0,598.2 L259.0,602.5 L260.0,607.0 L261.0,611.8 L262.0,617.1 L263.0,623.2 L264.1,630.1 L265.2,637.9 L266.3,646.4 L267.4,655.3 L268.5,664.3 L269.6,673.3 L270.7,683.0" stroke="#ff2424" stroke-width="2.0"/>
<path d="M269.5,683.7 L270.5,671.2 L271.5,660.4 L272.5,650.9 L273.7,641.7 L274.8,633.4 L276.0,626.2 L277.1,619.9 L278.2,614.5 L279.4,609.8 L280.5,605.7 L281.6,602.0 L282.7,598.8 L283.8,595.9 L284.8,593.2 L285.9,590.6 L287.0,588.1 L288.0,585.7 L289.0,583.3 L290.0,581.0 L291.0,578.8 L292.0,576.5 L293.0,574.2 L294.0,572.0 L295.0,569.6 L296.0,567.3 L297.0,564.9 L298.0,562.6 L299.0,560.3 L300.0,558.2 L301.0,556.1 L302.1,554.1 L303.1,552.3 L304.2,550.5 L305.2,548.8 L306.3,547.1 L307.3,545.4 L308.4,543.6 L309.4,541.8 L310.5,539.8 L311.6,537.7 L312.6,535.5 L313.7,533.2 L314.8,530.9 L315.8,528.6 L316.9,526.3 L317.9,524.2 L319.0,522.2 L320.1,520.4 L321.1,518.7 L322.1,517.2 L323.2,515.7 L324.2,514.3 L325.3,512.8 L326.4,511.3 L327.4,509.7 L328.4,508.0 L329.5,506.0 L330.6,503.7 L331.6,501.3 L332.7,498.6 L333.8,495.9 L334.9,493.2 L335.9,490.6 L337.0,488.3 L338.0,486.2 L339.1,484.3 L340.1,482.5 L341.1,480.7 L342.2,479.1 L343.2,477.4 L344.2,475.8 L345.3,474.2 L346.3,472.5 L347.4,470.8 L348.5,469.0 L349.6,467.3 L350.7,465.6 L351.8,464.0 L352.9,462.6 L354.0,461.2 L355.0,460.0 L356.0,458.9 L357.1,457.9 L358.1,456.9 L359.1,456.0 L360.1,455.2 L361.2,454.3 L362.2,453.4 L363.2,452.4 L364.3,451.5 L365.3,450.5 L366.4,449.5 L367.5,448.5 L368.6,447.5 L369.6,446.6 L370.7,445.6 L371.8,444.7 L372.9,443.7 L373.9,442.9 L375.0,442.0 L376.0,441.2 L377.1,440.5 L378.1,439.7 L379.1,439.0 L380.2,438.3 L381.2,437.6 L382.2,437.0 L383.2,436.3 L384.3,435.6 L385.3,435.0 L386.3,434.3 L387.4,433.7 L388.4,433.0 L389.4,432.3 L390.5,431.7 L391.5,431.0 L392.6,430.3 L393.6,429.6 L394.7,429.0 L395.7,428.3 L396.7,427.7 L397.8,427.0 L398.8,426.4 L399.9,425.8 L400.9,425.2 L402.0,424.6 L403.0,424.0 L404.1,423.4 L405.1,422.9 L406.2,422.3 L407.3,421.8 L408.3,421.3 L409.4,420.8 L410.4,420.3 L411.5,419.8 L412.6,419.3 L413.6,418.8 L414.7,418.3 L415.8,417.9 L416.8,417.4 L417.9,417.0 L418.9,416.6 L419.9,416.2 L420.9,415.8 L421.9,415.5 L422.9,415.1 L423.9,414.7 L424.9,414.4 L425.9,414.0 L427.0,413.7 L428.0,413.4 L429.0,413.0 L430.0,412.7 L431.0,412.4 L432.0,412.0 L433.0,411.7 L434.0,411.3 L435.0,411.0 L436.0,410.6 L437.1,410.3 L438.1,409.9 L439.1,409.6 L440.2,409.3 L441.2,408.9 L442.3,408.6 L443.3,408.2 L444.3,407.9 L445.4,407.5 L446.4,407.2 L447.5,406.9 L448.5,406.5 L449.5,406.2 L450.6,405.8 L451.6,405.5" stroke="#ff2424" stroke-width="2.8" transform="translate(0.7,0.2)"/>
<path d="M68.2,413.9 h9 M72.7,409.4 v9" stroke="#ff2424" stroke-width="1.3"/><path d="M75.8,414.2 h9 M80.3,409.7 v9" stroke="#ff2424" stroke-width="1.3"/><path d="M83.4,414.4 h9 M87.9,409.9 v9" stroke="#ff2424" stroke-width="1.3"/><path d="M91.0,414.7 h9 M95.5,410.2 v9" stroke="#ff2424" stroke-width="1.3"/><path d="M98.6,415.0 h9 M103.1,410.5 v9" stroke="#ff2424" stroke-width="1.3"/><path d="M106.2,415.4 h9 M110.7,410.9 v9" stroke="#ff2424" stroke-width="1.3"/><path d="M113.8,415.9 h9 M118.3,411.4 v9" stroke="#ff2424" stroke-width="1.3"/><path d="M121.4,417.0 h9 M125.9,412.5 v9" stroke="#ff2424" stroke-width="1.3"/><path d="M129.0,418.5 h9 M133.5,414.0 v9" stroke="#ff2424" stroke-width="1.3"/><path d="M136.6,420.5 h9 M141.1,416.0 v9" stroke="#ff2424" stroke-width="1.3"/><path d="M144.2,422.7 h9 M148.7,418.2 v9" stroke="#ff2424" stroke-width="1.3"/><path d="M151.8,425.3 h9 M156.3,420.8 v9" stroke="#ff2424" stroke-width="1.3"/><path d="M159.4,428.7 h9 M163.9,424.2 v9" stroke="#ff2424" stroke-width="1.3"/><path d="M166.9,433.1 h9 M171.4,428.6 v9" stroke="#ff2424" stroke-width="1.3"/><path d="M174.5,438.1 h9 M179.0,433.6 v9" stroke="#ff2424" stroke-width="1.3"/><path d="M182.1,444.0 h9 M186.6,439.5 v9" stroke="#ff2424" stroke-width="1.3"/><path d="M189.7,451.5 h9 M194.2,447.0 v9" stroke="#ff2424" stroke-width="1.3"/><path d="M197.3,460.4 h9 M201.8,455.9 v9" stroke="#ff2424" stroke-width="1.3"/><path d="M204.9,471.6 h9 M209.4,467.1 v9" stroke="#ff2424" stroke-width="1.3"/><path d="M212.5,485.0 h9 M217.0,480.5 v9" stroke="#ff2424" stroke-width="1.3"/><path d="M220.1,500.6 h9 M224.6,496.1 v9" stroke="#ff2424" stroke-width="1.3"/><path d="M227.7,518.6 h9 M232.2,514.1 v9" stroke="#ff2424" stroke-width="1.3"/><path d="M235.3,538.7 h9 M239.8,534.2 v9" stroke="#ff2424" stroke-width="1.3"/><path d="M242.9,561.3 h9 M247.4,556.8 v9" stroke="#ff2424" stroke-width="1.3"/><path d="M250.5,586.5 h9 M255.0,582.0 v9" stroke="#ff2424" stroke-width="1.3"/><path d="M258.1,620.8 h9 M262.6,616.3 v9" stroke="#ff2424" stroke-width="1.3"/><path d="M278.5,600.3 h9 M283.0,595.8 v9" stroke="#ff2424" stroke-width="1.3"/><path d="M286.1,581.5 h9 M290.6,577.0 v9" stroke="#ff2424" stroke-width="1.3"/><path d="M293.7,564.0 h9 M298.2,559.5 v9" stroke="#ff2424" stroke-width="1.3"/><path d="M301.3,549.2 h9 M305.8,544.7 v9" stroke="#ff2424" stroke-width="1.3"/><path d="M308.9,535.6 h9 M313.4,531.1 v9" stroke="#ff2424" stroke-width="1.3"/><path d="M316.5,520.3 h9 M321.0,515.8 v9" stroke="#ff2424" stroke-width="1.3"/><path d="M324.0,509.1 h9 M328.5,504.6 v9" stroke="#ff2424" stroke-width="1.3"/><path d="M331.6,492.0 h9 M336.1,487.5 v9" stroke="#ff2424" stroke-width="1.3"/><path d="M339.2,477.9 h9 M343.7,473.4 v9" stroke="#ff2424" stroke-width="1.3"/><path d="M346.8,465.9 h9 M351.3,461.4 v9" stroke="#ff2424" stroke-width="1.3"/><path d="M354.4,457.0 h9 M358.9,452.5 v9" stroke="#ff2424" stroke-width="1.3"/><path d="M362.0,450.2 h9 M366.5,445.7 v9" stroke="#ff2424" stroke-width="1.3"/><path d="M369.6,443.5 h9 M374.1,439.0 v9" stroke="#ff2424" stroke-width="1.3"/><path d="M377.2,437.9 h9 M381.7,433.4 v9" stroke="#ff2424" stroke-width="1.3"/><path d="M384.8,433.0 h9 M389.3,428.5 v9" stroke="#ff2424" stroke-width="1.3"/><path d="M392.4,428.1 h9 M396.9,423.6 v9" stroke="#ff2424" stroke-width="1.3"/><path d="M400.0,423.8 h9 M404.5,419.3 v9" stroke="#ff2424" stroke-width="1.3"/><path d="M407.6,420.0 h9 M412.1,415.5 v9" stroke="#ff2424" stroke-width="1.3"/><path d="M415.2,416.7 h9 M419.7,412.2 v9" stroke="#ff2424" stroke-width="1.3"/><path d="M422.8,414.0 h9 M427.3,409.5 v9" stroke="#ff2424" stroke-width="1.3"/><path d="M430.4,411.4 h9 M434.9,406.9 v9" stroke="#ff2424" stroke-width="1.3"/><path d="M438.0,408.9 h9 M442.5,404.4 v9" stroke="#ff2424" stroke-width="1.3"/>
<path d="M72.7,400.1 L73.7,400.3 L74.8,400.4 L75.8,400.6 L76.8,400.7 L77.8,400.9 L78.9,401.1 L79.9,401.2 L80.9,401.4 L81.9,401.5 L83.0,401.7 L84.0,401.8 L85.0,402.0 L86.1,402.1 L87.1,402.3 L88.1,402.4 L89.1,402.6 L90.2,402.7 L91.2,402.9 L92.2,403.0 L93.2,403.2 L94.3,403.4 L95.3,403.5 L96.3,403.7 L97.4,403.9 L98.4,404.0 L99.4,404.2 L100.4,404.4 L101.5,404.6 L102.5,404.8 L103.5,405.0 L104.5,405.2 L105.6,405.4 L106.6,405.6 L107.6,405.8 L108.6,406.0 L109.6,406.3 L110.7,406.5 L111.7,406.7 L112.7,407.0 L113.7,407.2 L114.7,407.5 L115.8,407.7 L116.8,408.0 L117.8,408.2 L118.8,408.5 L119.8,408.8 L120.8,409.1 L121.8,409.4 L122.9,409.6 L123.9,409.9 L124.9,410.2 L125.9,410.6 L126.9,410.9 L127.9,411.2 L129.0,411.5 L130.0,411.8 L131.0,412.2 L132.0,412.5 L133.0,412.9 L134.0,413.2 L135.1,413.6 L136.1,413.9 L137.1,414.3 L138.1,414.7 L139.1,415.0 L140.1,415.4 L141.2,415.8 L142.2,416.2 L143.2,416.6 L144.2,417.0 L145.2,417.4 L146.2,417.9 L147.2,418.3 L148.3,418.8 L149.3,419.3 L150.3,419.8 L151.3,420.3 L152.3,420.8 L153.3,421.3 L154.3,421.9 L155.3,422.4 L156.3,423.0 L157.3,423.6 L158.4,424.1 L159.4,424.7 L160.4,425.3 L161.4,425.9 L162.4,426.6 L163.4,427.2 L164.4,427.8 L165.4,428.5 L166.4,429.1 L167.4,429.8 L168.5,430.4 L169.5,431.1 L170.5,431.8 L171.5,432.4 L172.5,433.1 L173.5,433.8 L174.5,434.5 L175.5,435.1 L176.5,435.8 L177.5,436.5 L178.5,437.2 L179.5,438.0 L180.5,438.7 L181.5,439.5 L182.5,440.2 L183.5,441.0 L184.5,441.8 L185.5,442.6 L186.5,443.5 L187.5,444.3 L188.5,445.2 L189.5,446.1 L190.5,447.0 L191.5,448.0 L192.5,449.0 L193.5,450.0 L194.5,451.1 L195.5,452.2 L196.6,453.4 L197.6,454.6 L198.6,455.9 L199.6,457.2 L200.7,458.6 L201.7,460.1 L202.7,461.6 L203.7,463.1 L204.8,464.7 L205.8,466.3 L206.8,467.9 L207.8,469.6 L208.9,471.3 L209.9,473.0 L210.9,474.7 L211.9,476.5 L213.0,478.2 L214.0,480.0 L215.0,481.8 L216.0,483.6 L217.0,485.5 L218.0,487.3 L219.0,489.3 L220.0,491.2 L221.0,493.2 L222.0,495.3 L223.0,497.3 L224.0,499.4 L225.0,501.6 L226.0,503.7 L227.0,505.9 L228.0,508.2 L229.0,510.4 L230.0,512.7 L231.0,515.1 L232.0,517.4 L233.0,519.8 L234.0,522.3 L235.0,524.7 L236.0,527.3 L237.0,529.8 L238.0,532.5 L239.0,535.1 L240.0,537.9 L241.0,540.6 L242.0,543.4 L243.0,546.3 L244.0,549.1 L245.0,552.1 L246.0,555.0 L247.0,558.0 L248.0,561.1 L249.0,564.2 L250.0,567.4 L251.0,570.6 L252.0,573.9 L253.0,577.3 L254.0,580.8 L255.0,584.5 L256.0,588.2 L257.0,592.1 L258.0,596.2 L259.0,600.5 L260.0,605.0 L261.0,609.8 L262.0,615.2 L263.0,621.3 L264.1,628.3 L265.2,636.3 L266.3,645.1 L267.4,654.3 L268.5,663.6 L269.6,673.0 L270.7,683.0" stroke="#e02a2a" stroke-width="2.0"/>
<path d="M269.5,683.7 L270.5,671.2 L271.5,660.4 L272.5,650.9 L273.7,641.7 L274.8,633.4 L276.0,626.2 L277.1,619.9 L278.2,614.5 L279.4,609.8 L280.5,605.7 L281.6,602.0 L282.7,598.8 L283.8,595.9 L284.8,593.2 L285.9,590.6 L287.0,588.1 L288.0,585.7 L289.0,583.3 L290.0,581.0 L291.0,578.8 L292.0,576.5 L293.0,574.2 L294.0,572.0 L295.0,569.6 L296.0,567.3 L297.0,564.9 L298.0,562.6 L299.0,560.3 L300.0,558.2 L301.0,556.1 L302.1,554.1 L303.1,552.3 L304.2,550.5 L305.2,548.8 L306.3,547.1 L307.3,545.4 L308.4,543.6 L309.4,541.8 L310.5,539.8 L311.6,537.7 L312.6,535.5 L313.7,533.2 L314.8,530.9 L315.8,528.6 L316.9,526.3 L317.9,524.2 L319.0,522.2 L320.1,520.4 L321.1,518.7 L322.1,517.2 L323.2,515.7 L324.2,514.3 L325.3,512.8 L326.4,511.3 L327.4,509.7 L328.4,508.0 L329.5,506.0 L330.6,503.7 L331.6,501.3 L332.7,498.6 L333.8,495.9 L334.9,493.2 L335.9,490.6 L337.0,488.3 L338.0,486.2 L339.1,484.3 L340.1,482.5 L341.1,480.7 L342.2,479.1 L343.2,477.4 L344.2,475.8 L345.3,474.2 L346.3,472.5 L347.4,470.8 L348.5,469.0 L349.6,467.3 L350.7,465.6 L351.8,464.0 L352.9,462.6 L354.0,461.2 L355.0,460.0 L356.0,458.9 L357.1,457.9 L358.1,456.9 L359.1,456.0 L360.1,455.2 L361.2,454.3 L362.2,453.4 L363.2,452.4 L364.3,451.5 L365.3,450.5 L366.4,449.5 L367.5,448.5 L368.6,447.5 L369.6,446.6 L370.7,445.6 L371.8,444.7 L372.9,443.7 L373.9,442.9 L375.0,442.0 L376.0,441.2 L377.1,440.5 L378.1,439.7 L379.1,439.0 L380.2,438.3 L381.2,437.6 L382.2,437.0 L383.2,436.3 L384.3,435.6 L385.3,435.0 L386.3,434.3 L387.4,433.7 L388.4,433.0 L389.4,432.3 L390.5,431.7 L391.5,431.0 L392.6,430.3 L393.6,429.6 L394.7,429.0 L395.7,428.3 L396.7,427.7 L397.8,427.0 L398.8,426.4 L399.9,425.8 L400.9,425.2 L402.0,424.6 L403.0,424.0 L404.1,423.4 L405.1,422.9 L406.2,422.3 L407.3,421.8 L408.3,421.3 L409.4,420.8 L410.4,420.3 L411.5,419.8 L412.6,419.3 L413.6,418.8 L414.7,418.3 L415.8,417.9 L416.8,417.4 L417.9,417.0 L418.9,416.6 L419.9,416.2 L420.9,415.8 L421.9,415.5 L422.9,415.1 L423.9,414.7 L424.9,414.4 L425.9,414.0 L427.0,413.7 L428.0,413.4 L429.0,413.0 L430.0,412.7 L431.0,412.4 L432.0,412.0 L433.0,411.7 L434.0,411.3 L435.0,411.0 L436.0,410.6 L437.1,410.3 L438.1,409.9 L439.1,409.6 L440.2,409.3 L441.2,408.9 L442.3,408.6 L443.3,408.2 L444.3,407.9 L445.4,407.5 L446.4,407.2 L447.5,406.9 L448.5,406.5 L449.5,406.2 L450.6,405.8 L451.6,405.5" stroke="#e02a2a" stroke-width="2.8" transform="translate(0.0,0.0)"/>
<path d="M68.2,395.6 l9,9 M77.2,395.6 l-9,9" stroke="#e02a2a" stroke-width="1.3"/><path d="M75.8,396.8 l9,9 M84.8,396.8 l-9,9" stroke="#e02a2a" stroke-width="1.3"/><path d="M83.4,397.9 l9,9 M92.4,397.9 l-9,9" stroke="#e02a2a" stroke-width="1.3"/><path d="M91.0,399.1 l9,9 M100.0,399.1 l-9,9" stroke="#e02a2a" stroke-width="1.3"/><path d="M98.6,400.4 l9,9 M107.6,400.4 l-9,9" stroke="#e02a2a" stroke-width="1.3"/><path d="M106.2,402.0 l9,9 M115.2,402.0 l-9,9" stroke="#e02a2a" stroke-width="1.3"/><path d="M113.8,403.9 l9,9 M122.8,403.9 l-9,9" stroke="#e02a2a" stroke-width="1.3"/><path d="M121.4,406.1 l9,9 M130.4,406.1 l-9,9" stroke="#e02a2a" stroke-width="1.3"/><path d="M129.0,408.5 l9,9 M138.0,408.5 l-9,9" stroke="#e02a2a" stroke-width="1.3"/><path d="M136.6,411.3 l9,9 M145.6,411.3 l-9,9" stroke="#e02a2a" stroke-width="1.3"/><path d="M144.2,414.5 l9,9 M153.2,414.5 l-9,9" stroke="#e02a2a" stroke-width="1.3"/><path d="M151.8,418.5 l9,9 M160.8,418.5 l-9,9" stroke="#e02a2a" stroke-width="1.3"/><path d="M159.4,423.0 l9,9 M168.4,423.0 l-9,9" stroke="#e02a2a" stroke-width="1.3"/><path d="M166.9,427.9 l9,9 M175.9,427.9 l-9,9" stroke="#e02a2a" stroke-width="1.3"/><path d="M174.5,433.1 l9,9 M183.5,433.1 l-9,9" stroke="#e02a2a" stroke-width="1.3"/><path d="M182.1,439.1 l9,9 M191.1,439.1 l-9,9" stroke="#e02a2a" stroke-width="1.3"/><path d="M189.7,446.3 l9,9 M198.7,446.3 l-9,9" stroke="#e02a2a" stroke-width="1.3"/><path d="M197.3,455.8 l9,9 M206.3,455.8 l-9,9" stroke="#e02a2a" stroke-width="1.3"/><path d="M204.9,467.7 l9,9 M213.9,467.7 l-9,9" stroke="#e02a2a" stroke-width="1.3"/><path d="M212.5,481.0 l9,9 M221.5,481.0 l-9,9" stroke="#e02a2a" stroke-width="1.3"/><path d="M220.1,496.2 l9,9 M229.1,496.2 l-9,9" stroke="#e02a2a" stroke-width="1.3"/><path d="M227.7,513.4 l9,9 M236.7,513.4 l-9,9" stroke="#e02a2a" stroke-width="1.3"/><path d="M235.3,532.9 l9,9 M244.3,532.9 l-9,9" stroke="#e02a2a" stroke-width="1.3"/><path d="M242.9,554.8 l9,9 M251.9,554.8 l-9,9" stroke="#e02a2a" stroke-width="1.3"/><path d="M250.5,580.0 l9,9 M259.5,580.0 l-9,9" stroke="#e02a2a" stroke-width="1.3"/><path d="M258.1,614.3 l9,9 M267.1,614.3 l-9,9" stroke="#e02a2a" stroke-width="1.3"/><path d="M273.0,613.5 l9,9 M282.0,613.5 l-9,9" stroke="#e02a2a" stroke-width="1.3"/><path d="M280.6,588.1 l9,9 M289.6,588.1 l-9,9" stroke="#e02a2a" stroke-width="1.3"/><path d="M288.2,570.5 l9,9 M297.2,570.5 l-9,9" stroke="#e02a2a" stroke-width="1.3"/><path d="M295.8,553.1 l9,9 M304.8,553.1 l-9,9" stroke="#e02a2a" stroke-width="1.3"/><path d="M303.4,540.0 l9,9 M312.4,540.0 l-9,9" stroke="#e02a2a" stroke-width="1.3"/><path d="M311.0,524.9 l9,9 M320.0,524.9 l-9,9" stroke="#e02a2a" stroke-width="1.3"/><path d="M318.6,511.4 l9,9 M327.6,511.4 l-9,9" stroke="#e02a2a" stroke-width="1.3"/><path d="M326.2,499.1 l9,9 M335.2,499.1 l-9,9" stroke="#e02a2a" stroke-width="1.3"/><path d="M333.8,481.2 l9,9 M342.8,481.2 l-9,9" stroke="#e02a2a" stroke-width="1.3"/><path d="M341.4,468.8 l9,9 M350.4,468.8 l-9,9" stroke="#e02a2a" stroke-width="1.3"/><path d="M349.0,457.4 l9,9 M358.0,457.4 l-9,9" stroke="#e02a2a" stroke-width="1.3"/><path d="M356.6,449.9 l9,9 M365.6,449.9 l-9,9" stroke="#e02a2a" stroke-width="1.3"/><path d="M364.2,443.0 l9,9 M373.2,443.0 l-9,9" stroke="#e02a2a" stroke-width="1.3"/><path d="M371.8,436.6 l9,9 M380.8,436.6 l-9,9" stroke="#e02a2a" stroke-width="1.3"/><path d="M379.4,431.4 l9,9 M388.4,431.4 l-9,9" stroke="#e02a2a" stroke-width="1.3"/><path d="M387.0,426.5 l9,9 M396.0,426.5 l-9,9" stroke="#e02a2a" stroke-width="1.3"/><path d="M394.6,421.8 l9,9 M403.6,421.8 l-9,9" stroke="#e02a2a" stroke-width="1.3"/><path d="M402.2,417.7 l9,9 M411.2,417.7 l-9,9" stroke="#e02a2a" stroke-width="1.3"/><path d="M409.8,414.1 l9,9 M418.8,414.1 l-9,9" stroke="#e02a2a" stroke-width="1.3"/><path d="M417.4,411.0 l9,9 M426.4,411.0 l-9,9" stroke="#e02a2a" stroke-width="1.3"/><path d="M425.0,408.4 l9,9 M434.0,408.4 l-9,9" stroke="#e02a2a" stroke-width="1.3"/><path d="M432.6,405.8 l9,9 M441.6,405.8 l-9,9" stroke="#e02a2a" stroke-width="1.3"/><path d="M440.2,403.3 l9,9 M449.2,403.3 l-9,9" stroke="#e02a2a" stroke-width="1.3"/>
<path d="M72.7,394.0 L73.7,394.2 L74.8,394.4 L75.8,394.6 L76.8,394.8 L77.8,395.0 L78.9,395.2 L79.9,395.4 L80.9,395.6 L81.9,395.8 L83.0,396.0 L84.0,396.2 L85.0,396.4 L86.1,396.6 L87.1,396.8 L88.1,397.0 L89.1,397.1 L90.2,397.3 L91.2,397.5 L92.2,397.7 L93.2,398.0 L94.3,398.2 L95.3,398.4 L96.3,398.6 L97.4,398.8 L98.4,399.0 L99.4,399.2 L100.4,399.5 L101.5,399.7 L102.5,400.0 L103.5,400.2 L104.5,400.5 L105.6,400.7 L106.6,401.0 L107.6,401.3 L108.6,401.6 L109.7,401.9 L110.7,402.2 L111.7,402.5 L112.7,402.8 L113.7,403.2 L114.7,403.5 L115.8,403.9 L116.8,404.2 L117.8,404.6 L118.8,405.0 L119.8,405.3 L120.9,405.7 L121.9,406.1 L122.9,406.5 L123.9,406.9 L124.9,407.3 L126.0,407.7 L127.0,408.1 L128.0,408.5 L129.0,408.9 L130.0,409.4 L131.0,409.8 L132.1,410.2 L133.1,410.6 L134.1,411.0 L135.1,411.4 L136.2,411.8 L137.2,412.3 L138.2,412.7 L139.2,413.1 L140.3,413.5 L141.3,413.9 L142.3,414.4 L143.4,414.8 L144.4,415.2 L145.4,415.7 L146.4,416.1 L147.5,416.6 L148.5,417.0 L149.5,417.5 L150.6,417.9 L151.6,418.4 L152.6,418.9 L153.6,419.3 L154.7,419.8 L155.7,420.3 L156.7,420.8 L157.7,421.3 L158.8,421.8 L159.8,422.3 L160.8,422.8 L161.9,423.3 L162.9,423.8 L163.9,424.4 L164.9,424.9 L166.0,425.4 L167.0,426.0 L168.0,426.5 L169.0,427.1 L170.0,427.7 L171.0,428.2 L172.1,428.8 L173.1,429.4 L174.1,430.0 L175.1,430.6 L176.1,431.2 L177.1,431.8 L178.1,432.5 L179.1,433.1 L180.1,433.8 L181.1,434.5 L182.1,435.2 L183.2,435.9 L184.2,436.7 L185.2,437.4 L186.2,438.2 L187.2,439.1 L188.3,439.9 L189.3,440.8 L190.4,441.8 L191.5,442.8 L192.6,443.8 L193.6,444.9 L194.7,446.0 L195.8,447.2 L196.9,448.4 L197.9,449.7 L199.0,451.0 L200.0,452.4 L201.0,453.8 L202.0,455.3 L203.0,456.9 L204.0,458.5 L205.0,460.2 L206.0,462.0 L207.0,463.8 L208.0,465.6 L209.0,467.6 L210.0,469.5 L211.0,471.5 L212.0,473.5 L213.0,475.6 L214.0,477.6 L215.0,479.7 L216.0,481.8 L217.0,483.9 L218.0,486.0 L219.0,488.2 L220.0,490.4 L221.0,492.6 L222.0,494.9 L223.0,497.3 L224.0,499.6 L225.0,502.1 L226.0,504.5 L227.0,507.0 L228.0,509.5 L229.0,512.0 L230.0,514.5 L231.0,517.0 L232.0,519.5 L233.0,522.0 L234.0,524.6 L235.1,527.1 L236.1,529.6 L237.1,532.1 L238.2,534.6 L239.2,537.2 L240.2,539.7 L241.3,542.3 L242.3,545.0 L243.3,547.6 L244.4,550.4 L245.4,553.2 L246.4,556.1 L247.5,559.1 L248.5,562.2 L249.6,565.6 L250.7,569.0 L251.8,572.6 L252.9,576.4 L254.1,580.3 L255.2,584.4 L256.3,588.8 L257.4,593.4 L258.5,598.4 L259.6,603.7 L260.8,609.3 L261.9,615.0 L263.0,620.7 L264.0,626.3 L265.0,631.9 L266.0,637.5 L267.0,643.0 L268.0,648.5 L269.0,654.0 L270.0,660.0" stroke="#8c1616" stroke-width="2.0"/>
<path d="M269.5,683.7 L270.5,671.2 L271.5,660.4 L272.5,650.9 L273.7,641.7 L274.8,633.4 L276.0,626.2 L277.1,619.9 L278.2,614.5 L279.4,609.8 L280.5,605.7 L281.6,602.0 L282.7,598.8 L283.8,595.9 L284.8,593.2 L285.9,590.6 L287.0,588.1 L288.0,585.7 L289.0,583.3 L290.0,581.0 L291.0,578.8 L292.0,576.5 L293.0,574.2 L294.0,572.0 L295.0,569.6 L296.0,567.3 L297.0,564.9 L298.0,562.6 L299.0,560.3 L300.0,558.2 L301.0,556.1 L302.1,554.1 L303.1,552.3 L304.2,550.5 L305.2,548.8 L306.3,547.1 L307.3,545.4 L308.4,543.6 L309.4,541.8 L310.5,539.8 L311.6,537.7 L312.6,535.5 L313.7,533.2 L314.8,530.9 L315.8,528.6 L316.9,526.3 L317.9,524.2 L319.0,522.2 L320.1,520.4 L321.1,518.7 L322.1,517.2 L323.2,515.7 L324.2,514.3 L325.3,512.8 L326.4,511.3 L327.4,509.7 L328.4,508.0 L329.5,506.0 L330.6,503.7 L331.6,501.3 L332.7,498.6 L333.8,495.9 L334.9,493.2 L335.9,490.6 L337.0,488.3 L338.0,486.2 L339.1,484.3 L340.1,482.5 L341.1,480.7 L342.2,479.1 L343.2,477.4 L344.2,475.8 L345.3,474.2 L346.3,472.5 L347.4,470.8 L348.5,469.0 L349.6,467.3 L350.7,465.6 L351.8,464.0 L352.9,462.6 L354.0,461.2 L355.0,460.0 L356.0,458.9 L357.1,457.9 L358.1,456.9 L359.1,456.0 L360.1,455.2 L361.2,454.3 L362.2,453.4 L363.2,452.4 L364.3,451.5 L365.3,450.5 L366.4,449.5 L367.5,448.5 L368.6,447.5 L369.6,446.6 L370.7,445.6 L371.8,444.7 L372.9,443.7 L373.9,442.9 L375.0,442.0 L376.0,441.2 L377.1,440.5 L378.1,439.7 L379.1,439.0 L380.2,438.3 L381.2,437.6 L382.2,437.0 L383.2,436.3 L384.3,435.6 L385.3,435.0 L386.3,434.3 L387.4,433.7 L388.4,433.0 L389.4,432.3 L390.5,431.7 L391.5,431.0 L392.6,430.3 L393.6,429.6 L394.7,429.0 L395.7,428.3 L396.7,427.7 L397.8,427.0 L398.8,426.4 L399.9,425.8 L400.9,425.2 L402.0,424.6 L403.0,424.0 L404.1,423.4 L405.1,422.9 L406.2,422.3 L407.3,421.8 L408.3,421.3 L409.4,420.8 L410.4,420.3 L411.5,419.8 L412.6,419.3 L413.6,418.8 L414.7,418.3 L415.8,417.9 L416.8,417.4 L417.9,417.0 L418.9,416.6 L419.9,416.2 L420.9,415.8 L421.9,415.5 L422.9,415.1 L423.9,414.7 L424.9,414.4 L425.9,414.0 L427.0,413.7 L428.0,413.4 L429.0,413.0 L430.0,412.7 L431.0,412.4 L432.0,412.0 L433.0,411.7 L434.0,411.3 L435.0,411.0 L436.0,410.6 L437.1,410.3 L438.1,409.9 L439.1,409.6 L440.2,409.3 L441.2,408.9 L442.3,408.6 L443.3,408.2 L444.3,407.9 L445.4,407.5 L446.4,407.2 L447.5,406.9 L448.5,406.5 L449.5,406.2 L450.6,405.8 L451.6,405.5" stroke="#8c1616" stroke-width="1.8" transform="translate(-0.6,-0.2)"/>

<path d="M72.7,391.9 L73.7,392.1 L74.8,392.3 L75.8,392.5 L76.8,392.8 L77.8,393.0 L78.9,393.2 L79.9,393.4 L80.9,393.6 L81.9,393.8 L83.0,394.0 L84.0,394.2 L85.0,394.4 L86.1,394.6 L87.1,394.8 L88.1,395.0 L89.1,395.2 L90.2,395.4 L91.2,395.6 L92.2,395.8 L93.2,396.0 L94.3,396.3 L95.3,396.5 L96.3,396.7 L97.4,396.9 L98.4,397.2 L99.4,397.4 L100.4,397.6 L101.5,397.9 L102.5,398.1 L103.5,398.4 L104.5,398.7 L105.6,398.9 L106.6,399.2 L107.6,399.5 L108.6,399.8 L109.7,400.1 L110.7,400.4 L111.7,400.7 L112.7,401.1 L113.7,401.4 L114.7,401.8 L115.8,402.1 L116.8,402.5 L117.8,402.9 L118.8,403.2 L119.8,403.6 L120.9,404.0 L121.9,404.4 L122.9,404.8 L123.9,405.2 L124.9,405.6 L126.0,406.0 L127.0,406.4 L128.0,406.8 L129.0,407.2 L130.0,407.7 L131.0,408.1 L132.1,408.5 L133.1,408.9 L134.1,409.3 L135.1,409.7 L136.2,410.1 L137.2,410.5 L138.2,411.0 L139.2,411.4 L140.3,411.8 L141.3,412.2 L142.3,412.6 L143.4,413.0 L144.4,413.5 L145.4,413.9 L146.4,414.3 L147.5,414.7 L148.5,415.2 L149.5,415.6 L150.6,416.1 L151.6,416.5 L152.6,417.0 L153.6,417.4 L154.7,417.9 L155.7,418.3 L156.7,418.8 L157.7,419.3 L158.8,419.8 L159.8,420.3 L160.8,420.8 L161.9,421.3 L162.9,421.8 L163.9,422.3 L164.9,422.8 L166.0,423.4 L167.0,423.9 L168.0,424.4 L169.0,425.0 L170.0,425.5 L171.0,426.1 L172.1,426.7 L173.1,427.2 L174.1,427.8 L175.1,428.4 L176.1,429.0 L177.1,429.7 L178.1,430.3 L179.1,431.0 L180.1,431.6 L181.1,432.3 L182.1,433.0 L183.2,433.7 L184.2,434.5 L185.2,435.2 L186.2,436.0 L187.2,436.9 L188.2,437.7 L189.3,438.6 L190.3,439.6 L191.4,440.5 L192.4,441.6 L193.5,442.6 L194.5,443.8 L195.6,444.9 L196.6,446.2 L197.7,447.4 L198.7,448.8 L199.7,450.1 L200.8,451.6 L201.8,453.1 L202.8,454.6 L203.9,456.2 L204.9,457.9 L205.9,459.7 L207.0,461.4 L208.0,463.3 L209.0,465.1 L210.0,467.1 L211.1,469.0 L212.1,471.0 L213.1,473.1 L214.2,475.1 L215.2,477.2 L216.2,479.3 L217.3,481.4 L218.3,483.5 L219.3,485.7 L220.3,487.9 L221.3,490.2 L222.4,492.5 L223.4,494.9 L224.4,497.3 L225.4,499.8 L226.4,502.3 L227.4,504.8 L228.4,507.4 L229.4,510.0 L230.5,512.6 L231.5,515.2 L232.5,517.8 L233.5,520.4 L234.5,523.0 L235.5,525.6 L236.5,528.2 L237.6,530.8 L238.6,533.4 L239.6,536.1 L240.6,538.7 L241.6,541.4 L242.6,544.2 L243.6,546.9 L244.6,549.8 L245.7,552.7 L246.7,555.7 L247.7,558.7 L248.7,561.9 L249.8,565.2 L250.9,568.7 L252.0,572.3 L253.0,576.0 L254.1,579.8 L255.2,583.8 L256.3,588.1 L257.4,592.7 L258.5,597.6 L259.6,602.8 L260.8,608.4 L261.9,614.1 L263.0,619.8 L264.0,625.4 L265.0,631.1 L266.0,636.8 L267.0,642.5 L268.0,648.2 L269.0,653.8 L270.0,660.0" stroke="#5a0c0c" stroke-width="2.0"/>
<path d="M269.5,683.7 L270.5,671.2 L271.5,660.4 L272.5,650.9 L273.7,641.7 L274.8,633.4 L276.0,626.2 L277.1,619.9 L278.2,614.5 L279.4,609.8 L280.5,605.7 L281.6,602.0 L282.7,598.8 L283.8,595.9 L284.8,593.2 L285.9,590.6 L287.0,588.1 L288.0,585.7 L289.0,583.3 L290.0,581.0 L291.0,578.8 L292.0,576.5 L293.0,574.2 L294.0,572.0 L295.0,569.6 L296.0,567.3 L297.0,564.9 L298.0,562.6 L299.0,560.3 L300.0,558.2 L301.0,556.1 L302.1,554.1 L303.1,552.3 L304.2,550.5 L305.2,548.8 L306.3,547.1 L307.3,545.4 L308.4,543.6 L309.4,541.8 L310.5,539.8 L311.6,537.7 L312.6,535.5 L313.7,533.2 L314.8,530.9 L315.8,528.6 L316.9,526.3 L317.9,524.2 L319.0,522.2 L320.1,520.4 L321.1,518.7 L322.1,517.2 L323.2,515.7 L324.2,514.3 L325.3,512.8 L326.4,511.3 L327.4,509.7 L328.4,508.0 L329.5,506.0 L330.6,503.7 L331.6,501.3 L332.7,498.6 L333.8,495.9 L334.9,493.2 L335.9,490.6 L337.0,488.3 L338.0,486.2 L339.1,484.3 L340.1,482.5 L341.1,480.7 L342.2,479.1 L343.2,477.4 L344.2,475.8 L345.3,474.2 L346.3,472.5 L347.4,470.8 L348.5,469.0 L349.6,467.3 L350.7,465.6 L351.8,464.0 L352.9,462.6 L354.0,461.2 L355.0,460.0 L356.0,458.9 L357.1,457.9 L358.1,456.9 L359.1,456.0 L360.1,455.2 L361.2,454.3 L362.2,453.4 L363.2,452.4 L364.3,451.5 L365.3,450.5 L366.4,449.5 L367.5,448.5 L368.6,447.5 L369.6,446.6 L370.7,445.6 L371.8,444.7 L372.9,443.7 L373.9,442.9 L375.0,442.0 L376.0,441.2 L377.1,440.5 L378.1,439.7 L379.1,439.0 L380.2,438.3 L381.2,437.6 L382.2,437.0 L383.2,436.3 L384.3,435.6 L385.3,435.0 L386.3,434.3 L387.4,433.7 L388.4,433.0 L389.4,432.3 L390.5,431.7 L391.5,431.0 L392.6,430.3 L393.6,429.6 L394.7,429.0 L395.7,428.3 L396.7,427.7 L397.8,427.0 L398.8,426.4 L399.9,425.8 L400.9,425.2 L402.0,424.6 L403.0,424.0 L404.1,423.4 L405.1,422.9 L406.2,422.3 L407.3,421.8 L408.3,421.3 L409.4,420.8 L410.4,420.3 L411.5,419.8 L412.6,419.3 L413.6,418.8 L414.7,418.3 L415.8,417.9 L416.8,417.4 L417.9,417.0 L418.9,416.6 L419.9,416.2 L420.9,415.8 L421.9,415.5 L422.9,415.1 L423.9,414.7 L424.9,414.4 L425.9,414.0 L427.0,413.7 L428.0,413.4 L429.0,413.0 L430.0,412.7 L431.0,412.4 L432.0,412.0 L433.0,411.7 L434.0,411.3 L435.0,411.0 L436.0,410.6 L437.1,410.3 L438.1,409.9 L439.1,409.6 L440.2,409.3 L441.2,408.9 L442.3,408.6 L443.3,408.2 L444.3,407.9 L445.4,407.5 L446.4,407.2 L447.5,406.9 L448.5,406.5 L449.5,406.2 L450.6,405.8 L451.6,405.5" stroke="#5a0c0c" stroke-width="1.8" transform="translate(-1.2,-0.3)"/>
<path d="M72.7,387.9 v8" stroke="#5a0c0c" stroke-width="1.3"/><path d="M80.3,389.5 v8" stroke="#5a0c0c" stroke-width="1.3"/><path d="M87.9,391.0 v8" stroke="#5a0c0c" stroke-width="1.3"/><path d="M95.5,392.5 v8" stroke="#5a0c0c" stroke-width="1.3"/><path d="M103.1,394.3 v8" stroke="#5a0c0c" stroke-width="1.3"/><path d="M110.7,396.4 v8" stroke="#5a0c0c" stroke-width="1.3"/><path d="M118.3,399.0 v8" stroke="#5a0c0c" stroke-width="1.3"/><path d="M125.9,402.0 v8" stroke="#5a0c0c" stroke-width="1.3"/><path d="M133.5,405.0 v8" stroke="#5a0c0c" stroke-width="1.3"/><path d="M141.1,408.1 v8" stroke="#5a0c0c" stroke-width="1.3"/><path d="M148.7,411.3 v8" stroke="#5a0c0c" stroke-width="1.3"/><path d="M156.3,414.6 v8" stroke="#5a0c0c" stroke-width="1.3"/><path d="M163.9,418.3 v8" stroke="#5a0c0c" stroke-width="1.3"/><path d="M171.4,422.3 v8" stroke="#5a0c0c" stroke-width="1.3"/><path d="M179.0,426.9 v8" stroke="#5a0c0c" stroke-width="1.3"/><path d="M186.6,432.4 v8" stroke="#5a0c0c" stroke-width="1.3"/><path d="M194.2,439.5 v8" stroke="#5a0c0c" stroke-width="1.3"/><path d="M201.8,449.1 v8" stroke="#5a0c0c" stroke-width="1.3"/><path d="M209.4,462.0 v8" stroke="#5a0c0c" stroke-width="1.3"/><path d="M217.0,476.9 v8" stroke="#5a0c0c" stroke-width="1.3"/><path d="M224.6,493.9 v8" stroke="#5a0c0c" stroke-width="1.3"/><path d="M232.2,513.1 v8" stroke="#5a0c0c" stroke-width="1.3"/><path d="M239.8,532.6 v8" stroke="#5a0c0c" stroke-width="1.3"/><path d="M247.4,553.8 v8" stroke="#5a0c0c" stroke-width="1.3"/><path d="M255.0,579.1 v8" stroke="#5a0c0c" stroke-width="1.3"/><path d="M262.6,613.7 v8" stroke="#5a0c0c" stroke-width="1.3"/><path d="M281.9,593.5 v8" stroke="#5a0c0c" stroke-width="1.3"/><path d="M289.5,575.1 v8" stroke="#5a0c0c" stroke-width="1.3"/><path d="M297.1,557.6 v8" stroke="#5a0c0c" stroke-width="1.3"/><path d="M304.6,543.4 v8" stroke="#5a0c0c" stroke-width="1.3"/><path d="M312.2,529.4 v8" stroke="#5a0c0c" stroke-width="1.3"/><path d="M319.8,514.4 v8" stroke="#5a0c0c" stroke-width="1.3"/><path d="M327.4,503.1 v8" stroke="#5a0c0c" stroke-width="1.3"/><path d="M335.0,485.5 v8" stroke="#5a0c0c" stroke-width="1.3"/><path d="M342.6,472.0 v8" stroke="#5a0c0c" stroke-width="1.3"/><path d="M350.2,460.2 v8" stroke="#5a0c0c" stroke-width="1.3"/><path d="M357.8,451.8 v8" stroke="#5a0c0c" stroke-width="1.3"/><path d="M365.4,445.0 v8" stroke="#5a0c0c" stroke-width="1.3"/><path d="M373.0,438.3 v8" stroke="#5a0c0c" stroke-width="1.3"/><path d="M380.6,432.9 v8" stroke="#5a0c0c" stroke-width="1.3"/><path d="M388.2,428.0 v8" stroke="#5a0c0c" stroke-width="1.3"/><path d="M395.8,423.1 v8" stroke="#5a0c0c" stroke-width="1.3"/><path d="M403.4,418.8 v8" stroke="#5a0c0c" stroke-width="1.3"/><path d="M411.0,415.2 v8" stroke="#5a0c0c" stroke-width="1.3"/><path d="M418.6,411.9 v8" stroke="#5a0c0c" stroke-width="1.3"/><path d="M426.2,409.2 v8" stroke="#5a0c0c" stroke-width="1.3"/><path d="M433.8,406.7 v8" stroke="#5a0c0c" stroke-width="1.3"/><path d="M441.4,404.1 v8" stroke="#5a0c0c" stroke-width="1.3"/><path d="M449.0,401.6 v8" stroke="#5a0c0c" stroke-width="1.3"/>
</g>
<path d="M262,620 L265.5,570 L269,620 L272.5,563 L276,625 L279.5,578 L283,607 L286.5,564 L290,609 L293,580" fill="none" stroke="#5a0c0c" stroke-width="1.6"/>
<path d="M258,600 L262,585 L266,650 L270,590 L274,640 L278,600 L283,612 L288,580 L292,606 L296,575" fill="none" stroke="#3a6fd8" stroke-width="1.3"/>
<path d="M264,630 L270.5,683.7 L276,625" fill="none" stroke="#ff1a1a" stroke-width="3"/>
<path d="M267,650 L269.5,683.7 L272,660" fill="none" stroke="#f2c02a" stroke-width="1.6"/>
<path d="M142.4,576.7 L255,424" stroke="#000" stroke-width="1.3"/>
<polygon points="261,416.5 250.5,423.5 257.5,428.5" fill="#000"/>
<text transform="translate(155.58,411.30) scale(1.0118,1)" font-family="Liberation Sans" font-size="30.20" fill="#000">I-V Light intensity</text>
<rect x="350.3" y="496.3" width="31.6" height="2" fill="#5c0a6e"/>
<rect x="362.1" y="493.3" width="8" height="8" fill="#5c0a6e"/>
<text x="386" y="502.3" font-family="Liberation Sans, sans-serif" font-size="14" fill="#000">DARK</text>
<rect x="350.3" y="513.0" width="31.6" height="2" fill="#8a3ad6"/>
<circle cx="366.1" cy="514.0" r="5.5" fill="#fff" stroke="#8a3ad6" stroke-width="1.3"/>
<text x="386" y="518.8" font-family="Liberation Sans, sans-serif" font-size="14" fill="#000">1 μW/cm<tspan font-size="9.5" dy="-5.5">2</tspan></text>
<rect x="350.3" y="529.7" width="31.6" height="2" fill="#3a6fd8"/>
<polygon points="361.9,526.2 370.3,526.2 366.1,535.7" fill="#fff" stroke="#3a6fd8" stroke-width="1.3"/>
<text x="386" y="535.7" font-family="Liberation Sans, sans-serif" font-size="14" fill="#000">10</text>
<rect x="350.3" y="546.5" width="31.6" height="2" fill="#33d6e6"/>
<polygon points="366.1,542.0 370.1,547.5 366.1,553.0 362.1,547.5" fill="none" stroke="#33d6e6" stroke-width="1.3"/>
<text x="386" y="552.5" font-family="Liberation Sans, sans-serif" font-size="14" fill="#000">50</text>
<rect x="350.3" y="563.2" width="31.6" height="2" fill="#66e23a"/>
<polygon points="361.6,564.2 370.1,558.7 370.1,569.7" fill="none" stroke="#66e23a" stroke-width="1.3"/>
<text x="386" y="569.2" font-family="Liberation Sans, sans-serif" font-size="14" fill="#000">100</text>
<rect x="350.3" y="579.9" width="31.6" height="2" fill="#f2b62a"/>
<polygon points="366.1,575.7 364.7,579.0 361.2,579.3 363.9,581.6 363.0,585.1 366.1,583.2 369.2,585.1 368.3,581.6 371.0,579.3 367.5,579.0" fill="none" stroke="#f2b62a" stroke-width="1.3"/>
<text x="386" y="585.9" font-family="Liberation Sans, sans-serif" font-size="14" fill="#000">200</text>
<rect x="350.3" y="596.6" width="31.6" height="2" fill="#ea6038"/>
<circle cx="366.1" cy="597.6" r="5.5" fill="none" stroke="#ea6038" stroke-width="1.3"/>
<text x="386" y="602.6" font-family="Liberation Sans, sans-serif" font-size="14" fill="#000">500</text>
<rect x="350.3" y="613.3" width="31.6" height="2" fill="#ff2424"/>
<path d="M361.6,614.3 h9 M366.1,609.8 v9" stroke="#ff2424" stroke-width="1.3"/>
<text x="386" y="619.3" font-family="Liberation Sans, sans-serif" font-size="14" fill="#000">750</text>
<rect x="350.3" y="630.1" width="31.6" height="2" fill="#e02a2a"/>
<path d="M361.6,626.6 l9,9 M370.6,626.6 l-9,9" stroke="#e02a2a" stroke-width="1.3"/>
<text x="386" y="636.1" font-family="Liberation Sans, sans-serif" font-size="14" fill="#000">1000</text>
<rect x="350.3" y="646.8" width="31.6" height="2" fill="#8c1616"/>

<text x="386" y="652.8" font-family="Liberation Sans, sans-serif" font-size="14" fill="#000">2500</text>
<rect x="350.3" y="663.5" width="31.6" height="2" fill="#5a0c0c"/>
<path d="M366.1,660.5 v8" stroke="#5a0c0c" stroke-width="1.3"/>
<text x="386" y="669.5" font-family="Liberation Sans, sans-serif" font-size="14" fill="#000">5000</text>
<g stroke="#1a1a1a" stroke-width="1.2" fill="none">
<rect x="509.8" y="379.8" width="356.5" height="304.3"/>
<path d="M509.6,684.1 v-5.5 M509.6,379.8 v5.5 M554.1,684.1 v-3.5 M554.1,379.8 v3.5 M598.7,684.1 v-5.5 M598.7,379.8 v5.5 M643.2,684.1 v-3.5 M643.2,379.8 v3.5 M687.8,684.1 v-5.5 M687.8,379.8 v5.5 M732.4,684.1 v-3.5 M732.4,379.8 v3.5 M776.9,684.1 v-5.5 M776.9,379.8 v5.5 M821.4,684.1 v-3.5 M821.4,379.8 v3.5 M866.0,684.1 v-5.5 M866.0,379.8 v5.5 M509.8,651.9 h5.5 M866.3,651.9 h-5.5 M509.8,624.8 h3.5 M866.3,624.8 h-3.5 M509.8,597.6 h5.5 M866.3,597.6 h-5.5 M509.8,570.4 h3.5 M866.3,570.4 h-3.5 M509.8,543.3 h5.5 M866.3,543.3 h-5.5 M509.8,516.1 h3.5 M866.3,516.1 h-3.5 M509.8,489.0 h5.5 M866.3,489.0 h-5.5 M509.8,461.8 h3.5 M866.3,461.8 h-3.5 M509.8,434.7 h5.5 M866.3,434.7 h-5.5 M509.8,407.5 h3.5 M866.3,407.5 h-3.5 M509.8,380.4 h5.5 M866.3,380.4 h-5.5 M509.8,670 h3.5 M866.3,670 h-3.5 "/>
</g>
<text x="509.6" y="706" font-family="Liberation Sans, sans-serif" font-size="18" text-anchor="middle" fill="#000">-3</text>
<text x="598.7" y="706" font-family="Liberation Sans, sans-serif" font-size="18" text-anchor="middle" fill="#000">-2</text>
<text x="687.8" y="706" font-family="Liberation Sans, sans-serif" font-size="18" text-anchor="middle" fill="#000">-1</text>
<text x="776.9" y="706" font-family="Liberation Sans, sans-serif" font-size="18" text-anchor="middle" fill="#000">0</text>
<text x="866.0" y="706" font-family="Liberation Sans, sans-serif" font-size="18" text-anchor="middle" fill="#000">1</text>
<text x="688" y="730.5" font-family="Liberation Sans, sans-serif" font-size="20" text-anchor="middle" fill="#000">V (V)</text>
<text x="504" y="385.6" font-family="Liberation Sans, sans-serif" font-size="18" text-anchor="end" fill="#000">8</text>
<text x="504" y="439.9" font-family="Liberation Sans, sans-serif" font-size="18" text-anchor="end" fill="#000">7</text>
<text x="504" y="494.2" font-family="Liberation Sans, sans-serif" font-size="18" text-anchor="end" fill="#000">6</text>
<text x="504" y="548.5" font-family="Liberation Sans, sans-serif" font-size="18" text-anchor="end" fill="#000">5</text>
<text x="504" y="602.8" font-family="Liberation Sans, sans-serif" font-size="18" text-anchor="end" fill="#000">4</text>
<text x="504" y="657.1" font-family="Liberation Sans, sans-serif" font-size="18" text-anchor="end" fill="#000">3</text>
<text x="504" y="690" font-family="Liberation Sans, sans-serif" font-size="18" text-anchor="end" fill="#000">0</text>
<text transform="translate(487.5,533.7) rotate(-90)" font-family="Liberation Sans, sans-serif" font-size="20.4" text-anchor="middle" fill="#000">C<tspan font-size="12.5" dy="-8">-2</tspan><tspan dy="8"> (10</tspan><tspan font-size="12.5" dy="-8">18</tspan><tspan dy="8">F</tspan><tspan font-size="12.5" dy="-8">-2</tspan><tspan dy="8">)</tspan></text>
<g fill="none">
<path d="M510.5,618.6 L511.5,618.1 L512.6,617.6 L513.6,617.2 L514.6,616.7 L515.7,616.2 L516.7,615.7 L517.8,615.2 L518.8,614.7 L519.8,614.3 L520.9,613.8 L521.9,613.3 L522.9,612.9 L524.0,612.4 L525.0,612.0 L526.0,611.6 L527.0,611.1 L528.0,610.7 L529.0,610.3 L530.0,609.8 L531.0,609.3 L532.0,608.9 L533.0,608.4 L534.0,608.0 L535.0,607.6 L536.0,607.2 L537.0,606.8 L538.0,606.4 L539.0,606.1 L540.0,605.9 L541.0,605.6 L542.0,605.4 L543.0,605.3 L544.0,605.1 L545.0,605.1 L546.0,605.0 L547.0,605.0 L548.0,605.0 L549.0,604.9 L550.0,604.9 L551.0,604.9 L552.0,604.9 L553.0,604.9 L554.0,604.9 L555.0,604.9 L556.0,604.9 L557.0,604.9 L558.0,604.9 L559.0,604.9 L560.0,604.9 L561.0,604.9 L562.0,604.9 L563.0,604.9 L564.0,604.9 L565.0,604.9 L566.0,604.8 L567.0,604.8 L568.0,604.8 L569.0,604.8 L570.0,604.8 L571.0,604.8 L572.0,604.7 L573.1,604.7 L574.1,604.7 L575.1,604.6 L576.1,604.5 L577.1,604.5 L578.1,604.4 L579.2,604.3 L580.2,604.2 L581.2,604.1 L582.2,604.0 L583.2,603.9 L584.3,603.8 L585.3,603.7 L586.3,603.6 L587.3,603.5 L588.3,603.3 L589.4,603.2 L590.4,603.1 L591.4,603.0 L592.4,602.8 L593.4,602.7 L594.5,602.6 L595.5,602.4 L596.5,602.3 L597.5,602.2 L598.5,602.1 L599.5,601.9 L600.6,601.8 L601.6,601.7 L602.6,601.6 L603.6,601.5 L604.6,601.4 L605.7,601.3 L606.7,601.2 L607.7,601.1 L608.7,601.0 L609.7,600.9 L610.8,600.8 L611.8,600.6 L612.8,600.5 L613.8,600.4 L614.8,600.3 L615.8,600.2 L616.9,600.1 L617.9,600.0 L618.9,599.9 L619.9,599.8 L620.9,599.7 L622.0,599.5 L623.0,599.4 L624.0,599.3 L625.0,599.2 L626.0,599.0 L627.1,598.9 L628.1,598.8 L629.1,598.6 L630.1,598.5 L631.1,598.3 L632.1,598.2 L633.2,598.0 L634.2,597.8 L635.2,597.7 L636.2,597.5 L637.2,597.3 L638.3,597.1 L639.3,596.9 L640.3,596.7 L641.3,596.4 L642.3,596.2 L643.4,596.0 L644.4,595.7 L645.4,595.4 L646.4,595.2 L647.4,594.9 L648.4,594.6 L649.5,594.3 L650.5,594.0 L651.5,593.7 L652.5,593.4 L653.5,593.1 L654.6,592.7 L655.6,592.4 L656.6,592.1 L657.6,591.8 L658.6,591.4 L659.6,591.1 L660.7,590.8 L661.7,590.5 L662.7,590.1 L663.7,589.8 L664.7,589.5 L665.8,589.1 L666.8,588.8 L667.8,588.5 L668.8,588.1 L669.8,587.8 L670.8,587.4 L671.9,587.0 L672.9,586.6 L673.9,586.1 L674.9,585.7 L675.9,585.3 L676.9,584.8 L678.0,584.4 L679.0,583.9 L680.0,583.4 L681.0,582.9 L682.0,582.5 L683.0,582.0 L684.0,581.5 L685.1,581.1 L686.1,580.7 L687.1,580.2 L688.1,579.8 L689.1,579.5 L690.1,579.1 L691.2,578.8 L692.2,578.5 L693.2,578.2 L694.2,577.9 L695.2,577.7 L696.2,577.5 L697.3,577.4 L698.3,577.3 L699.3,577.2 L700.3,577.1 L701.3,577.1 L702.4,577.1 L703.4,577.1 L704.4,577.1 L705.5,577.1 L706.5,577.1 L707.6,577.2 L708.6,577.2 L709.6,577.2 L710.7,577.2 L711.7,577.2 L712.7,577.2 L713.8,577.3 L714.8,577.3 L715.9,577.3 L716.9,577.3 L717.9,577.3 L719.0,577.3 L720.0,577.3 L721.0,577.2 L722.0,577.2 L723.0,577.1 L724.0,577.0 L725.0,576.9 L726.0,576.8 L727.0,576.6 L728.0,576.5 L729.1,576.3 L730.1,576.1 L731.1,575.9 L732.1,575.7 L733.1,575.5 L734.1,575.3 L735.1,575.0 L736.1,574.8 L737.1,574.5 L738.1,574.3 L739.1,574.0 L740.1,573.8 L741.1,573.5 L742.1,573.3 L743.1,573.1 L744.1,572.9 L745.1,572.7 L746.1,572.5 L747.2,572.3 L748.2,572.2 L749.2,572.0 L750.2,571.9 L751.2,571.8 L752.2,571.7 L753.2,571.6 L754.2,571.6 L755.2,571.5 L756.2,571.5 L757.2,571.5 L758.3,571.5 L759.3,571.5 L760.3,571.5 L761.3,571.5 L762.3,571.5 L763.3,571.5 L764.4,571.5 L765.4,571.5 L766.4,571.6 L767.4,571.6 L768.4,571.6 L769.4,571.6 L770.5,571.6 L771.5,571.6 L772.5,571.6 L773.5,571.6 L774.5,571.7 L775.5,571.7 L776.6,571.7 L777.6,571.7 L778.6,571.7 L779.6,571.7 L780.6,571.7 L781.7,571.8 L782.7,571.8 L783.7,571.8 L784.7,571.8 L785.7,571.8 L786.7,571.8 L787.8,571.8 L788.8,571.8 L789.8,571.9 L790.8,571.9 L791.8,571.9 L792.8,571.9 L793.9,571.9 L794.9,571.9 L795.9,571.9 L796.9,571.9 L797.9,572.0 L798.9,572.0 L800.0,572.0 L801.0,572.0 L802.0,572.0 L803.0,572.0 L804.0,572.0 L805.0,572.0 L806.1,572.0 L807.1,572.0 L808.1,572.0 L809.1,572.0 L810.1,572.0 L811.1,572.0 L812.1,572.0 L813.1,572.0 L814.1,571.9 L815.1,571.9 L816.2,571.9 L817.2,571.9 L818.2,571.8 L819.2,571.8 L820.2,571.8 L821.2,571.8 L822.2,571.7 L823.2,571.7 L824.2,571.6 L825.2,571.6 L826.2,571.5 L827.2,571.5 L828.2,571.5 L829.2,571.4 L830.3,571.4 L831.3,571.3 L832.3,571.2 L833.3,571.2 L834.3,571.1 L835.3,571.1 L836.3,571.0 L837.3,571.0 L838.3,570.9 L839.3,570.8 L840.3,570.8 L841.3,570.7 L842.3,570.7 L843.3,570.6 L844.4,570.5 L845.4,570.5 L846.4,570.4 L847.4,570.3 L848.4,570.3 L849.4,570.2 L850.4,570.1 L851.4,570.1 L852.4,570.0 L853.4,570.0 L854.4,569.9 L855.4,569.8 L856.4,569.8 L857.4,569.7 L858.5,569.7 L859.5,569.6 L860.5,569.6 L861.5,569.5 L862.5,569.4 L863.5,569.4 L864.5,569.3 L865.5,569.3" stroke="#e01e1e" stroke-width="2.6" stroke-dasharray="2.5,9"/>
<path d="M510.5,596.5 L511.5,596.4 L512.5,596.4 L513.6,596.3 L514.6,596.3 L515.6,596.2 L516.6,596.2 L517.6,596.1 L518.6,596.1 L519.7,596.0 L520.7,596.0 L521.7,595.9 L522.7,595.9 L523.7,595.8 L524.7,595.8 L525.8,595.7 L526.8,595.7 L527.8,595.6 L528.8,595.6 L529.8,595.5 L530.8,595.5 L531.9,595.4 L532.9,595.4 L533.9,595.3 L534.9,595.3 L535.9,595.2 L536.9,595.2 L538.0,595.1 L539.0,595.1 L540.0,595.0 L541.0,594.9 L542.0,594.9 L543.0,594.8 L544.0,594.8 L545.0,594.7 L546.0,594.6 L547.0,594.6 L548.0,594.5 L549.0,594.4 L550.0,594.4 L551.0,594.3 L552.0,594.2 L553.0,594.1 L554.0,594.1 L555.0,594.0 L556.0,593.9 L557.0,593.9 L558.0,593.8 L559.0,593.8 L560.0,593.7 L561.0,593.7 L562.0,593.6 L563.0,593.6 L564.0,593.5 L565.0,593.5 L566.0,593.5 L567.0,593.4 L568.0,593.4 L569.0,593.4 L570.0,593.4 L571.0,593.4 L572.0,593.4 L573.1,593.4 L574.1,593.4 L575.1,593.4 L576.1,593.4 L577.1,593.4 L578.1,593.4 L579.2,593.4 L580.2,593.4 L581.2,593.4 L582.2,593.4 L583.2,593.4 L584.3,593.4 L585.3,593.4 L586.3,593.4 L587.3,593.4 L588.3,593.4 L589.4,593.4 L590.4,593.4 L591.4,593.4 L592.4,593.4 L593.4,593.4 L594.5,593.4 L595.5,593.4 L596.5,593.4 L597.5,593.4 L598.5,593.4 L599.5,593.4 L600.6,593.4 L601.6,593.4 L602.6,593.4 L603.6,593.4 L604.6,593.4 L605.7,593.4 L606.7,593.4 L607.7,593.4 L608.7,593.3 L609.7,593.3 L610.8,593.3 L611.8,593.2 L612.8,593.2 L613.8,593.2 L614.8,593.1 L615.8,593.1 L616.9,593.0 L617.9,593.0 L618.9,592.9 L619.9,592.9 L620.9,592.8 L622.0,592.8 L623.0,592.7 L624.0,592.6 L625.0,592.6 L626.0,592.5 L627.1,592.4 L628.1,592.4 L629.1,592.3 L630.1,592.2 L631.1,592.1 L632.1,592.0 L633.2,592.0 L634.2,591.9 L635.2,591.8 L636.2,591.7 L637.2,591.6 L638.3,591.4 L639.3,591.3 L640.3,591.1 L641.3,591.0 L642.3,590.8 L643.4,590.6 L644.4,590.4 L645.4,590.1 L646.4,589.9 L647.4,589.6 L648.4,589.4 L649.5,589.1 L650.5,588.8 L651.5,588.6 L652.5,588.3 L653.5,588.0 L654.6,587.7 L655.6,587.4 L656.6,587.0 L657.6,586.7 L658.6,586.4 L659.6,586.1 L660.7,585.8 L661.7,585.5 L662.7,585.1 L663.7,584.8 L664.7,584.5 L665.8,584.2 L666.8,583.9 L667.8,583.6 L668.8,583.3 L669.8,583.0 L670.8,582.6 L671.9,582.3 L672.9,582.0 L673.9,581.6 L674.9,581.3 L675.9,580.9 L676.9,580.5 L678.0,580.2 L679.0,579.8 L680.0,579.4 L681.0,579.0 L682.0,578.6 L683.0,578.2 L684.0,577.8 L685.1,577.4 L686.1,577.1 L687.1,576.7 L688.1,576.3 L689.1,575.9 L690.1,575.5 L691.2,575.2 L692.2,574.8 L693.2,574.4 L694.2,574.1 L695.2,573.8 L696.2,573.4 L697.3,573.1 L698.3,572.8 L699.3,572.5 L700.3,572.2 L701.3,571.9 L702.4,571.6 L703.4,571.3 L704.4,571.0 L705.5,570.8 L706.5,570.5 L707.6,570.2 L708.6,569.9 L709.6,569.7 L710.7,569.4 L711.7,569.2 L712.7,568.9 L713.8,568.7 L714.8,568.5 L715.9,568.3 L716.9,568.1 L717.9,567.9 L719.0,567.8 L720.0,567.6 L721.0,567.5 L722.0,567.4 L723.0,567.2 L724.1,567.1 L725.1,567.0 L726.1,566.9 L727.1,566.8 L728.1,566.7 L729.1,566.5 L730.2,566.4 L731.2,566.3 L732.2,566.2 L733.2,566.1 L734.2,566.1 L735.2,566.0 L736.2,565.9 L737.3,565.8 L738.3,565.8 L739.3,565.7 L740.3,565.7 L741.3,565.6 L742.3,565.6 L743.4,565.6 L744.4,565.5 L745.4,565.5 L746.4,565.5 L747.4,565.5 L748.4,565.5 L749.4,565.5 L750.4,565.5 L751.4,565.5 L752.4,565.5 L753.4,565.5 L754.4,565.5 L755.4,565.5 L756.4,565.5 L757.4,565.5 L758.4,565.5 L759.4,565.5 L760.4,565.5 L761.4,565.5 L762.4,565.5 L763.4,565.5 L764.4,565.5 L765.4,565.5 L766.4,565.5 L767.4,565.5 L768.5,565.5 L769.5,565.5 L770.5,565.5 L771.5,565.5 L772.5,565.5 L773.5,565.5 L774.5,565.5 L775.5,565.5 L776.5,565.5 L777.5,565.5 L778.5,565.5 L779.5,565.5 L780.5,565.5 L781.5,565.5 L782.5,565.5 L783.5,565.5 L784.5,565.5 L785.5,565.5 L786.5,565.5 L787.5,565.5 L788.5,565.5 L789.5,565.5 L790.5,565.5 L791.5,565.5 L792.5,565.5 L793.5,565.5 L794.6,565.5 L795.6,565.5 L796.6,565.5 L797.6,565.6 L798.6,565.6 L799.6,565.6 L800.7,565.6 L801.7,565.6 L802.7,565.7 L803.7,565.7 L804.7,565.7 L805.7,565.7 L806.7,565.8 L807.8,565.8 L808.8,565.8 L809.8,565.9 L810.8,565.9 L811.8,565.9 L812.8,566.0 L813.9,566.0 L814.9,566.0 L815.9,566.1 L816.9,566.1 L817.9,566.1 L818.9,566.2 L819.9,566.2 L821.0,566.2 L822.0,566.3 L823.0,566.3 L824.0,566.3 L825.0,566.4 L826.0,566.4 L827.1,566.4 L828.1,566.5 L829.1,566.5 L830.1,566.5 L831.1,566.5 L832.1,566.6 L833.1,566.6 L834.2,566.6 L835.2,566.6 L836.2,566.6 L837.2,566.7 L838.2,566.7 L839.2,566.7 L840.3,566.7 L841.3,566.7 L842.3,566.7 L843.3,566.7 L844.3,566.6 L845.3,566.6 L846.3,566.5 L847.3,566.5 L848.3,566.4 L849.4,566.2 L850.4,566.1 L851.4,565.9 L852.4,565.8 L853.4,565.6 L854.4,565.4 L855.4,565.2 L856.4,565.0 L857.4,564.8 L858.4,564.6 L859.4,564.3 L860.5,564.1 L861.5,563.9 L862.5,563.7 L863.5,563.5 L864.5,563.4 L865.5,563.2" stroke="#d22020" stroke-width="2.4" stroke-dasharray="10,8.5"/>
<path d="M510.5,579.4 L511.5,579.3 L512.5,579.2 L513.6,579.1 L514.6,579.0 L515.6,578.9 L516.6,578.8 L517.6,578.7 L518.6,578.6 L519.7,578.5 L520.7,578.4 L521.7,578.3 L522.7,578.2 L523.7,578.1 L524.7,578.0 L525.8,577.9 L526.8,577.8 L527.8,577.7 L528.8,577.6 L529.8,577.5 L530.8,577.4 L531.9,577.3 L532.9,577.3 L533.9,577.2 L534.9,577.1 L535.9,577.1 L536.9,577.1 L538.0,577.0 L539.0,577.0 L540.0,577.0 L541.0,577.0 L542.0,577.0 L543.0,577.0 L544.0,577.0 L545.0,577.0 L546.0,577.0 L547.0,577.0 L548.0,577.0 L549.0,577.0 L550.0,577.0 L551.0,577.0 L552.0,577.0 L553.0,577.0 L554.0,577.0 L555.0,577.0 L556.0,577.0 L557.0,577.0 L558.0,577.0 L559.0,577.0 L560.0,577.0 L561.0,577.1 L562.0,577.1 L563.0,577.1 L564.0,577.1 L565.0,577.1 L566.0,577.1 L567.0,577.1 L568.0,577.1 L569.0,577.1 L570.0,577.1 L571.0,577.1 L572.0,577.2 L573.1,577.2 L574.1,577.2 L575.1,577.3 L576.1,577.4 L577.1,577.4 L578.1,577.5 L579.2,577.6 L580.2,577.7 L581.2,577.8 L582.2,577.9 L583.2,578.0 L584.3,578.1 L585.3,578.2 L586.3,578.3 L587.3,578.4 L588.3,578.5 L589.4,578.6 L590.4,578.7 L591.4,578.8 L592.4,578.9 L593.4,579.0 L594.5,579.1 L595.5,579.1 L596.5,579.2 L597.5,579.2 L598.5,579.3 L599.5,579.3 L600.6,579.4 L601.6,579.4 L602.6,579.4 L603.6,579.4 L604.6,579.4 L605.7,579.4 L606.7,579.3 L607.7,579.3 L608.7,579.3 L609.7,579.2 L610.8,579.2 L611.8,579.1 L612.8,579.1 L613.8,579.0 L614.8,578.9 L615.8,578.9 L616.9,578.8 L617.9,578.7 L618.9,578.6 L619.9,578.6 L620.9,578.5 L622.0,578.4 L623.0,578.3 L624.0,578.2 L625.0,578.1 L626.0,578.0 L627.1,577.9 L628.1,577.8 L629.1,577.7 L630.1,577.6 L631.1,577.5 L632.1,577.4 L633.2,577.3 L634.2,577.2 L635.2,577.1 L636.2,577.0 L637.2,576.9 L638.3,576.8 L639.3,576.7 L640.3,576.6 L641.3,576.4 L642.3,576.3 L643.4,576.2 L644.4,576.0 L645.4,575.9 L646.4,575.8 L647.4,575.6 L648.4,575.5 L649.5,575.3 L650.5,575.2 L651.5,575.0 L652.5,574.9 L653.5,574.7 L654.6,574.5 L655.6,574.4 L656.6,574.2 L657.6,574.0 L658.6,573.9 L659.6,573.7 L660.7,573.5 L661.7,573.3 L662.7,573.1 L663.7,573.0 L664.7,572.8 L665.8,572.6 L666.8,572.4 L667.8,572.2 L668.8,572.0 L669.8,571.8 L670.8,571.6 L671.9,571.3 L672.9,571.1 L673.9,570.8 L674.9,570.6 L675.9,570.3 L676.9,570.1 L678.0,569.8 L679.0,569.5 L680.0,569.2 L681.0,569.0 L682.0,568.7 L683.0,568.4 L684.0,568.1 L685.1,567.8 L686.1,567.5 L687.1,567.2 L688.1,566.9 L689.1,566.7 L690.1,566.4 L691.2,566.1 L692.2,565.9 L693.2,565.6 L694.2,565.4 L695.2,565.2 L696.2,564.9 L697.3,564.7 L698.3,564.5 L699.3,564.3 L700.3,564.1 L701.3,563.9 L702.4,563.8 L703.4,563.6 L704.4,563.4 L705.5,563.3 L706.5,563.1 L707.6,563.0 L708.6,562.8 L709.6,562.7 L710.7,562.5 L711.7,562.4 L712.7,562.3 L713.8,562.1 L714.8,562.0 L715.9,561.9 L716.9,561.8 L717.9,561.6 L719.0,561.5 L720.0,561.4 L721.0,561.3 L722.0,561.2 L723.0,561.0 L724.0,560.9 L725.0,560.8 L726.0,560.6 L727.0,560.5 L728.0,560.4 L729.1,560.2 L730.1,560.1 L731.1,560.0 L732.1,559.8 L733.1,559.7 L734.1,559.6 L735.1,559.4 L736.1,559.3 L737.1,559.2 L738.1,559.1 L739.1,559.0 L740.1,558.8 L741.1,558.7 L742.1,558.6 L743.1,558.5 L744.1,558.4 L745.1,558.4 L746.1,558.3 L747.2,558.2 L748.2,558.1 L749.2,558.1 L750.2,558.0 L751.2,558.0 L752.2,558.0 L753.2,557.9 L754.2,557.9 L755.2,557.9 L756.2,557.9 L757.2,557.9 L758.3,557.9 L759.3,557.9 L760.3,558.0 L761.3,558.0 L762.3,558.0 L763.3,558.0 L764.4,558.1 L765.4,558.1 L766.4,558.1 L767.4,558.2 L768.4,558.2 L769.4,558.3 L770.5,558.3 L771.5,558.4 L772.5,558.4 L773.5,558.5 L774.5,558.6 L775.5,558.6 L776.6,558.7 L777.6,558.7 L778.6,558.8 L779.6,558.9 L780.6,558.9 L781.7,559.0 L782.7,559.1 L783.7,559.1 L784.7,559.2 L785.7,559.3 L786.7,559.4 L787.8,559.4 L788.8,559.5 L789.8,559.6 L790.8,559.6 L791.8,559.7 L792.8,559.8 L793.9,559.8 L794.9,559.9 L795.9,559.9 L796.9,560.0 L797.9,560.1 L798.9,560.1 L800.0,560.2 L801.0,560.2 L802.0,560.3 L803.0,560.3 L804.0,560.4 L805.0,560.4 L806.1,560.4 L807.1,560.5 L808.1,560.5 L809.1,560.5 L810.1,560.6 L811.1,560.6 L812.1,560.6 L813.1,560.6 L814.1,560.7 L815.1,560.7 L816.1,560.7 L817.1,560.8 L818.1,560.8 L819.1,560.8 L820.1,560.8 L821.1,560.9 L822.1,560.9 L823.1,560.9 L824.1,561.0 L825.1,561.0 L826.1,561.0 L827.1,561.0 L828.1,561.1 L829.1,561.1 L830.2,561.1 L831.2,561.1 L832.2,561.2 L833.2,561.2 L834.2,561.2 L835.2,561.2 L836.2,561.2 L837.2,561.3 L838.2,561.3 L839.2,561.3 L840.2,561.3 L841.2,561.3 L842.2,561.3 L843.2,561.3 L844.2,561.4 L845.2,561.4 L846.2,561.4 L847.2,561.4 L848.2,561.4 L849.2,561.4 L850.2,561.4 L851.2,561.4 L852.2,561.4 L853.2,561.3 L854.2,561.2 L855.3,561.1 L856.3,560.9 L857.3,560.7 L858.3,560.5 L859.4,560.3 L860.4,560.0 L861.4,559.8 L862.4,559.5 L863.5,559.3 L864.5,559.0 L865.5,558.8" stroke="#c42424" stroke-width="2.0"/>
<path d="M510.5,552.8 L511.5,552.8 L512.5,552.7 L513.6,552.7 L514.6,552.7 L515.6,552.7 L516.6,552.6 L517.6,552.6 L518.6,552.6 L519.7,552.6 L520.7,552.5 L521.7,552.5 L522.7,552.5 L523.7,552.4 L524.7,552.4 L525.8,552.4 L526.8,552.4 L527.8,552.3 L528.8,552.3 L529.8,552.3 L530.8,552.3 L531.9,552.2 L532.9,552.2 L533.9,552.2 L534.9,552.1 L535.9,552.1 L536.9,552.1 L538.0,552.1 L539.0,552.0 L540.0,552.0 L541.0,552.0 L542.0,551.9 L543.0,551.9 L544.0,551.9 L545.0,551.8 L546.0,551.8 L547.0,551.8 L548.0,551.7 L549.0,551.7 L550.0,551.6 L551.0,551.6 L552.0,551.6 L553.0,551.5 L554.0,551.5 L555.0,551.4 L556.0,551.4 L557.0,551.4 L558.0,551.3 L559.0,551.3 L560.0,551.3 L561.0,551.2 L562.0,551.2 L563.0,551.2 L564.0,551.2 L565.0,551.1 L566.0,551.1 L567.0,551.1 L568.0,551.1 L569.0,551.1 L570.0,551.1 L571.0,551.1 L572.0,551.1 L573.1,551.1 L574.1,551.1 L575.1,551.2 L576.1,551.2 L577.1,551.2 L578.1,551.2 L579.2,551.3 L580.2,551.3 L581.2,551.3 L582.2,551.4 L583.2,551.4 L584.3,551.5 L585.3,551.5 L586.3,551.6 L587.3,551.6 L588.3,551.7 L589.4,551.8 L590.4,551.8 L591.4,551.9 L592.4,551.9 L593.4,552.0 L594.5,552.1 L595.5,552.2 L596.5,552.2 L597.5,552.3 L598.5,552.4 L599.5,552.5 L600.6,552.5 L601.6,552.6 L602.6,552.7 L603.6,552.8 L604.6,552.9 L605.7,553.0 L606.7,553.2 L607.7,553.3 L608.7,553.5 L609.7,553.6 L610.8,553.8 L611.8,554.0 L612.8,554.2 L613.8,554.4 L614.8,554.6 L615.8,554.9 L616.9,555.1 L617.9,555.3 L618.9,555.6 L619.9,555.8 L620.9,556.1 L622.0,556.3 L623.0,556.6 L624.0,556.8 L625.0,557.0 L626.0,557.3 L627.1,557.5 L628.1,557.7 L629.1,558.0 L630.1,558.2 L631.1,558.4 L632.1,558.6 L633.2,558.8 L634.2,559.0 L635.2,559.2 L636.2,559.4 L637.2,559.6 L638.2,559.7 L639.2,559.9 L640.2,560.1 L641.2,560.3 L642.2,560.5 L643.2,560.7 L644.2,560.9 L645.2,561.1 L646.2,561.3 L647.2,561.5 L648.2,561.7 L649.2,561.9 L650.2,562.0 L651.2,562.2 L652.2,562.4 L653.2,562.5 L654.2,562.6 L655.2,562.7 L656.2,562.8 L657.2,562.9 L658.2,563.0 L659.2,563.0 L660.2,563.1 L661.2,563.1 L662.2,563.1 L663.2,563.1 L664.3,563.1 L665.3,563.1 L666.3,563.0 L667.3,563.0 L668.3,563.0 L669.4,562.9 L670.4,562.9 L671.4,562.8 L672.4,562.8 L673.4,562.7 L674.4,562.6 L675.5,562.6 L676.5,562.5 L677.5,562.4 L678.5,562.3 L679.5,562.2 L680.6,562.2 L681.6,562.1 L682.6,562.0 L683.6,561.9 L684.6,561.8 L685.6,561.7 L686.7,561.6 L687.7,561.5 L688.7,561.4 L689.7,561.2 L690.7,561.1 L691.8,561.0 L692.8,560.9 L693.8,560.8 L694.8,560.6 L695.8,560.4 L696.8,560.2 L697.8,560.0 L698.8,559.8 L699.8,559.5 L700.9,559.2 L701.9,558.9 L702.9,558.6 L703.9,558.2 L704.9,557.9 L705.9,557.6 L706.9,557.2 L707.9,556.9 L708.9,556.6 L709.9,556.3 L710.9,556.0 L711.9,555.7 L712.9,555.4 L714.0,555.2 L715.0,555.0 L716.0,554.8 L717.0,554.7 L718.0,554.6 L719.0,554.5 L720.0,554.4 L721.0,554.4 L722.0,554.4 L723.0,554.4 L724.0,554.4 L725.0,554.4 L726.0,554.4 L727.0,554.4 L728.1,554.4 L729.1,554.4 L730.1,554.4 L731.1,554.5 L732.1,554.5 L733.1,554.5 L734.1,554.5 L735.1,554.5 L736.1,554.5 L737.1,554.5 L738.1,554.5 L739.1,554.5 L740.1,554.6 L741.1,554.6 L742.2,554.6 L743.2,554.6 L744.2,554.6 L745.2,554.6 L746.2,554.6 L747.2,554.7 L748.2,554.7 L749.2,554.7 L750.2,554.7 L751.2,554.7 L752.2,554.7 L753.2,554.8 L754.2,554.8 L755.2,554.8 L756.3,554.8 L757.3,554.8 L758.3,554.9 L759.3,554.9 L760.3,554.9 L761.3,554.9 L762.3,554.9 L763.3,554.9 L764.3,555.0 L765.3,555.0 L766.3,555.0 L767.3,555.0 L768.3,555.0 L769.4,555.0 L770.4,555.0 L771.4,555.1 L772.4,555.1 L773.4,555.1 L774.4,555.1 L775.4,555.1 L776.4,555.1 L777.4,555.1 L778.4,555.1 L779.4,555.1 L780.4,555.2 L781.4,555.2 L782.4,555.2 L783.5,555.2 L784.5,555.2 L785.5,555.2 L786.5,555.2 L787.5,555.2 L788.5,555.2 L789.5,555.2 L790.5,555.2 L791.5,555.2 L792.5,555.2 L793.5,555.2 L794.5,555.2 L795.5,555.2 L796.5,555.2 L797.5,555.2 L798.5,555.2 L799.5,555.2 L800.5,555.1 L801.5,555.1 L802.5,555.1 L803.5,555.1 L804.5,555.1 L805.5,555.1 L806.5,555.1 L807.5,555.0 L808.5,555.0 L809.5,555.0 L810.5,555.0 L811.5,555.0 L812.5,555.0 L813.5,554.9 L814.5,554.9 L815.5,554.9 L816.5,554.9 L817.5,554.8 L818.5,554.8 L819.5,554.8 L820.5,554.8 L821.5,554.7 L822.5,554.7 L823.5,554.7 L824.5,554.7 L825.5,554.6 L826.5,554.6 L827.5,554.6 L828.5,554.5 L829.5,554.5 L830.5,554.5 L831.5,554.5 L832.5,554.4 L833.5,554.4 L834.5,554.4 L835.5,554.3 L836.5,554.3 L837.5,554.3 L838.5,554.3 L839.5,554.2 L840.5,554.2 L841.5,554.2 L842.5,554.1 L843.5,554.1 L844.5,554.1 L845.5,554.0 L846.5,554.0 L847.5,554.0 L848.5,554.0 L849.5,553.9 L850.5,553.9 L851.5,553.9 L852.5,553.8 L853.5,553.8 L854.5,553.8 L855.5,553.8 L856.5,553.7 L857.5,553.7 L858.5,553.7 L859.5,553.6 L860.5,553.6 L861.5,553.6 L862.5,553.6 L863.5,553.5 L864.5,553.5 L865.5,553.5" stroke="#a02424" stroke-width="2.0" stroke-dasharray="1.5,1.7"/>
<path d="M510.5,523.0 L511.5,523.1 L512.5,523.1 L513.6,523.2 L514.6,523.2 L515.6,523.3 L516.6,523.4 L517.6,523.4 L518.6,523.5 L519.7,523.6 L520.7,523.6 L521.7,523.7 L522.7,523.8 L523.7,523.8 L524.7,523.9 L525.8,524.0 L526.8,524.0 L527.8,524.1 L528.8,524.2 L529.8,524.2 L530.8,524.3 L531.9,524.3 L532.9,524.3 L533.9,524.4 L534.9,524.4 L535.9,524.4 L536.9,524.5 L538.0,524.5 L539.0,524.5 L540.0,524.5 L541.0,524.5 L542.0,524.5 L543.0,524.5 L544.0,524.5 L545.0,524.5 L546.0,524.5 L547.0,524.5 L548.0,524.5 L549.0,524.5 L550.0,524.5 L551.0,524.5 L552.0,524.5 L553.0,524.5 L554.0,524.5 L555.0,524.5 L556.0,524.5 L557.0,524.5 L558.0,524.5 L559.0,524.5 L560.0,524.5 L561.0,524.4 L562.0,524.4 L563.0,524.4 L564.0,524.4 L565.0,524.4 L566.0,524.4 L567.0,524.4 L568.0,524.4 L569.0,524.4 L570.0,524.4 L571.0,524.4 L572.0,524.4 L573.0,524.4 L574.0,524.4 L575.0,524.4 L576.0,524.4 L577.0,524.4 L578.0,524.4 L579.0,524.4 L580.0,524.4 L581.0,524.4 L582.0,524.5 L583.1,524.5 L584.1,524.6 L585.1,524.7 L586.1,524.8 L587.1,525.0 L588.1,525.1 L589.2,525.2 L590.2,525.4 L591.2,525.6 L592.2,525.7 L593.2,525.9 L594.3,526.1 L595.3,526.3 L596.3,526.5 L597.3,526.8 L598.3,527.0 L599.4,527.3 L600.4,527.6 L601.4,528.0 L602.4,528.3 L603.4,528.7 L604.5,529.1 L605.5,529.6 L606.5,530.0 L607.5,530.4 L608.5,530.9 L609.5,531.3 L610.6,531.7 L611.6,532.2 L612.6,532.6 L613.6,533.0 L614.6,533.5 L615.7,533.9 L616.7,534.4 L617.7,534.9 L618.7,535.3 L619.7,535.8 L620.8,536.3 L621.8,536.8 L622.8,537.2 L623.8,537.7 L624.8,538.2 L625.8,538.6 L626.9,539.0 L627.9,539.5 L628.9,539.9 L629.9,540.3 L630.9,540.7 L631.9,541.1 L632.9,541.5 L633.9,541.9 L635.0,542.3 L636.0,542.7 L637.0,543.1 L638.0,543.5 L639.0,543.9 L640.0,544.2 L641.0,544.6 L642.0,544.9 L643.0,545.3 L644.0,545.6 L645.1,545.9 L646.1,546.1 L647.1,546.4 L648.1,546.6 L649.1,546.8 L650.1,547.0 L651.1,547.1 L652.2,547.3 L653.2,547.4 L654.2,547.6 L655.3,547.7 L656.3,547.8 L657.3,548.0 L658.3,548.1 L659.4,548.2 L660.4,548.3 L661.4,548.5 L662.5,548.6 L663.5,548.7 L664.5,548.8 L665.6,548.9 L666.6,549.0 L667.6,549.1 L668.7,549.1 L669.7,549.2 L670.7,549.3 L671.8,549.3 L672.8,549.4 L673.8,549.5 L674.8,549.5 L675.9,549.5 L676.9,549.6 L677.9,549.6 L679.0,549.6 L680.0,549.6 L681.0,549.6 L682.0,549.6 L683.0,549.6 L684.0,549.6 L685.0,549.6 L686.0,549.6 L687.0,549.6 L688.0,549.6 L689.0,549.6 L690.0,549.6 L691.0,549.6 L692.0,549.6 L693.0,549.6 L694.0,549.6 L695.0,549.6 L696.0,549.6 L697.0,549.5 L698.0,549.5 L699.0,549.5 L700.0,549.5 L701.0,549.5 L702.0,549.5 L703.0,549.5 L704.0,549.5 L705.0,549.5 L706.0,549.5 L707.0,549.5 L708.0,549.5 L709.0,549.5 L710.0,549.5 L711.0,549.5 L712.0,549.5 L713.0,549.5 L714.0,549.4 L715.0,549.4 L716.0,549.4 L717.0,549.4 L718.0,549.4 L719.0,549.4 L720.0,549.4 L721.0,549.4 L722.0,549.4 L723.0,549.4 L724.0,549.4 L725.0,549.4 L726.0,549.4 L727.0,549.4 L728.0,549.4 L729.0,549.4 L730.0,549.4 L731.0,549.4 L732.0,549.4 L733.0,549.4 L734.0,549.4 L735.0,549.5 L736.0,549.5 L737.0,549.5 L738.0,549.6 L739.0,549.6 L740.0,549.7 L741.0,549.7 L742.0,549.8 L743.0,549.8 L744.0,549.9 L745.0,550.0 L746.0,550.0 L747.0,550.1 L748.0,550.2 L749.0,550.3 L750.0,550.4 L751.0,550.4 L752.0,550.5 L753.0,550.6 L754.0,550.7 L755.0,550.8 L756.0,550.9 L757.0,551.0 L758.0,551.1 L759.0,551.2 L760.0,551.3 L761.0,551.4 L762.0,551.5 L763.0,551.5 L764.0,551.6 L765.0,551.7 L766.0,551.8 L767.0,551.9 L768.0,552.0 L769.0,552.1 L770.0,552.2 L771.0,552.3 L772.0,552.4 L773.0,552.5 L774.0,552.6 L775.0,552.6 L776.0,552.7 L777.0,552.8 L778.0,552.9 L779.0,552.9 L780.0,553.0 L781.0,553.1 L782.0,553.1 L783.0,553.2 L784.0,553.3 L785.0,553.3 L786.0,553.4 L787.0,553.5 L788.0,553.6 L789.0,553.7 L790.0,553.7 L791.0,553.8 L792.0,553.9 L793.0,554.0 L794.0,554.0 L795.0,554.1 L796.0,554.2 L797.0,554.3 L798.0,554.4 L799.0,554.4 L800.0,554.5 L801.0,554.6 L802.0,554.7 L803.0,554.8 L804.0,554.8 L805.0,554.9 L806.0,555.0 L807.0,555.1 L808.0,555.1 L809.0,555.2 L810.0,555.3 L811.0,555.3 L812.0,555.4 L813.0,555.4 L814.0,555.5 L815.0,555.6 L816.0,555.6 L817.0,555.7 L818.0,555.7 L819.0,555.8 L820.0,555.8 L821.0,555.8 L822.0,555.9 L823.0,555.9 L824.0,555.9 L825.0,555.9 L826.0,556.0 L827.0,556.0 L828.0,556.0 L829.0,556.0 L830.0,556.0 L831.0,556.0 L832.0,556.0 L833.0,556.0 L834.1,556.0 L835.1,555.9 L836.1,555.9 L837.1,555.9 L838.1,555.9 L839.1,555.8 L840.1,555.8 L841.2,555.8 L842.2,555.7 L843.2,555.7 L844.2,555.6 L845.2,555.6 L846.2,555.5 L847.2,555.5 L848.3,555.4 L849.3,555.4 L850.3,555.3 L851.3,555.2 L852.3,555.2 L853.3,555.1 L854.3,555.1 L855.4,555.0 L856.4,555.0 L857.4,554.9 L858.4,554.8 L859.4,554.8 L860.4,554.7 L861.4,554.7 L862.5,554.6 L863.5,554.6 L864.5,554.5 L865.5,554.5" stroke="#7a1a1a" stroke-width="2.2" stroke-dasharray="5,3"/>
<path d="M510.5,474.9 L511.5,475.0 L512.5,475.0 L513.6,475.1 L514.6,475.2 L515.6,475.3 L516.6,475.3 L517.6,475.4 L518.6,475.5 L519.7,475.5 L520.7,475.6 L521.7,475.7 L522.7,475.7 L523.7,475.8 L524.7,475.9 L525.8,476.0 L526.8,476.0 L527.8,476.1 L528.8,476.2 L529.8,476.2 L530.8,476.3 L531.9,476.4 L532.9,476.5 L533.9,476.5 L534.9,476.6 L535.9,476.7 L536.9,476.8 L538.0,476.8 L539.0,476.9 L540.0,477.0 L541.0,477.1 L542.0,477.2 L543.0,477.2 L544.0,477.3 L545.0,477.4 L546.0,477.4 L547.0,477.5 L548.0,477.6 L549.0,477.6 L550.0,477.7 L551.0,477.8 L552.0,477.8 L553.0,477.9 L554.0,478.0 L555.0,478.0 L556.0,478.1 L557.0,478.2 L558.0,478.3 L559.0,478.3 L560.0,478.4 L561.0,478.5 L562.0,478.6 L563.0,478.6 L564.0,478.7 L565.0,478.8 L566.0,478.9 L567.0,479.0 L568.0,479.1 L569.0,479.2 L570.0,479.3 L571.0,479.4 L572.0,479.5 L573.0,479.6 L574.0,479.8 L575.0,479.9 L576.0,480.0 L577.0,480.2 L578.0,480.3 L579.0,480.5 L580.0,480.6 L581.0,480.9 L582.0,481.1 L583.0,481.3 L584.1,481.6 L585.1,481.9 L586.1,482.3 L587.1,482.6 L588.1,483.0 L589.2,483.4 L590.2,483.9 L591.2,484.3 L592.2,484.7 L593.2,485.2 L594.2,485.7 L595.2,486.2 L596.3,486.8 L597.3,487.3 L598.3,487.9 L599.3,488.5 L600.3,489.2 L601.4,489.8 L602.4,490.5 L603.4,491.1 L604.4,491.9 L605.4,492.6 L606.5,493.3 L607.5,494.1 L608.5,494.9 L609.5,495.8 L610.5,496.6 L611.6,497.5 L612.6,498.3 L613.6,499.2 L614.7,500.2 L615.7,501.1 L616.7,502.0 L617.7,503.0 L618.7,504.0 L619.8,505.0 L620.8,506.0 L621.8,507.1 L622.8,508.2 L623.8,509.2 L624.8,510.2 L625.9,511.3 L626.9,512.2 L627.9,513.2 L628.9,514.1 L629.9,515.1 L630.9,515.9 L632.0,516.8 L633.0,517.7 L634.0,518.5 L635.0,519.3 L636.0,520.1 L637.0,520.9 L638.1,521.7 L639.1,522.4 L640.1,523.2 L641.1,523.9 L642.1,524.6 L643.2,525.2 L644.2,525.9 L645.2,526.5 L646.2,527.0 L647.2,527.6 L648.2,528.2 L649.3,528.7 L650.3,529.2 L651.3,529.8 L652.3,530.3 L653.3,530.8 L654.3,531.3 L655.4,531.7 L656.4,532.2 L657.4,532.6 L658.4,533.1 L659.4,533.5 L660.4,533.9 L661.4,534.2 L662.5,534.6 L663.5,534.9 L664.5,535.3 L665.5,535.6 L666.5,535.9 L667.5,536.2 L668.5,536.4 L669.5,536.7 L670.5,537.0 L671.5,537.3 L672.6,537.5 L673.6,537.8 L674.6,538.0 L675.6,538.3 L676.6,538.5 L677.6,538.8 L678.6,539.0 L679.6,539.2 L680.6,539.5 L681.6,539.7 L682.6,539.9 L683.6,540.1 L684.6,540.4 L685.7,540.6 L686.7,540.8 L687.7,541.0 L688.7,541.2 L689.7,541.4 L690.7,541.6 L691.7,541.8 L692.7,542.0 L693.7,542.2 L694.7,542.4 L695.7,542.6 L696.7,542.8 L697.8,542.9 L698.8,543.1 L699.8,543.3 L700.8,543.5 L701.8,543.6 L702.8,543.8 L703.8,544.0 L704.8,544.1 L705.8,544.3 L706.8,544.5 L707.8,544.6 L708.8,544.8 L709.8,544.9 L710.9,545.1 L711.9,545.3 L712.9,545.4 L713.9,545.6 L714.9,545.7 L715.9,545.9 L716.9,546.0 L717.9,546.1 L718.9,546.3 L719.9,546.4 L720.9,546.6 L721.9,546.7 L722.9,546.8 L724.0,547.0 L725.0,547.1 L726.0,547.3 L727.0,547.4 L728.0,547.5 L729.0,547.7 L730.0,547.8 L731.0,547.9 L732.0,548.1 L733.0,548.2 L734.0,548.3 L735.0,548.4 L736.0,548.6 L737.0,548.7 L738.0,548.8 L739.0,548.9 L740.0,549.1 L741.0,549.2 L742.0,549.3 L743.0,549.4 L744.0,549.5 L745.0,549.7 L746.0,549.8 L747.0,549.9 L748.0,550.0 L749.0,550.1 L750.0,550.2 L751.0,550.3 L752.0,550.4 L753.0,550.5 L754.0,550.6 L755.0,550.8 L756.0,550.9 L757.0,551.0 L758.0,551.1 L759.0,551.2 L760.0,551.3 L761.0,551.4 L762.0,551.5 L763.0,551.5 L764.0,551.6 L765.0,551.7 L766.0,551.8 L767.0,551.9 L768.0,552.0 L769.0,552.1 L770.0,552.2 L771.0,552.3 L772.0,552.4 L773.0,552.4 L774.0,552.5 L775.0,552.6 L776.0,552.7 L777.0,552.8 L778.0,552.8 L779.0,552.9 L780.0,553.0 L781.0,553.1 L782.0,553.2 L783.0,553.2 L784.0,553.3 L785.0,553.4 L786.0,553.5 L787.0,553.6 L788.0,553.6 L789.0,553.7 L790.0,553.8 L791.0,553.9 L792.0,554.0 L793.0,554.0 L794.0,554.1 L795.0,554.2 L796.0,554.3 L797.0,554.4 L798.0,554.4 L799.0,554.5 L800.0,554.6 L801.0,554.7 L802.0,554.8 L803.0,554.8 L804.0,554.9 L805.0,555.0 L806.0,555.0 L807.0,555.1 L808.0,555.2 L809.0,555.2 L810.0,555.3 L811.0,555.4 L812.0,555.4 L813.0,555.5 L814.0,555.5 L815.0,555.6 L816.0,555.6 L817.0,555.7 L818.0,555.7 L819.0,555.8 L820.0,555.8 L821.0,555.8 L822.0,555.9 L823.0,555.9 L824.0,555.9 L825.0,556.0 L826.0,556.0 L827.0,556.0 L828.0,556.0 L829.0,556.0 L830.0,556.0 L831.0,556.0 L832.0,556.0 L833.0,556.0 L834.1,556.0 L835.1,555.9 L836.1,555.9 L837.1,555.9 L838.1,555.8 L839.1,555.8 L840.1,555.7 L841.2,555.7 L842.2,555.6 L843.2,555.6 L844.2,555.5 L845.2,555.4 L846.2,555.4 L847.2,555.3 L848.3,555.2 L849.3,555.1 L850.3,555.1 L851.3,555.0 L852.3,554.9 L853.3,554.8 L854.3,554.8 L855.4,554.7 L856.4,554.6 L857.4,554.5 L858.4,554.5 L859.4,554.4 L860.4,554.3 L861.4,554.3 L862.5,554.2 L863.5,554.1 L864.5,554.1 L865.5,554.0" stroke="#7a1414" stroke-width="2.4" stroke-dasharray="9,5,2.5,5,2.5,5"/>
<path d="M510.5,453.2 L511.5,453.3 L512.5,453.4 L513.6,453.4 L514.6,453.5 L515.6,453.6 L516.6,453.7 L517.6,453.7 L518.6,453.8 L519.7,453.9 L520.7,454.0 L521.7,454.1 L522.7,454.1 L523.7,454.2 L524.7,454.3 L525.8,454.4 L526.8,454.4 L527.8,454.5 L528.8,454.6 L529.8,454.7 L530.8,454.8 L531.9,454.8 L532.9,454.9 L533.9,455.0 L534.9,455.1 L535.9,455.2 L536.9,455.2 L538.0,455.3 L539.0,455.4 L540.0,455.5 L541.0,455.6 L542.0,455.7 L543.0,455.7 L544.0,455.8 L545.0,455.9 L546.0,456.0 L547.0,456.0 L548.0,456.1 L549.0,456.2 L550.0,456.2 L551.0,456.3 L552.0,456.3 L553.0,456.4 L554.0,456.5 L555.0,456.5 L556.0,456.6 L557.0,456.7 L558.0,456.7 L559.0,456.8 L560.0,456.9 L561.0,457.0 L562.0,457.0 L563.0,457.1 L564.0,457.2 L565.0,457.3 L566.0,457.4 L567.0,457.5 L568.0,457.6 L569.0,457.7 L570.0,457.8 L571.0,457.9 L572.0,458.0 L573.0,458.1 L574.0,458.3 L575.0,458.4 L576.0,458.6 L577.0,458.7 L578.0,458.9 L579.0,459.1 L580.0,459.3 L581.0,459.5 L582.0,459.9 L583.0,460.2 L584.1,460.7 L585.1,461.2 L586.1,461.7 L587.1,462.3 L588.1,462.9 L589.2,463.5 L590.2,464.1 L591.2,464.8 L592.2,465.5 L593.2,466.1 L594.2,466.9 L595.2,467.6 L596.3,468.4 L597.3,469.2 L598.3,470.0 L599.3,470.8 L600.3,471.7 L601.4,472.6 L602.4,473.6 L603.4,474.6 L604.4,475.6 L605.4,476.6 L606.4,477.8 L607.5,478.9 L608.5,480.1 L609.5,481.4 L610.5,482.6 L611.5,483.9 L612.6,485.2 L613.6,486.5 L614.6,487.8 L615.6,489.2 L616.6,490.5 L617.6,491.9 L618.7,493.3 L619.7,494.7 L620.7,496.1 L621.7,497.5 L622.7,498.9 L623.8,500.2 L624.8,501.5 L625.8,502.8 L626.8,504.0 L627.8,505.2 L628.8,506.3 L629.9,507.5 L630.9,508.5 L631.9,509.6 L632.9,510.6 L634.0,511.7 L635.0,512.7 L636.0,513.7 L637.0,514.6 L638.0,515.6 L639.1,516.5 L640.1,517.4 L641.1,518.3 L642.1,519.2 L643.1,520.1 L644.2,521.0 L645.2,521.9 L646.2,522.7 L647.2,523.6 L648.2,524.4 L649.2,525.2 L650.3,526.0 L651.3,526.8 L652.3,527.5 L653.3,528.2 L654.3,528.8 L655.4,529.4 L656.4,529.9 L657.4,530.4 L658.4,530.8 L659.5,531.2 L660.5,531.6 L661.5,532.0 L662.5,532.3 L663.6,532.6 L664.6,533.0 L665.6,533.2 L666.6,533.5 L667.7,533.8 L668.7,534.0 L669.7,534.3 L670.8,534.5 L671.8,534.8 L672.8,535.0 L673.8,535.2 L674.9,535.5 L675.9,535.7 L676.9,535.9 L677.9,536.1 L679.0,536.4 L680.0,536.6 L681.0,536.8 L682.0,537.1 L683.0,537.3 L684.0,537.5 L685.0,537.7 L686.0,538.0 L687.0,538.2 L688.0,538.4 L689.0,538.6 L690.0,538.8 L691.0,539.1 L692.0,539.3 L693.0,539.5 L694.0,539.7 L695.0,539.9 L696.0,540.1 L697.0,540.3 L698.0,540.5 L699.0,540.7 L700.0,540.9 L701.0,541.1 L702.0,541.3 L703.0,541.5 L704.0,541.7 L705.0,541.9 L706.0,542.1 L707.0,542.3 L708.0,542.5 L709.0,542.7 L710.0,542.9 L711.0,543.1 L712.0,543.2 L713.0,543.4 L714.0,543.6 L715.0,543.8 L716.0,544.0 L717.0,544.1 L718.0,544.3 L719.0,544.5 L720.0,544.6 L721.0,544.8 L722.0,545.0 L723.0,545.1 L724.0,545.3 L725.0,545.4 L726.0,545.6 L727.0,545.8 L728.0,545.9 L729.0,546.1 L730.0,546.2 L731.0,546.3 L732.0,546.5 L733.0,546.6 L734.0,546.8 L735.0,546.9 L736.0,547.1 L737.0,547.2 L738.0,547.3 L739.0,547.5 L740.0,547.6 L741.0,547.7 L742.0,547.9 L743.0,548.0 L744.0,548.1 L745.0,548.3 L746.0,548.4 L747.0,548.5 L748.0,548.7 L749.0,548.8 L750.0,548.9 L751.0,549.0 L752.0,549.1 L753.0,549.3 L754.0,549.4 L755.0,549.5 L756.0,549.6 L757.0,549.7 L758.0,549.9 L759.0,550.0 L760.0,550.1 L761.0,550.2 L762.0,550.3 L763.0,550.4 L764.0,550.5 L765.0,550.6 L766.0,550.7 L767.0,550.8 L768.0,550.9 L769.0,551.0 L770.0,551.1 L771.0,551.2 L772.0,551.3 L773.0,551.4 L774.0,551.5 L775.0,551.6 L776.0,551.7 L777.0,551.8 L778.0,551.8 L779.0,551.9 L780.0,552.0 L781.0,552.1 L782.0,552.2 L783.0,552.2 L784.0,552.3 L785.0,552.4 L786.0,552.5 L787.0,552.6 L788.0,552.7 L789.0,552.7 L790.0,552.8 L791.0,552.9 L792.0,553.0 L793.0,553.1 L794.0,553.1 L795.0,553.2 L796.0,553.3 L797.0,553.4 L798.0,553.5 L799.0,553.5 L800.0,553.6 L801.0,553.7 L802.0,553.8 L803.0,553.9 L804.0,553.9 L805.0,554.0 L806.0,554.1 L807.0,554.1 L808.0,554.2 L809.0,554.3 L810.0,554.3 L811.0,554.4 L812.0,554.4 L813.0,554.5 L814.0,554.5 L815.0,554.6 L816.0,554.6 L817.0,554.7 L818.0,554.7 L819.0,554.8 L820.0,554.8 L821.0,554.8 L822.0,554.9 L823.0,554.9 L824.0,554.9 L825.0,555.0 L826.0,555.0 L827.0,555.0 L828.0,555.0 L829.0,555.0 L830.0,555.0 L831.0,555.0 L832.0,555.0 L833.0,555.0 L834.1,555.0 L835.1,554.9 L836.1,554.9 L837.1,554.9 L838.1,554.8 L839.1,554.8 L840.1,554.7 L841.2,554.7 L842.2,554.6 L843.2,554.6 L844.2,554.5 L845.2,554.4 L846.2,554.4 L847.2,554.3 L848.3,554.2 L849.3,554.1 L850.3,554.1 L851.3,554.0 L852.3,553.9 L853.3,553.8 L854.3,553.8 L855.4,553.7 L856.4,553.6 L857.4,553.5 L858.4,553.5 L859.4,553.4 L860.4,553.3 L861.4,553.3 L862.5,553.2 L863.5,553.1 L864.5,553.1 L865.5,553.0" stroke="#5a0c0c" stroke-width="2.4" stroke-dasharray="10,4,2.5,4"/>
<path d="M510.5,421.9 L511.5,422.0 L512.5,422.0 L513.6,422.1 L514.6,422.2 L515.6,422.3 L516.6,422.3 L517.6,422.4 L518.6,422.5 L519.7,422.5 L520.7,422.6 L521.7,422.7 L522.7,422.7 L523.7,422.8 L524.7,422.9 L525.8,422.9 L526.8,423.0 L527.8,423.1 L528.8,423.1 L529.8,423.2 L530.8,423.3 L531.9,423.4 L532.9,423.4 L533.9,423.5 L534.9,423.6 L535.9,423.7 L536.9,423.7 L538.0,423.8 L539.0,423.9 L540.0,424.0 L541.0,424.1 L542.0,424.2 L543.0,424.3 L544.0,424.3 L545.0,424.4 L546.0,424.5 L547.0,424.6 L548.0,424.7 L549.0,424.8 L550.0,424.8 L551.0,424.9 L552.0,425.0 L553.0,425.1 L554.0,425.2 L555.0,425.3 L556.0,425.4 L557.0,425.5 L558.0,425.6 L559.0,425.7 L560.0,425.8 L561.0,425.9 L562.0,426.0 L563.0,426.1 L564.0,426.2 L565.0,426.3 L566.0,426.4 L567.0,426.6 L568.0,426.7 L569.0,426.8 L570.0,427.0 L571.0,427.1 L572.0,427.3 L573.0,427.4 L574.0,427.6 L575.0,427.8 L576.0,427.9 L577.0,428.1 L578.0,428.3 L579.0,428.5 L580.0,428.7 L581.0,429.0 L582.0,429.3 L583.0,429.6 L584.1,429.9 L585.1,430.3 L586.1,430.7 L587.1,431.1 L588.1,431.6 L589.2,432.1 L590.2,432.7 L591.2,433.3 L592.2,434.0 L593.2,434.8 L594.2,435.8 L595.2,436.8 L596.3,438.0 L597.3,439.3 L598.3,440.6 L599.3,442.0 L600.3,443.5 L601.4,444.9 L602.4,446.3 L603.4,447.7 L604.4,449.0 L605.4,450.2 L606.4,451.5 L607.5,452.7 L608.5,453.9 L609.5,455.0 L610.5,456.2 L611.5,457.5 L612.6,458.7 L613.6,460.0 L614.6,461.4 L615.6,462.9 L616.6,464.4 L617.7,466.0 L618.7,467.6 L619.7,469.2 L620.7,470.9 L621.7,472.6 L622.8,474.3 L623.8,475.9 L624.8,477.6 L625.8,479.2 L626.8,480.9 L627.9,482.6 L628.9,484.2 L629.9,485.9 L630.9,487.5 L631.9,489.2 L633.0,490.7 L634.0,492.3 L635.0,493.9 L636.0,495.4 L637.0,496.9 L638.0,498.3 L639.1,499.8 L640.1,501.2 L641.1,502.6 L642.1,504.0 L643.1,505.3 L644.2,506.6 L645.2,507.8 L646.2,509.0 L647.2,510.1 L648.2,511.2 L649.2,512.2 L650.3,513.2 L651.3,514.2 L652.3,515.1 L653.3,516.0 L654.4,516.9 L655.4,517.8 L656.4,518.6 L657.4,519.4 L658.4,520.2 L659.5,520.9 L660.5,521.7 L661.5,522.4 L662.5,523.1 L663.6,523.8 L664.6,524.4 L665.6,525.1 L666.6,525.8 L667.7,526.4 L668.7,527.0 L669.7,527.6 L670.8,528.2 L671.8,528.8 L672.8,529.3 L673.8,529.9 L674.9,530.4 L675.9,530.9 L676.9,531.3 L677.9,531.8 L679.0,532.2 L680.0,532.6 L681.0,532.9 L682.0,533.3 L683.0,533.6 L684.0,534.0 L685.0,534.3 L686.0,534.6 L687.0,534.9 L688.0,535.3 L689.0,535.6 L690.0,535.9 L691.0,536.2 L692.0,536.5 L693.0,536.7 L694.0,537.0 L695.0,537.3 L696.0,537.6 L697.0,537.8 L698.0,538.1 L699.0,538.4 L700.0,538.6 L701.0,538.9 L702.0,539.1 L703.0,539.4 L704.0,539.6 L705.0,539.8 L706.0,540.1 L707.0,540.3 L708.0,540.5 L709.0,540.7 L710.0,540.9 L711.0,541.1 L712.0,541.3 L713.0,541.5 L714.0,541.7 L715.0,541.9 L716.0,542.1 L717.0,542.3 L718.0,542.5 L719.0,542.7 L720.0,542.9 L721.0,543.0 L722.0,543.2 L723.0,543.4 L724.0,543.6 L725.0,543.7 L726.0,543.9 L727.0,544.0 L728.0,544.2 L729.0,544.3 L730.0,544.5 L731.0,544.6 L732.0,544.8 L733.0,544.9 L734.0,545.1 L735.0,545.2 L736.0,545.4 L737.0,545.5 L738.0,545.6 L739.0,545.8 L740.0,545.9 L741.0,546.0 L742.0,546.2 L743.0,546.3 L744.0,546.4 L745.0,546.5 L746.0,546.7 L747.0,546.8 L748.0,546.9 L749.0,547.0 L750.0,547.1 L751.0,547.3 L752.0,547.4 L753.0,547.5 L754.0,547.6 L755.0,547.7 L756.0,547.8 L757.0,547.9 L758.0,548.0 L759.0,548.1 L760.0,548.2 L761.0,548.3 L762.0,548.4 L763.0,548.5 L764.0,548.6 L765.0,548.7 L766.0,548.8 L767.0,548.9 L768.0,549.0 L769.0,549.1 L770.0,549.2 L771.0,549.3 L772.0,549.3 L773.0,549.4 L774.0,549.5 L775.0,549.6 L776.0,549.7 L777.0,549.8 L778.0,549.8 L779.0,549.9 L780.0,550.0 L781.0,550.1 L782.0,550.2 L783.0,550.2 L784.0,550.3 L785.0,550.4 L786.0,550.5 L787.0,550.6 L788.0,550.6 L789.0,550.7 L790.0,550.8 L791.0,550.9 L792.0,551.0 L793.0,551.1 L794.0,551.1 L795.0,551.2 L796.0,551.3 L797.0,551.4 L798.0,551.5 L799.0,551.5 L800.0,551.6 L801.0,551.7 L802.0,551.8 L803.0,551.8 L804.0,551.9 L805.0,552.0 L806.0,552.1 L807.0,552.1 L808.0,552.2 L809.0,552.3 L810.0,552.3 L811.0,552.4 L812.0,552.4 L813.0,552.5 L814.0,552.5 L815.0,552.6 L816.0,552.6 L817.0,552.7 L818.0,552.7 L819.0,552.8 L820.0,552.8 L821.0,552.8 L822.0,552.9 L823.0,552.9 L824.0,552.9 L825.0,553.0 L826.0,553.0 L827.0,553.0 L828.0,553.0 L829.0,553.0 L830.0,553.0 L831.0,553.0 L832.0,553.0 L833.0,553.0 L834.1,553.0 L835.1,553.0 L836.1,552.9 L837.1,552.9 L838.1,552.9 L839.1,552.9 L840.1,552.9 L841.2,552.8 L842.2,552.8 L843.2,552.8 L844.2,552.7 L845.2,552.7 L846.2,552.7 L847.2,552.6 L848.3,552.6 L849.3,552.6 L850.3,552.5 L851.3,552.5 L852.3,552.5 L853.3,552.4 L854.3,552.4 L855.4,552.3 L856.4,552.3 L857.4,552.3 L858.4,552.2 L859.4,552.2 L860.4,552.2 L861.4,552.1 L862.5,552.1 L863.5,552.1 L864.5,552.0 L865.5,552.0" stroke="#6a1616" stroke-width="2.4" stroke-dasharray="2.5,9"/>
<path d="M510.5,383.0 L511.6,383.8 L512.7,384.5 L513.8,385.2 L514.9,385.8 L516.0,386.4 L517.1,386.9 L518.2,387.4 L519.3,387.8 L520.5,388.2 L521.6,388.6 L522.7,388.9 L523.8,389.2 L524.8,389.5 L525.8,389.7 L526.8,390.0 L527.8,390.2 L528.8,390.4 L529.8,390.6 L530.8,390.8 L531.9,391.0 L532.9,391.2 L533.9,391.3 L534.9,391.5 L535.9,391.7 L536.9,391.8 L537.9,392.0 L538.9,392.1 L539.9,392.3 L540.9,392.4 L541.9,392.6 L542.9,392.7 L543.9,392.9 L544.9,393.0 L545.9,393.2 L546.9,393.3 L548.0,393.5 L549.0,393.7 L550.0,393.8 L551.0,394.0 L552.0,394.2 L553.0,394.4 L554.0,394.6 L555.0,394.8 L556.0,395.0 L557.0,395.2 L558.0,395.4 L559.0,395.6 L560.0,395.8 L561.0,396.0 L562.0,396.2 L563.0,396.4 L564.0,396.6 L565.0,396.8 L566.0,397.1 L567.0,397.3 L568.0,397.5 L569.0,397.8 L570.0,398.0 L571.0,398.3 L572.0,398.5 L573.0,398.8 L574.0,399.1 L575.0,399.4 L576.0,399.8 L577.0,400.1 L578.0,400.5 L579.0,400.9 L580.0,401.3 L581.0,401.8 L582.0,402.3 L583.0,402.9 L584.1,403.6 L585.1,404.3 L586.1,405.0 L587.1,405.8 L588.1,406.7 L589.2,407.6 L590.2,408.5 L591.2,409.5 L592.2,410.5 L593.2,411.6 L594.2,412.7 L595.2,413.9 L596.3,415.2 L597.3,416.5 L598.3,417.9 L599.3,419.3 L600.3,420.7 L601.4,422.2 L602.4,423.7 L603.4,425.2 L604.4,426.7 L605.4,428.2 L606.4,429.8 L607.5,431.3 L608.5,432.9 L609.5,434.5 L610.5,436.2 L611.5,437.9 L612.6,439.6 L613.6,441.3 L614.6,443.1 L615.6,445.0 L616.6,446.9 L617.7,448.9 L618.7,451.0 L619.7,453.0 L620.7,455.1 L621.7,457.2 L622.8,459.2 L623.8,461.2 L624.8,463.2 L625.8,465.1 L626.8,467.0 L627.9,468.9 L628.9,470.7 L629.9,472.6 L630.9,474.4 L631.9,476.2 L633.0,478.0 L634.0,479.8 L635.0,481.7 L636.0,483.5 L637.0,485.4 L638.1,487.3 L639.1,489.2 L640.1,491.1 L641.1,492.9 L642.1,494.7 L643.2,496.5 L644.2,498.2 L645.2,499.9 L646.2,501.5 L647.2,503.1 L648.3,504.6 L649.3,506.1 L650.3,507.6 L651.3,509.0 L652.3,510.4 L653.4,511.7 L654.4,512.9 L655.4,514.1 L656.4,515.2 L657.4,516.3 L658.5,517.4 L659.5,518.5 L660.5,519.5 L661.5,520.4 L662.5,521.4 L663.5,522.2 L664.5,523.1 L665.6,523.9 L666.6,524.6 L667.6,525.3 L668.6,526.0 L669.7,526.6 L670.7,527.2 L671.7,527.8 L672.8,528.3 L673.8,528.9 L674.8,529.3 L675.9,529.8 L676.9,530.3 L677.9,530.7 L679.0,531.1 L680.0,531.4 L681.0,531.8 L682.0,532.1 L683.0,532.5 L684.0,532.8 L685.0,533.1 L686.0,533.4 L687.0,533.7 L688.0,534.0 L689.0,534.3 L690.0,534.6 L691.0,534.9 L692.0,535.2 L693.0,535.4 L694.0,535.7 L695.0,536.0 L696.0,536.2 L697.0,536.5 L698.0,536.7 L699.0,536.9 L700.0,537.2 L701.0,537.4 L702.0,537.6 L703.0,537.9 L704.0,538.1 L705.0,538.3 L706.0,538.5 L707.0,538.7 L708.0,538.9 L709.0,539.1 L710.0,539.3 L711.0,539.5 L712.0,539.7 L713.0,539.8 L714.0,540.0 L715.0,540.2 L716.0,540.4 L717.0,540.5 L718.0,540.7 L719.0,540.8 L720.0,541.0 L721.0,541.1 L722.0,541.3 L723.1,541.4 L724.1,541.6 L725.1,541.7 L726.1,541.8 L727.2,541.9 L728.2,542.1 L729.2,542.2 L730.2,542.3 L731.2,542.4 L732.3,542.5 L733.3,542.6 L734.3,542.7 L735.3,542.8 L736.4,542.9 L737.4,543.0 L738.4,543.1 L739.4,543.2 L740.5,543.3 L741.5,543.4 L742.5,543.5 L743.5,543.6 L744.5,543.7 L745.6,543.8 L746.6,544.0 L747.6,544.1 L748.6,544.2 L749.7,544.4 L750.7,544.6 L751.7,544.7 L752.7,544.9 L753.7,545.1 L754.7,545.4 L755.7,545.6 L756.7,545.9 L757.8,546.1 L758.8,546.4 L759.8,546.7 L760.8,547.0 L761.8,547.3 L762.8,547.6 L763.8,547.9 L764.8,548.2 L765.8,548.5 L766.8,548.7 L767.9,549.0 L768.9,549.2 L769.9,549.5 L770.9,549.7 L771.9,549.8 L772.9,550.0 L773.9,550.1 L774.9,550.2 L775.9,550.4 L776.9,550.5 L777.9,550.6 L778.9,550.7 L779.9,550.8 L780.9,550.9 L782.0,551.0 L783.0,551.1 L784.0,551.2 L785.0,551.3 L786.0,551.4 L787.0,551.5 L788.0,551.6 L789.0,551.7 L790.0,551.8 L791.0,551.9 L792.0,551.9 L793.0,552.0 L794.0,552.1 L795.0,552.2 L796.0,552.2 L797.0,552.3 L798.0,552.3 L799.0,552.4 L800.1,552.4 L801.1,552.5 L802.1,552.5 L803.1,552.5 L804.1,552.6 L805.1,552.6 L806.1,552.6 L807.1,552.6 L808.1,552.6 L809.1,552.6 L810.1,552.6 L811.1,552.6 L812.1,552.6 L813.1,552.6 L814.1,552.6 L815.1,552.6 L816.1,552.6 L817.1,552.6 L818.1,552.6 L819.1,552.6 L820.1,552.6 L821.1,552.6 L822.1,552.6 L823.1,552.6 L824.1,552.6 L825.1,552.6 L826.1,552.6 L827.1,552.6 L828.1,552.6 L829.1,552.6 L830.2,552.6 L831.2,552.6 L832.2,552.6 L833.2,552.6 L834.2,552.6 L835.2,552.6 L836.2,552.6 L837.2,552.6 L838.2,552.6 L839.2,552.6 L840.2,552.6 L841.2,552.6 L842.2,552.6 L843.2,552.6 L844.2,552.6 L845.2,552.6 L846.2,552.6 L847.2,552.6 L848.2,552.6 L849.2,552.6 L850.2,552.6 L851.2,552.6 L852.2,552.5 L853.2,552.5 L854.2,552.3 L855.3,552.2 L856.3,552.0 L857.3,551.7 L858.3,551.4 L859.4,551.1 L860.4,550.8 L861.4,550.4 L862.4,550.1 L863.5,549.7 L864.5,549.4 L865.5,549.1" stroke="#000000" stroke-width="1.9"/>
</g>
<path d="M584.5,397.9 L734,651" stroke="#1530d0" stroke-width="2.2"/>
<path d="M797.9,657.3 L830,683.5" stroke="#1530d0" stroke-width="2.2"/>
<rect x="502.8" y="649" width="14" height="8" fill="#fff" transform="rotate(-35 509.8 653)"/>
<path d="M503.5,655.5 l12.5,-8 M503.5,660 l12.5,-8" stroke="#1a1a1a" stroke-width="1.2"/>
<rect x="859.3" y="649" width="14" height="8" fill="#fff" transform="rotate(-35 866.3 653)"/>
<path d="M860.0,655.5 l12.5,-8 M860.0,660 l12.5,-8" stroke="#1a1a1a" stroke-width="1.2"/>
<path d="M755,400.7 H783.6" stroke="#000000" stroke-width="1.9"/>
<text x="787" y="405.2" font-family="Liberation Sans, sans-serif" font-size="12.5" fill="#000">DARK</text>
<path d="M755,416.0 H783.6" stroke="#6a1616" stroke-width="2.4" stroke-dasharray="2.5,9"/>
<text x="787" y="420.5" font-family="Liberation Sans, sans-serif" font-size="12.5" fill="#000">10 μWcm<tspan font-size="8.5" dy="-5">-2</tspan></text>
<path d="M755,431.4 H783.6" stroke="#5a0c0c" stroke-width="2.4" stroke-dasharray="10,4,2.5,4"/>
<text x="787" y="435.9" font-family="Liberation Sans, sans-serif" font-size="12.5" fill="#000">50</text>
<path d="M755,446.7 H783.6" stroke="#7a1414" stroke-width="2.4" stroke-dasharray="9,5,2.5,5,2.5,5"/>
<text x="787" y="451.2" font-family="Liberation Sans, sans-serif" font-size="12.5" fill="#000">100</text>
<path d="M755,462.1 H783.6" stroke="#7a1a1a" stroke-width="2.2" stroke-dasharray="5,3"/>
<text x="787" y="466.6" font-family="Liberation Sans, sans-serif" font-size="12.5" fill="#000">200</text>
<path d="M755,477.4 H783.6" stroke="#a02424" stroke-width="2.0" stroke-dasharray="1.5,1.7"/>
<text x="787" y="481.9" font-family="Liberation Sans, sans-serif" font-size="12.5" fill="#000">500</text>
<path d="M755,492.7 H783.6" stroke="#c42424" stroke-width="2.0"/>
<text x="787" y="497.2" font-family="Liberation Sans, sans-serif" font-size="12.5" fill="#000">1000</text>
<path d="M755,508.1 H783.6" stroke="#d22020" stroke-width="2.4" stroke-dasharray="10,8.5"/>
<text x="787" y="512.6" font-family="Liberation Sans, sans-serif" font-size="12.5" fill="#000">2500</text>
<path d="M755,523.4 H783.6" stroke="#e01e1e" stroke-width="2.6" stroke-dasharray="2.5,9"/>
<text x="787" y="527.9" font-family="Liberation Sans, sans-serif" font-size="12.5" fill="#000">5000</text>
<text transform="translate(620.07,410.70) scale(1.0030,1)" font-family="Liberation Sans" font-size="30.52" fill="#000">1</text>
<text transform="translate(636.70,410.70) scale(1.4869,1)" font-family="Liberation Sans" font-size="30.50" fill="#000">/</text>
<text transform="translate(649.67,411.10) scale(0.8594,1)" font-family="Liberation Sans" font-size="30.50" fill="#000">C</text>
<text transform="translate(667.80,400.60) scale(1.1623,1)" font-family="Liberation Sans" font-size="17.19" fill="#000">2</text>
<rect x="679.6" y="401.7" width="8.6" height="2.3" fill="#000"/>
<text transform="translate(688.07,410.70) scale(0.9407,1)" font-family="Liberation Sans" font-size="30.52" fill="#000">V</text>
<text transform="translate(524.92,647.80) scale(1.2251,1)" font-family="Liberation Serif" font-size="26.42" fill="#000" stroke="#000" stroke-width="0.2">Φ</text><text transform="translate(547.24,654.40) scale(1.1838,1)" font-family="Liberation Serif" font-size="24.21" font-style="italic" fill="#000" stroke="#000" stroke-width="0.2">b</text><text transform="translate(560.20,654.40) scale(1.1978,1)" font-family="Liberation Serif" font-size="19.70" fill="#000" stroke="#000" stroke-width="0.2">0</text><rect x="582.3" y="637.0" width="18.6" height="1.9" fill="#000"/><rect x="582.3" y="643.8" width="18.6" height="1.9" fill="#000"/><text transform="translate(611.06,647.80) scale(1.2266,1)" font-family="Liberation Serif" font-size="24.51" fill="#000" stroke="#000" stroke-width="0.2">0.47</text><text transform="translate(662.72,647.80) scale(1.1258,1)" font-family="Liberation Serif" font-size="25.47" font-style="italic" fill="#000" stroke="#000" stroke-width="0.2">e</text><text transform="translate(671.81,647.80) scale(1.5337,1)" font-family="Liberation Serif" font-size="24.89" font-style="italic" fill="#000" stroke="#000" stroke-width="0.2">V</text>
<text x="781.5" y="642.5" font-family="Liberation Sans, sans-serif" font-size="18.6" fill="#000">V<tspan font-size="12.5" dy="5">0</tspan><tspan dy="-5">=0.6eV</tspan></text>
</svg>
</body></html>
